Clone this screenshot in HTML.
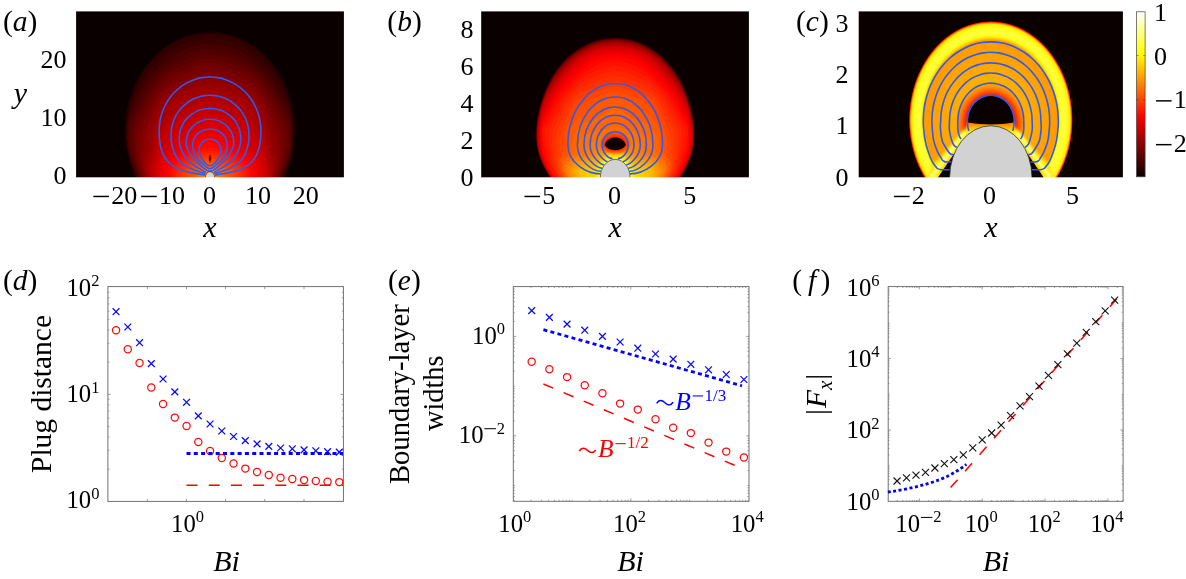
<!DOCTYPE html>
<html><head><meta charset="utf-8"><title>figure</title>
<style>
html,body{margin:0;padding:0;background:#fff;}
body{width:1186px;height:579px;overflow:hidden;font-family:"Liberation Serif",serif;}
svg{display:block;font-family:"Liberation Serif",serif;will-change:transform;}
</style></head><body>
<svg width="1186" height="579" viewBox="0 0 1186 579">
<defs><clipPath id="clipa"><rect x="76" y="11" width="268" height="167"/></clipPath><clipPath id="clipb"><rect x="481" y="11" width="268" height="167"/></clipPath><clipPath id="clipc"><rect x="858" y="11" width="265" height="167"/></clipPath><radialGradient id="ga1" gradientUnits="userSpaceOnUse" cx="0" cy="0" r="1" gradientTransform="translate(210.00 134.60) scale(85.60 104.00)"><stop offset="0.0000" stop-color="#e40000"/><stop offset="0.2170" stop-color="#da0000"/><stop offset="0.4160" stop-color="#c90000"/><stop offset="0.5900" stop-color="#b10000"/><stop offset="0.7080" stop-color="#8f0000"/><stop offset="0.8530" stop-color="#700000"/><stop offset="0.9530" stop-color="#4e0000"/><stop offset="0.9850" stop-color="#220000"/><stop offset="1.0000" stop-color="#0a0000"/></radialGradient><radialGradient id="ga1b" gradientUnits="userSpaceOnUse" cx="0" cy="0" r="1" gradientTransform="translate(210.00 134.60) scale(85.60 136.00)"><stop offset="0.0000" stop-color="#e40000"/><stop offset="0.2170" stop-color="#da0000"/><stop offset="0.4160" stop-color="#c90000"/><stop offset="0.5900" stop-color="#b10000"/><stop offset="0.7080" stop-color="#8f0000"/><stop offset="0.8530" stop-color="#700000"/><stop offset="0.9530" stop-color="#4e0000"/><stop offset="0.9850" stop-color="#220000"/><stop offset="1.0000" stop-color="#0a0000"/></radialGradient><radialGradient id="ga2" gradientUnits="userSpaceOnUse" cx="0" cy="0" r="1" gradientTransform="translate(210.00 178.00) scale(62.00 34.00)"><stop offset="0.0000" stop-color="#ff6a00" stop-opacity="0.950"/><stop offset="0.2500" stop-color="#ff4000" stop-opacity="0.800"/><stop offset="0.6000" stop-color="#ff2000" stop-opacity="0.400"/><stop offset="1.0000" stop-color="#ff0000" stop-opacity="0.000"/></radialGradient><radialGradient id="ga3" gradientUnits="userSpaceOnUse" cx="0" cy="0" r="1" gradientTransform="translate(210.00 158.60) scale(2.00 5.50)"><stop offset="0.0000" stop-color="#100000"/><stop offset="0.3500" stop-color="#500000" stop-opacity="0.750"/><stop offset="1.0000" stop-color="#d00000" stop-opacity="0.000"/></radialGradient><radialGradient id="gb1" gradientUnits="userSpaceOnUse" cx="0" cy="0" r="1" gradientTransform="translate(615.20 150.00) scale(80.50 112.50)"><stop offset="0.0000" stop-color="#ff6d00"/><stop offset="0.4300" stop-color="#ff6600"/><stop offset="0.5700" stop-color="#ff5500"/><stop offset="0.7600" stop-color="#ff3000"/><stop offset="0.9150" stop-color="#ff1100"/><stop offset="0.9780" stop-color="#be0000"/><stop offset="0.9920" stop-color="#520000"/><stop offset="1.0000" stop-color="#0a0000"/></radialGradient><radialGradient id="gb2" gradientUnits="userSpaceOnUse" cx="0" cy="0" r="1" gradientTransform="translate(615.20 180.00) scale(52.00 26.00)"><stop offset="0.0000" stop-color="#ffff20"/><stop offset="0.4500" stop-color="#ffe000" stop-opacity="0.950"/><stop offset="0.7000" stop-color="#ffa000" stop-opacity="0.600"/><stop offset="1.0000" stop-color="#ff6000" stop-opacity="0.000"/></radialGradient><radialGradient id="gb3" gradientUnits="userSpaceOnUse" cx="0" cy="0" r="1" gradientTransform="translate(615.20 144.00) scale(17.00 12.50)"><stop offset="0.0000" stop-color="#0a0000"/><stop offset="0.5500" stop-color="#0a0000"/><stop offset="0.7000" stop-color="#a00000" stop-opacity="0.900"/><stop offset="0.8500" stop-color="#ff1000" stop-opacity="0.600"/><stop offset="1.0000" stop-color="#ff3000" stop-opacity="0.000"/></radialGradient><radialGradient id="gbl" gradientUnits="userSpaceOnUse" cx="0" cy="0" r="1" gradientTransform="translate(615.20 177.00) scale(23.00 27.50)"><stop offset="0.0000" stop-color="#ffff30"/><stop offset="0.6600" stop-color="#ffff30"/><stop offset="0.7800" stop-color="#fff000" stop-opacity="0.700"/><stop offset="0.9000" stop-color="#ffd000" stop-opacity="0.300"/><stop offset="1.0000" stop-color="#ffb000" stop-opacity="0.000"/></radialGradient><radialGradient id="gc1" gradientUnits="userSpaceOnUse" cx="0" cy="0" r="1" gradientTransform="translate(990.80 120.00) scale(82.00 99.00)"><stop offset="0.0000" stop-color="#ffb100"/><stop offset="0.4500" stop-color="#ffad00"/><stop offset="0.7000" stop-color="#ffa000"/><stop offset="0.8050" stop-color="#ff9900"/><stop offset="0.8250" stop-color="#ffcf00"/><stop offset="0.8500" stop-color="#ffff0a"/><stop offset="0.8800" stop-color="#ffff47"/><stop offset="0.9300" stop-color="#ffff1f"/><stop offset="0.9680" stop-color="#ffeb00"/><stop offset="0.9820" stop-color="#ff7700"/><stop offset="0.9920" stop-color="#f50000"/><stop offset="1.0000" stop-color="#0a0000"/></radialGradient><radialGradient id="gc2" gradientUnits="userSpaceOnUse" cx="0" cy="0" r="1" gradientTransform="translate(990.80 123.00) scale(36.00 40.00)"><stop offset="0.0000" stop-color="#ff0000"/><stop offset="0.6200" stop-color="#e80000"/><stop offset="0.7500" stop-color="#ff2800" stop-opacity="0.850"/><stop offset="0.9000" stop-color="#ff6000" stop-opacity="0.400"/><stop offset="1.0000" stop-color="#ff8c00" stop-opacity="0.000"/></radialGradient><linearGradient id="gwedge" gradientUnits="userSpaceOnUse" x1="0" y1="122" x2="0" y2="132"><stop offset="0" stop-color="#ff7000"/><stop offset="0.45" stop-color="#ffa800"/><stop offset="1" stop-color="#fff000"/></linearGradient><linearGradient id="gcb" x1="0" y1="0" x2="0" y2="1"><stop offset="0.000" stop-color="#ffffff"/><stop offset="0.025" stop-color="#ffffe6"/><stop offset="0.050" stop-color="#ffffcd"/><stop offset="0.075" stop-color="#ffffb4"/><stop offset="0.100" stop-color="#ffff9b"/><stop offset="0.125" stop-color="#ffff81"/><stop offset="0.150" stop-color="#ffff68"/><stop offset="0.175" stop-color="#ffff4f"/><stop offset="0.200" stop-color="#ffff36"/><stop offset="0.225" stop-color="#ffff1d"/><stop offset="0.250" stop-color="#ffff04"/><stop offset="0.275" stop-color="#fff100"/><stop offset="0.300" stop-color="#ffe000"/><stop offset="0.325" stop-color="#ffcf00"/><stop offset="0.350" stop-color="#ffbf00"/><stop offset="0.375" stop-color="#ffae00"/><stop offset="0.400" stop-color="#ff9d00"/><stop offset="0.425" stop-color="#ff8c00"/><stop offset="0.450" stop-color="#ff7c00"/><stop offset="0.475" stop-color="#ff6b00"/><stop offset="0.500" stop-color="#ff5a00"/><stop offset="0.525" stop-color="#ff4900"/><stop offset="0.550" stop-color="#ff3900"/><stop offset="0.575" stop-color="#ff2800"/><stop offset="0.600" stop-color="#ff1700"/><stop offset="0.625" stop-color="#ff0600"/><stop offset="0.650" stop-color="#f50000"/><stop offset="0.675" stop-color="#e40000"/><stop offset="0.700" stop-color="#d30000"/><stop offset="0.725" stop-color="#c20000"/><stop offset="0.750" stop-color="#b20000"/><stop offset="0.775" stop-color="#a10000"/><stop offset="0.800" stop-color="#900000"/><stop offset="0.825" stop-color="#7f0000"/><stop offset="0.850" stop-color="#6f0000"/><stop offset="0.875" stop-color="#5e0000"/><stop offset="0.900" stop-color="#4d0000"/><stop offset="0.925" stop-color="#3c0000"/><stop offset="0.950" stop-color="#2c0000"/><stop offset="0.975" stop-color="#1b0000"/><stop offset="1.000" stop-color="#0a0000"/></linearGradient><filter id="blur12" x="-20%" y="-20%" width="140%" height="140%"><feGaussianBlur stdDeviation="1.2"/></filter><filter id="blur22" x="-20%" y="-20%" width="140%" height="140%"><feGaussianBlur stdDeviation="2.2"/></filter><filter id="blur16" x="-20%" y="-20%" width="140%" height="140%"><feGaussianBlur stdDeviation="1.6"/></filter><filter id="blur07" x="-20%" y="-20%" width="140%" height="140%"><feGaussianBlur stdDeviation="0.7"/></filter><filter id="blur25" x="-30%" y="-30%" width="160%" height="160%"><feGaussianBlur stdDeviation="2.5"/></filter></defs>
<g clip-path="url(#clipa)">
<rect x="76" y="11" width="268" height="167" fill="#0a0000"/>
<path d="M210.0 31.2L202.9 32.0L191.6 34.0L185.0 36.0L180.0 38.0L175.8 40.0L172.1 42.0L168.8 44.0L165.8 46.0L163.1 48.0L160.6 50.0L158.3 52.0L156.1 54.0L154.1 56.0L152.1 58.0L150.3 60.0L148.7 62.0L147.1 64.0L145.6 66.0L144.1 68.0L142.8 70.0L141.5 72.0L140.2 74.0L139.1 76.0L138.0 78.0L136.9 80.0L135.9 82.0L135.0 84.0L134.1 86.0L133.3 88.0L132.5 90.0L131.7 92.0L131.0 94.0L130.4 96.0L129.7 98.0L129.2 100.0L128.6 102.0L128.1 104.0L127.7 106.0L127.3 108.0L126.9 110.0L126.5 112.0L126.2 114.0L126.0 116.0L125.7 118.0L125.5 120.0L125.4 122.0L125.2 124.0L125.1 126.0L125.1 128.0L125.1 130.0L125.1 132.0L125.1 134.0L125.2 136.0L125.3 138.0L125.4 140.0L125.6 142.0L125.8 144.0L126.0 146.0L126.3 148.0L126.6 150.0L127.0 152.0L127.4 154.0L127.8 156.0L128.3 158.0L128.8 160.0L129.4 162.0L130.0 164.0L130.6 166.0L131.3 168.0L132.0 170.0L132.7 172.0L133.5 174.0L134.4 176.0L135.2 178.0L135.7 179.0L284.3 179.0L284.8 178.0L285.6 176.0L286.5 174.0L287.3 172.0L288.0 170.0L288.7 168.0L289.4 166.0L290.0 164.0L290.6 162.0L291.2 160.0L291.7 158.0L292.2 156.0L292.6 154.0L293.0 152.0L293.4 150.0L293.7 148.0L294.0 146.0L294.2 144.0L294.4 142.0L294.6 140.0L294.7 138.0L294.8 136.0L294.9 134.0L294.9 132.0L294.9 130.0L294.9 128.0L294.9 126.0L294.8 124.0L294.6 122.0L294.5 120.0L294.3 118.0L294.0 116.0L293.8 114.0L293.5 112.0L293.1 110.0L292.7 108.0L292.3 106.0L291.9 104.0L291.4 102.0L290.8 100.0L290.3 98.0L289.6 96.0L289.0 94.0L288.3 92.0L287.5 90.0L286.7 88.0L285.9 86.0L285.0 84.0L284.1 82.0L283.1 80.0L282.0 78.0L280.9 76.0L279.8 74.0L278.5 72.0L277.2 70.0L275.9 68.0L274.4 66.0L272.9 64.0L271.3 62.0L269.7 60.0L267.9 58.0L265.9 56.0L263.9 54.0L261.7 52.0L259.4 50.0L256.9 48.0L254.2 46.0L251.2 44.0L247.9 42.0L244.2 40.0L240.0 38.0L235.0 36.0L228.4 34.0L217.1 32.0Z" fill="#1b0000"/>
<path d="M210.0 32.7L194.7 34.0L187.3 36.0L181.8 38.0L177.4 40.0L173.5 42.0L170.1 44.0L167.1 46.0L164.3 48.0L161.7 50.0L159.3 52.0L157.1 54.0L155.0 56.0L153.1 58.0L151.2 60.0L149.7 62.0L148.0 64.0L146.5 66.0L145.0 68.0L143.7 70.0L142.3 72.0L141.1 74.0L139.9 76.0L138.8 78.0L137.7 80.0L136.7 82.0L135.8 84.0L134.9 86.0L134.0 88.0L133.2 90.0L132.5 92.0L131.8 94.0L131.1 96.0L130.5 98.0L129.9 100.0L129.3 102.0L128.8 104.0L128.4 106.0L127.9 108.0L127.6 110.0L127.2 112.0L126.9 114.0L126.6 116.0L126.4 118.0L126.2 120.0L126.0 122.0L125.9 124.0L125.8 126.0L125.7 128.0L125.7 130.0L125.7 132.0L125.7 134.0L125.8 136.0L125.9 138.0L126.0 140.0L126.2 142.0L126.4 144.0L126.6 146.0L126.9 148.0L127.2 150.0L127.5 152.0L127.9 154.0L128.4 156.0L128.9 158.0L129.4 160.0L129.9 162.0L130.5 164.0L131.2 166.0L131.8 168.0L132.5 170.0L133.3 172.0L134.1 174.0L134.9 176.0L135.8 178.0L136.2 179.0L283.8 179.0L284.2 178.0L285.1 176.0L285.9 174.0L286.7 172.0L287.5 170.0L288.2 168.0L288.8 166.0L289.5 164.0L290.1 162.0L290.6 160.0L291.1 158.0L291.6 156.0L292.1 154.0L292.5 152.0L292.8 150.0L293.1 148.0L293.4 146.0L293.6 144.0L293.8 142.0L294.0 140.0L294.1 138.0L294.2 136.0L294.3 134.0L294.3 132.0L294.3 130.0L294.3 128.0L294.2 126.0L294.1 124.0L294.0 122.0L293.8 120.0L293.6 118.0L293.4 116.0L293.1 114.0L292.8 112.0L292.4 110.0L292.1 108.0L291.6 106.0L291.2 104.0L290.7 102.0L290.1 100.0L289.5 98.0L288.9 96.0L288.2 94.0L287.5 92.0L286.8 90.0L286.0 88.0L285.1 86.0L284.2 84.0L283.3 82.0L282.3 80.0L281.2 78.0L280.1 76.0L278.9 74.0L277.7 72.0L276.3 70.0L275.0 68.0L273.5 66.0L272.0 64.0L270.3 62.0L268.8 60.0L266.9 58.0L265.0 56.0L262.9 54.0L260.7 52.0L258.3 50.0L255.7 48.0L252.9 46.0L249.9 44.0L246.5 42.0L242.6 40.0L238.2 38.0L232.7 36.0L225.3 34.0Z" fill="#250000"/>
<path d="M210.0 33.4L204.8 34.0L192.4 36.0L185.7 38.0L180.7 40.0L176.4 42.0L172.8 44.0L169.5 46.0L166.6 48.0L163.9 50.0L161.4 52.0L159.1 54.0L156.9 56.0L154.9 58.0L153.0 60.0L151.1 62.0L149.4 64.0L147.9 66.0L146.5 68.0L145.1 70.0L143.8 72.0L142.6 74.0L141.5 76.0L140.3 78.0L139.3 80.0L138.3 82.0L137.3 84.0L136.3 86.0L135.4 88.0L134.6 90.0L133.8 92.0L133.0 94.0L132.2 96.0L131.5 98.0L130.8 100.0L130.2 102.0L129.6 104.0L129.1 106.0L128.7 108.0L128.2 110.0L127.9 112.0L127.6 114.0L127.3 116.0L127.1 118.0L126.8 120.0L126.7 122.0L126.5 124.0L126.4 126.0L126.3 128.0L126.3 130.0L126.3 132.0L126.3 134.0L126.4 136.0L126.4 138.0L126.6 140.0L126.7 142.0L126.9 144.0L127.1 146.0L127.4 148.0L127.7 150.0L128.1 152.0L128.5 154.0L128.9 156.0L129.4 158.0L129.9 160.0L130.5 162.0L131.1 164.0L131.7 166.0L132.4 168.0L133.1 170.0L133.9 172.0L134.6 174.0L135.5 176.0L136.3 178.0L136.8 179.0L283.2 179.0L283.7 178.0L284.5 176.0L285.4 174.0L286.1 172.0L286.9 170.0L287.6 168.0L288.3 166.0L288.9 164.0L289.5 162.0L290.1 160.0L290.6 158.0L291.1 156.0L291.5 154.0L291.9 152.0L292.3 150.0L292.6 148.0L292.9 146.0L293.1 144.0L293.3 142.0L293.4 140.0L293.6 138.0L293.6 136.0L293.7 134.0L293.7 132.0L293.7 130.0L293.7 128.0L293.6 126.0L293.5 124.0L293.3 122.0L293.2 120.0L292.9 118.0L292.7 116.0L292.4 114.0L292.1 112.0L291.8 110.0L291.3 108.0L290.9 106.0L290.4 104.0L289.8 102.0L289.2 100.0L288.5 98.0L287.8 96.0L287.0 94.0L286.2 92.0L285.4 90.0L284.6 88.0L283.7 86.0L282.7 84.0L281.7 82.0L280.7 80.0L279.7 78.0L278.5 76.0L277.4 74.0L276.2 72.0L274.9 70.0L273.5 68.0L272.1 66.0L270.6 64.0L268.9 62.0L267.0 60.0L265.1 58.0L263.1 56.0L260.9 54.0L258.6 52.0L256.1 50.0L253.4 48.0L250.5 46.0L247.2 44.0L243.6 42.0L239.3 40.0L234.3 38.0L227.6 36.0L215.2 34.0Z" fill="#300000"/>
<path d="M210.0 38.8L197.6 40.0L189.5 42.0L183.9 44.0L179.5 46.0L175.6 48.0L172.3 50.0L169.3 52.0L166.6 54.0L164.1 56.0L161.7 58.0L159.6 60.0L157.3 62.0L155.2 64.0L153.2 66.0L151.3 68.0L149.5 70.0L147.9 72.0L146.3 74.0L144.8 76.0L143.5 78.0L142.2 80.0L141.1 82.0L140.0 84.0L138.9 86.0L138.0 88.0L137.1 90.0L136.2 92.0L135.4 94.0L134.7 96.0L133.9 98.0L133.3 100.0L132.3 102.0L131.4 104.0L130.6 106.0L130.0 108.0L129.5 110.0L129.0 112.0L128.6 114.0L128.2 116.0L127.9 118.0L127.6 120.0L127.4 122.0L127.2 124.0L127.1 126.0L127.0 128.0L126.9 130.0L126.9 132.0L126.9 134.0L127.0 136.0L127.0 138.0L127.1 140.0L127.3 142.0L127.5 144.0L127.7 146.0L127.9 148.0L128.2 150.0L128.6 152.0L129.0 154.0L129.5 156.0L129.9 158.0L130.5 160.0L131.0 162.0L131.6 164.0L132.3 166.0L132.9 168.0L133.7 170.0L134.4 172.0L135.2 174.0L136.0 176.0L136.9 178.0L137.3 179.0L282.7 179.0L283.1 178.0L284.0 176.0L284.8 174.0L285.6 172.0L286.3 170.0L287.1 168.0L287.7 166.0L288.4 164.0L289.0 162.0L289.5 160.0L290.1 158.0L290.5 156.0L291.0 154.0L291.4 152.0L291.8 150.0L292.1 148.0L292.3 146.0L292.5 144.0L292.7 142.0L292.9 140.0L293.0 138.0L293.0 136.0L293.1 134.0L293.1 132.0L293.1 130.0L293.0 128.0L292.9 126.0L292.8 124.0L292.6 122.0L292.4 120.0L292.1 118.0L291.8 116.0L291.4 114.0L291.0 112.0L290.5 110.0L290.0 108.0L289.4 106.0L288.6 104.0L287.7 102.0L286.7 100.0L286.1 98.0L285.3 96.0L284.6 94.0L283.8 92.0L282.9 90.0L282.0 88.0L281.1 86.0L280.0 84.0L278.9 82.0L277.8 80.0L276.5 78.0L275.2 76.0L273.7 74.0L272.1 72.0L270.5 70.0L268.7 68.0L266.8 66.0L264.8 64.0L262.7 62.0L260.4 60.0L258.3 58.0L255.9 56.0L253.4 54.0L250.7 52.0L247.7 50.0L244.4 48.0L240.5 46.0L236.1 44.0L230.5 42.0L222.4 40.0Z" fill="#3a0000"/>
<path d="M210.0 43.6L206.8 44.0L193.8 46.0L187.4 48.0L182.6 50.0L178.5 52.0L175.1 54.0L172.0 56.0L169.2 58.0L166.7 60.0L164.0 62.0L161.5 64.0L159.3 66.0L157.1 68.0L155.1 70.0L153.3 72.0L151.5 74.0L149.8 76.0L148.3 78.0L146.8 80.0L145.4 82.0L144.1 84.0L142.8 86.0L141.6 88.0L140.5 90.0L139.4 92.0L138.4 94.0L137.4 96.0L136.5 98.0L135.7 100.0L134.8 102.0L133.9 104.0L133.0 106.0L132.2 108.0L131.4 110.0L130.6 112.0L129.8 114.0L129.2 116.0L128.8 118.0L128.5 120.0L128.2 122.0L128.0 124.0L127.8 126.0L127.7 128.0L127.6 130.0L127.5 132.0L127.5 134.0L127.6 136.0L127.6 138.0L127.7 140.0L127.9 142.0L128.0 144.0L128.2 146.0L128.5 148.0L128.7 150.0L129.1 152.0L129.6 154.0L130.0 156.0L130.5 158.0L131.1 160.0L131.7 162.0L132.3 164.0L133.0 166.0L133.8 168.0L134.6 170.0L135.5 172.0L136.2 174.0L137.1 176.0L137.9 178.0L138.4 179.0L281.6 179.0L282.1 178.0L282.9 176.0L283.8 174.0L284.5 172.0L285.4 170.0L286.2 168.0L287.0 166.0L287.7 164.0L288.3 162.0L288.9 160.0L289.5 158.0L290.0 156.0L290.4 154.0L290.9 152.0L291.3 150.0L291.5 148.0L291.8 146.0L292.0 144.0L292.1 142.0L292.3 140.0L292.4 138.0L292.4 136.0L292.5 134.0L292.5 132.0L292.4 130.0L292.3 128.0L292.2 126.0L292.0 124.0L291.8 122.0L291.5 120.0L291.2 118.0L290.8 116.0L290.2 114.0L289.4 112.0L288.6 110.0L287.8 108.0L287.0 106.0L286.1 104.0L285.2 102.0L284.3 100.0L283.5 98.0L282.6 96.0L281.6 94.0L280.6 92.0L279.5 90.0L278.4 88.0L277.2 86.0L275.9 84.0L274.6 82.0L273.2 80.0L271.7 78.0L270.2 76.0L268.5 74.0L266.7 72.0L264.9 70.0L262.9 68.0L260.7 66.0L258.5 64.0L256.0 62.0L253.3 60.0L250.8 58.0L248.0 56.0L244.9 54.0L241.5 52.0L237.4 50.0L232.6 48.0L226.2 46.0L213.2 44.0Z" fill="#450000"/>
<path d="M210.0 48.9L199.8 50.0L191.5 52.0L186.1 54.0L181.8 56.0L178.2 58.0L175.0 60.0L171.4 62.0L168.1 64.0L165.3 66.0L162.9 68.0L160.6 70.0L158.6 72.0L156.7 74.0L154.9 76.0L153.3 78.0L151.6 80.0L150.1 82.0L148.6 84.0L147.2 86.0L145.9 88.0L144.7 90.0L143.5 92.0L142.4 94.0L141.4 96.0L140.4 98.0L139.4 100.0L138.2 102.0L137.0 104.0L136.0 106.0L134.9 108.0L134.0 110.0L133.1 112.0L132.4 114.0L131.7 116.0L131.0 118.0L130.3 120.0L129.7 122.0L129.1 124.0L128.6 126.0L128.3 128.0L128.2 130.0L128.2 132.0L128.2 134.0L128.2 136.0L128.3 138.0L128.4 140.0L128.5 142.0L128.6 144.0L128.8 146.0L129.0 148.0L129.3 150.0L129.7 152.0L130.2 154.0L130.7 156.0L131.4 158.0L132.1 160.0L132.8 162.0L133.5 164.0L134.2 166.0L135.0 168.0L135.8 170.0L136.6 172.0L137.4 174.0L138.2 176.0L139.0 178.0L139.4 179.0L280.6 179.0L281.0 178.0L281.8 176.0L282.6 174.0L283.4 172.0L284.2 170.0L285.0 168.0L285.8 166.0L286.5 164.0L287.2 162.0L287.9 160.0L288.6 158.0L289.3 156.0L289.8 154.0L290.3 152.0L290.7 150.0L291.0 148.0L291.2 146.0L291.4 144.0L291.5 142.0L291.6 140.0L291.7 138.0L291.8 136.0L291.8 134.0L291.8 132.0L291.8 130.0L291.7 128.0L291.4 126.0L290.9 124.0L290.3 122.0L289.7 120.0L289.0 118.0L288.3 116.0L287.6 114.0L286.9 112.0L286.0 110.0L285.1 108.0L284.0 106.0L283.0 104.0L281.8 102.0L280.6 100.0L279.6 98.0L278.6 96.0L277.6 94.0L276.5 92.0L275.3 90.0L274.1 88.0L272.8 86.0L271.4 84.0L269.9 82.0L268.4 80.0L266.7 78.0L265.1 76.0L263.3 74.0L261.4 72.0L259.4 70.0L257.1 68.0L254.7 66.0L251.9 64.0L248.6 62.0L245.0 60.0L241.8 58.0L238.2 56.0L233.9 54.0L228.5 52.0L220.2 50.0Z" fill="#500000"/>
<path d="M210.0 54.6L196.4 56.0L189.9 58.0L185.2 60.0L180.4 62.0L176.0 64.0L172.5 66.0L169.3 68.0L166.4 70.0L163.9 72.0L161.7 74.0L159.7 76.0L157.8 78.0L156.1 80.0L154.5 82.0L153.0 84.0L151.5 86.0L150.2 88.0L148.9 90.0L147.6 92.0L146.4 94.0L145.3 96.0L144.2 98.0L143.2 100.0L141.9 102.0L140.7 104.0L139.5 106.0L138.3 108.0L137.3 110.0L136.3 112.0L135.4 114.0L134.5 116.0L133.7 118.0L133.0 120.0L132.3 122.0L131.7 124.0L131.2 126.0L130.6 128.0L130.1 130.0L130.1 132.0L130.0 134.0L130.0 136.0L130.0 138.0L130.1 140.0L130.2 142.0L130.3 144.0L130.5 146.0L130.7 148.0L130.9 150.0L131.5 152.0L132.0 154.0L132.5 156.0L133.1 158.0L133.7 160.0L134.3 162.0L134.9 164.0L135.6 166.0L136.3 168.0L137.0 170.0L137.7 172.0L138.5 174.0L139.3 176.0L140.1 178.0L140.5 179.0L279.5 179.0L279.9 178.0L280.7 176.0L281.5 174.0L282.3 172.0L283.0 170.0L283.7 168.0L284.4 166.0L285.1 164.0L285.7 162.0L286.3 160.0L286.9 158.0L287.5 156.0L288.0 154.0L288.5 152.0L289.1 150.0L289.3 148.0L289.5 146.0L289.7 144.0L289.8 142.0L289.9 140.0L290.0 138.0L290.0 136.0L290.0 134.0L289.9 132.0L289.9 130.0L289.4 128.0L288.8 126.0L288.3 124.0L287.7 122.0L287.0 120.0L286.3 118.0L285.5 116.0L284.6 114.0L283.7 112.0L282.7 110.0L281.7 108.0L280.5 106.0L279.3 104.0L278.1 102.0L276.8 100.0L275.8 98.0L274.7 96.0L273.6 94.0L272.4 92.0L271.1 90.0L269.8 88.0L268.5 86.0L267.0 84.0L265.5 82.0L263.9 80.0L262.2 78.0L260.3 76.0L258.3 74.0L256.1 72.0L253.6 70.0L250.7 68.0L247.5 66.0L244.0 64.0L239.6 62.0L234.8 60.0L230.1 58.0L223.6 56.0Z" fill="#5a0000"/>
<path d="M210.0 58.5L195.9 60.0L191.6 62.0L187.3 64.0L182.2 66.0L177.4 68.0L173.3 70.0L170.3 72.0L167.4 74.0L164.8 76.0L162.4 78.0L160.5 80.0L158.7 82.0L157.0 84.0L155.5 86.0L154.0 88.0L152.6 90.0L151.3 92.0L150.1 94.0L149.0 96.0L147.9 98.0L146.9 100.0L145.7 102.0L144.5 104.0L143.3 106.0L142.2 108.0L141.0 110.0L139.9 112.0L138.8 114.0L137.7 116.0L136.8 118.0L136.0 120.0L135.2 122.0L134.6 124.0L133.9 126.0L133.3 128.0L132.8 130.0L132.7 132.0L132.6 134.0L132.6 136.0L132.6 138.0L132.6 140.0L132.7 142.0L132.7 144.0L132.9 146.0L133.0 148.0L133.2 150.0L133.6 152.0L134.0 154.0L134.4 156.0L134.8 158.0L135.3 160.0L135.8 162.0L136.3 164.0L136.9 166.0L137.5 168.0L138.2 170.0L138.9 172.0L139.6 174.0L140.4 176.0L141.2 178.0L141.6 179.0L278.4 179.0L278.8 178.0L279.6 176.0L280.4 174.0L281.1 172.0L281.8 170.0L282.5 168.0L283.1 166.0L283.7 164.0L284.2 162.0L284.7 160.0L285.2 158.0L285.6 156.0L286.0 154.0L286.4 152.0L286.8 150.0L287.0 148.0L287.1 146.0L287.3 144.0L287.3 142.0L287.4 140.0L287.4 138.0L287.4 136.0L287.4 134.0L287.3 132.0L287.2 130.0L286.7 128.0L286.1 126.0L285.4 124.0L284.8 122.0L284.0 120.0L283.2 118.0L282.3 116.0L281.2 114.0L280.1 112.0L279.0 110.0L277.8 108.0L276.7 106.0L275.5 104.0L274.3 102.0L273.1 100.0L272.1 98.0L271.0 96.0L269.9 94.0L268.7 92.0L267.4 90.0L266.0 88.0L264.5 86.0L263.0 84.0L261.3 82.0L259.5 80.0L257.6 78.0L255.2 76.0L252.6 74.0L249.7 72.0L246.7 70.0L242.6 68.0L237.8 66.0L232.7 64.0L228.4 62.0L224.1 60.0Z" fill="#650000"/>
<path d="M210.0 62.7L199.2 64.0L193.8 66.0L189.2 68.0L184.4 70.0L179.4 72.0L174.7 74.0L171.1 76.0L168.4 78.0L165.9 80.0L163.5 82.0L161.3 84.0L159.4 86.0L157.8 88.0L156.3 90.0L154.9 92.0L153.6 94.0L152.4 96.0L151.2 98.0L150.1 100.0L149.1 102.0L148.0 104.0L147.0 106.0L146.0 108.0L145.0 110.0L143.9 112.0L142.8 114.0L141.7 116.0L140.7 118.0L139.6 120.0L138.6 122.0L137.5 124.0L136.7 126.0L136.1 128.0L135.5 130.0L135.3 132.0L135.2 134.0L135.1 136.0L135.1 138.0L135.1 140.0L135.1 142.0L135.2 144.0L135.3 146.0L135.4 148.0L135.5 150.0L135.7 152.0L135.9 154.0L136.2 156.0L136.5 158.0L136.9 160.0L137.3 162.0L137.7 164.0L138.2 166.0L138.8 168.0L139.4 170.0L140.0 172.0L140.7 174.0L141.5 176.0L142.3 178.0L142.7 179.0L277.3 179.0L277.7 178.0L278.5 176.0L279.3 174.0L280.0 172.0L280.6 170.0L281.2 168.0L281.8 166.0L282.3 164.0L282.7 162.0L283.1 160.0L283.5 158.0L283.8 156.0L284.1 154.0L284.3 152.0L284.5 150.0L284.6 148.0L284.7 146.0L284.8 144.0L284.9 142.0L284.9 140.0L284.9 138.0L284.9 136.0L284.8 134.0L284.7 132.0L284.5 130.0L283.9 128.0L283.3 126.0L282.5 124.0L281.4 122.0L280.4 120.0L279.3 118.0L278.3 116.0L277.2 114.0L276.1 112.0L275.0 110.0L274.0 108.0L273.0 106.0L272.0 104.0L270.9 102.0L269.9 100.0L268.8 98.0L267.6 96.0L266.4 94.0L265.1 92.0L263.7 90.0L262.2 88.0L260.6 86.0L258.7 84.0L256.5 82.0L254.1 80.0L251.6 78.0L248.9 76.0L245.3 74.0L240.6 72.0L235.6 70.0L230.8 68.0L226.2 66.0L220.8 64.0Z" fill="#700000"/>
<path d="M210.0 67.3L205.7 68.0L197.2 70.0L191.6 72.0L186.7 74.0L181.8 76.0L176.9 78.0L172.3 80.0L169.2 82.0L166.8 84.0L164.5 86.0L162.4 88.0L160.4 90.0L158.5 92.0L157.1 94.0L155.7 96.0L154.5 98.0L153.3 100.0L152.3 102.0L151.4 104.0L150.4 106.0L149.5 108.0L148.5 110.0L147.6 112.0L146.6 114.0L145.7 116.0L144.7 118.0L143.8 120.0L142.7 122.0L141.8 124.0L140.8 126.0L139.8 128.0L138.9 130.0L138.5 132.0L138.2 134.0L137.9 136.0L137.7 138.0L137.6 140.0L137.6 142.0L137.6 144.0L137.6 146.0L137.7 148.0L137.9 150.0L137.9 152.0L138.0 154.0L138.2 156.0L138.4 158.0L138.7 160.0L139.0 162.0L139.3 164.0L139.7 166.0L140.2 168.0L140.7 170.0L141.3 172.0L142.0 174.0L142.7 176.0L143.5 178.0L143.9 179.0L276.1 179.0L276.5 178.0L277.3 176.0L278.0 174.0L278.7 172.0L279.3 170.0L279.8 168.0L280.3 166.0L280.7 164.0L281.0 162.0L281.3 160.0L281.6 158.0L281.8 156.0L282.0 154.0L282.1 152.0L282.1 150.0L282.3 148.0L282.4 146.0L282.4 144.0L282.4 142.0L282.4 140.0L282.3 138.0L282.1 136.0L281.8 134.0L281.5 132.0L281.1 130.0L280.2 128.0L279.2 126.0L278.2 124.0L277.3 122.0L276.2 120.0L275.3 118.0L274.3 116.0L273.4 114.0L272.4 112.0L271.5 110.0L270.5 108.0L269.6 106.0L268.6 104.0L267.7 102.0L266.7 100.0L265.5 98.0L264.3 96.0L262.9 94.0L261.5 92.0L259.6 90.0L257.6 88.0L255.5 86.0L253.2 84.0L250.8 82.0L247.7 80.0L243.1 78.0L238.2 76.0L233.3 74.0L228.4 72.0L222.8 70.0L214.3 68.0Z" fill="#7a0000"/>
<path d="M210.0 73.0L202.6 74.0L195.2 76.0L189.5 78.0L184.4 80.0L179.4 82.0L174.7 84.0L170.1 86.0L167.6 88.0L165.4 90.0L163.4 92.0L161.5 94.0L159.6 96.0L157.9 98.0L156.5 100.0L155.5 102.0L154.6 104.0L153.7 106.0L152.8 108.0L151.9 110.0L151.1 112.0L150.3 114.0L149.4 116.0L148.6 118.0L147.7 120.0L146.8 122.0L145.9 124.0L145.0 126.0L144.1 128.0L143.2 130.0L142.7 132.0L142.2 134.0L141.7 136.0L141.4 138.0L141.0 140.0L140.7 142.0L140.5 144.0L140.2 146.0L140.1 148.0L140.2 150.0L140.1 152.0L140.1 154.0L140.2 156.0L140.3 158.0L140.5 160.0L140.7 162.0L141.0 164.0L141.3 166.0L141.7 168.0L142.2 170.0L142.6 172.0L143.3 174.0L144.1 176.0L144.8 178.0L145.2 179.0L274.8 179.0L275.2 178.0L275.9 176.0L276.7 174.0L277.4 172.0L277.8 170.0L278.3 168.0L278.7 166.0L279.0 164.0L279.3 162.0L279.5 160.0L279.7 158.0L279.8 156.0L279.9 154.0L279.9 152.0L279.8 150.0L279.9 148.0L279.8 146.0L279.5 144.0L279.3 142.0L279.0 140.0L278.6 138.0L278.3 136.0L277.8 134.0L277.3 132.0L276.8 130.0L275.9 128.0L275.0 126.0L274.1 124.0L273.2 122.0L272.3 120.0L271.4 118.0L270.6 116.0L269.7 114.0L268.9 112.0L268.1 110.0L267.2 108.0L266.3 106.0L265.4 104.0L264.5 102.0L263.5 100.0L262.1 98.0L260.4 96.0L258.5 94.0L256.6 92.0L254.6 90.0L252.4 88.0L249.9 86.0L245.3 84.0L240.6 82.0L235.6 80.0L230.5 78.0L224.8 76.0L217.4 74.0Z" fill="#850000"/>
<path d="M210.0 78.8L200.1 80.0L193.2 82.0L187.2 84.0L182.1 86.0L177.3 88.0L172.6 90.0L168.3 92.0L166.2 94.0L164.3 96.0L162.4 98.0L160.7 100.0L159.4 102.0L158.2 104.0L157.1 106.0L156.1 108.0L155.1 110.0L154.3 112.0L153.5 114.0L152.7 116.0L152.0 118.0L151.2 120.0L150.5 122.0L149.9 124.0L149.1 126.0L148.3 128.0L147.5 130.0L146.9 132.0L146.3 134.0L145.8 136.0L145.3 138.0L144.9 140.0L144.6 142.0L144.2 144.0L143.9 146.0L143.7 148.0L143.5 150.0L142.9 152.0L142.5 154.0L142.3 156.0L142.2 158.0L142.3 160.0L142.4 162.0L142.6 164.0L142.9 166.0L143.2 168.0L143.6 170.0L144.0 172.0L144.7 174.0L145.4 176.0L146.2 178.0L146.6 179.0L273.4 179.0L273.8 178.0L274.6 176.0L275.3 174.0L276.0 172.0L276.4 170.0L276.8 168.0L277.1 166.0L277.4 164.0L277.6 162.0L277.7 160.0L277.8 158.0L277.7 156.0L277.5 154.0L277.1 152.0L276.5 150.0L276.3 148.0L276.1 146.0L275.8 144.0L275.4 142.0L275.1 140.0L274.7 138.0L274.2 136.0L273.7 134.0L273.1 132.0L272.5 130.0L271.7 128.0L270.9 126.0L270.1 124.0L269.5 122.0L268.8 120.0L268.0 118.0L267.3 116.0L266.5 114.0L265.7 112.0L264.9 110.0L263.9 108.0L262.9 106.0L261.8 104.0L260.6 102.0L259.3 100.0L257.6 98.0L255.7 96.0L253.8 94.0L251.7 92.0L247.4 90.0L242.7 88.0L237.9 86.0L232.8 84.0L226.8 82.0L219.9 80.0Z" fill="#8f0000"/>
<path d="M210.0 83.9L209.3 84.0L198.1 86.0L191.2 88.0L184.9 90.0L180.0 92.0L175.3 94.0L170.7 96.0L167.0 98.0L165.1 100.0L163.9 102.0L162.6 104.0L161.3 106.0L160.1 108.0L159.0 110.0L158.0 112.0L157.0 114.0L156.1 116.0L155.2 118.0L154.4 120.0L153.7 122.0L153.1 124.0L152.4 126.0L151.8 128.0L151.2 130.0L150.6 132.0L150.2 134.0L149.8 136.0L149.3 138.0L148.8 140.0L148.4 142.0L148.0 144.0L147.6 146.0L147.3 148.0L147.1 150.0L146.2 152.0L145.4 154.0L144.9 156.0L144.6 158.0L144.4 160.0L144.3 162.0L144.4 164.0L144.5 166.0L144.8 168.0L145.1 170.0L145.4 172.0L146.1 174.0L146.8 176.0L147.5 178.0L147.9 179.0L272.1 179.0L272.5 178.0L273.2 176.0L273.9 174.0L274.6 172.0L274.9 170.0L275.2 168.0L275.5 166.0L275.6 164.0L275.7 162.0L275.6 160.0L275.4 158.0L275.1 156.0L274.6 154.0L273.8 152.0L272.9 150.0L272.7 148.0L272.4 146.0L272.0 144.0L271.6 142.0L271.2 140.0L270.7 138.0L270.2 136.0L269.8 134.0L269.4 132.0L268.8 130.0L268.2 128.0L267.6 126.0L266.9 124.0L266.3 122.0L265.6 120.0L264.8 118.0L263.9 116.0L263.0 114.0L262.0 112.0L261.0 110.0L259.9 108.0L258.7 106.0L257.4 104.0L256.1 102.0L254.9 100.0L253.0 98.0L249.3 96.0L244.7 94.0L240.0 92.0L235.1 90.0L228.8 88.0L221.9 86.0L210.7 84.0Z" fill="#9a0000"/>
<path d="M210.0 89.4L205.5 90.0L196.1 92.0L189.2 94.0L182.7 96.0L178.1 98.0L173.5 100.0L170.7 102.0L168.1 104.0L166.1 106.0L164.9 108.0L163.6 110.0L162.3 112.0L161.0 114.0L159.8 116.0L158.8 118.0L157.9 120.0L157.1 122.0L156.3 124.0L155.6 126.0L154.9 128.0L154.3 130.0L153.7 132.0L153.1 134.0L152.6 136.0L152.2 138.0L151.8 140.0L151.5 142.0L151.2 144.0L151.0 146.0L150.8 148.0L150.6 150.0L149.6 152.0L148.7 154.0L147.9 156.0L147.2 158.0L146.7 160.0L146.3 162.0L146.2 164.0L146.2 166.0L146.4 168.0L146.6 170.0L146.8 172.0L147.5 174.0L148.2 176.0L148.9 178.0L149.3 179.0L270.7 179.0L271.1 178.0L271.8 176.0L272.5 174.0L273.2 172.0L273.4 170.0L273.6 168.0L273.8 166.0L273.8 164.0L273.7 162.0L273.3 160.0L272.8 158.0L272.1 156.0L271.3 154.0L270.4 152.0L269.4 150.0L269.2 148.0L269.0 146.0L268.8 144.0L268.5 142.0L268.2 140.0L267.8 138.0L267.4 136.0L266.9 134.0L266.3 132.0L265.7 130.0L265.1 128.0L264.4 126.0L263.7 124.0L262.9 122.0L262.1 120.0L261.2 118.0L260.2 116.0L259.0 114.0L257.7 112.0L256.4 110.0L255.1 108.0L253.9 106.0L251.9 104.0L249.3 102.0L246.5 100.0L241.9 98.0L237.3 96.0L230.8 94.0L223.9 92.0L214.5 90.0Z" fill="#a50000"/>
<path d="M210.0 95.1L202.5 96.0L194.3 98.0L186.9 100.0L182.2 102.0L179.2 104.0L176.1 106.0L173.4 108.0L171.0 110.0L168.8 112.0L166.8 114.0L165.1 116.0L163.9 118.0L162.6 120.0L161.2 122.0L159.8 124.0L158.9 126.0L158.2 128.0L157.5 130.0L156.7 132.0L156.0 134.0L155.4 136.0L154.9 138.0L154.4 140.0L154.0 142.0L153.6 144.0L153.3 146.0L153.1 148.0L152.9 150.0L152.3 152.0L151.7 154.0L151.0 156.0L150.3 158.0L149.6 160.0L149.0 162.0L148.6 164.0L148.2 166.0L148.0 168.0L148.0 170.0L148.2 172.0L148.9 174.0L149.5 176.0L150.2 178.0L150.6 179.0L269.4 179.0L269.8 178.0L270.5 176.0L271.1 174.0L271.8 172.0L272.0 170.0L272.0 168.0L271.8 166.0L271.4 164.0L271.0 162.0L270.4 160.0L269.7 158.0L269.0 156.0L268.3 154.0L267.7 152.0L267.1 150.0L266.9 148.0L266.7 146.0L266.4 144.0L266.0 142.0L265.6 140.0L265.1 138.0L264.6 136.0L264.0 134.0L263.3 132.0L262.5 130.0L261.8 128.0L261.1 126.0L260.2 124.0L258.8 122.0L257.4 120.0L256.1 118.0L254.9 116.0L253.2 114.0L251.2 112.0L249.0 110.0L246.6 108.0L243.9 106.0L240.8 104.0L237.8 102.0L233.1 100.0L225.7 98.0L217.5 96.0Z" fill="#af0000"/>
<path d="M210.0 100.9L202.5 102.0L195.9 104.0L190.5 106.0L185.9 108.0L181.8 110.0L178.8 112.0L175.7 114.0L173.3 116.0L171.3 118.0L169.4 120.0L167.7 122.0L166.1 124.0L164.6 126.0L163.3 128.0L161.9 130.0L160.3 132.0L159.1 134.0L158.3 136.0L157.6 138.0L157.1 140.0L156.5 142.0L156.1 144.0L155.7 146.0L155.4 148.0L155.1 150.0L154.6 152.0L154.0 154.0L153.5 156.0L152.9 158.0L152.4 160.0L151.8 162.0L151.2 164.0L150.8 166.0L150.4 168.0L150.1 170.0L149.9 172.0L150.6 174.0L151.2 176.0L151.9 178.0L152.3 179.0L267.7 179.0L268.1 178.0L268.8 176.0L269.4 174.0L270.1 172.0L269.9 170.0L269.6 168.0L269.2 166.0L268.8 164.0L268.2 162.0L267.6 160.0L267.1 158.0L266.5 156.0L266.0 154.0L265.4 152.0L264.9 150.0L264.6 148.0L264.3 146.0L263.9 144.0L263.5 142.0L262.9 140.0L262.4 138.0L261.7 136.0L260.9 134.0L259.7 132.0L258.1 130.0L256.7 128.0L255.4 126.0L253.9 124.0L252.3 122.0L250.6 120.0L248.7 118.0L246.7 116.0L244.3 114.0L241.2 112.0L238.2 110.0L234.1 108.0L229.5 106.0L224.1 104.0L217.5 102.0Z" fill="#ba0000"/>
<path d="M210.0 107.5L207.4 108.0L199.6 110.0L193.8 112.0L189.1 114.0L185.1 116.0L181.6 118.0L178.6 120.0L175.6 122.0L173.4 124.0L171.6 126.0L170.0 128.0L168.5 130.0L167.0 132.0L165.4 134.0L163.9 136.0L162.3 138.0L160.8 140.0L159.4 142.0L158.6 144.0L158.1 146.0L157.7 148.0L157.4 150.0L156.8 152.0L156.3 154.0L155.7 156.0L155.2 158.0L154.7 160.0L154.2 162.0L153.8 164.0L153.3 166.0L152.9 168.0L152.5 170.0L152.2 172.0L152.8 174.0L153.5 176.0L154.1 178.0L154.5 179.0L265.5 179.0L265.9 178.0L266.5 176.0L267.2 174.0L267.8 172.0L267.5 170.0L267.1 168.0L266.7 166.0L266.2 164.0L265.8 162.0L265.3 160.0L264.8 158.0L264.3 156.0L263.7 154.0L263.2 152.0L262.6 150.0L262.3 148.0L261.9 146.0L261.4 144.0L260.6 142.0L259.2 140.0L257.7 138.0L256.1 136.0L254.6 134.0L253.0 132.0L251.5 130.0L250.0 128.0L248.4 126.0L246.6 124.0L244.4 122.0L241.4 120.0L238.4 118.0L234.9 116.0L230.9 114.0L226.2 112.0L220.4 110.0L212.6 108.0Z" fill="#c50000"/>
<path d="M210.0 115.1L204.3 116.0L197.6 118.0L191.7 120.0L188.0 122.0L184.7 124.0L181.5 126.0L178.6 128.0L175.8 130.0L173.7 132.0L172.1 134.0L170.6 136.0L169.1 138.0L167.6 140.0L166.1 142.0L164.6 144.0L163.1 146.0L161.6 148.0L160.1 150.0L159.1 152.0L158.6 154.0L158.1 156.0L157.5 158.0L157.0 160.0L156.5 162.0L156.1 164.0L155.6 166.0L155.2 168.0L154.9 170.0L154.5 172.0L155.1 174.0L155.7 176.0L156.3 178.0L156.7 179.0L263.3 179.0L263.7 178.0L264.3 176.0L264.9 174.0L265.5 172.0L265.1 170.0L264.8 168.0L264.4 166.0L263.9 164.0L263.5 162.0L263.0 160.0L262.5 158.0L261.9 156.0L261.4 154.0L260.9 152.0L259.9 150.0L258.4 148.0L256.9 146.0L255.4 144.0L253.9 142.0L252.4 140.0L250.9 138.0L249.4 136.0L247.9 134.0L246.3 132.0L244.2 130.0L241.4 128.0L238.5 126.0L235.3 124.0L232.0 122.0L228.3 120.0L222.4 118.0L215.7 116.0Z" fill="#cf0000"/>
<path d="M210.0 121.7L208.7 122.0L201.8 124.0L195.6 126.0L190.5 128.0L187.4 130.0L183.7 132.0L180.8 134.0L178.3 136.0L176.1 138.0L174.4 140.0L172.9 142.0L171.4 144.0L170.0 146.0L168.5 148.0L167.0 150.0L164.6 152.0L162.6 154.0L161.0 156.0L160.0 158.0L159.5 160.0L159.0 162.0L158.5 164.0L157.9 166.0L157.5 168.0L157.2 170.0L156.8 172.0L157.4 174.0L158.0 176.0L158.6 178.0L158.9 179.0L261.1 179.0L261.4 178.0L262.0 176.0L262.6 174.0L263.2 172.0L262.8 170.0L262.5 168.0L262.1 166.0L261.5 164.0L261.0 162.0L260.5 160.0L260.0 158.0L259.0 156.0L257.4 154.0L255.4 152.0L253.0 150.0L251.5 148.0L250.0 146.0L248.6 144.0L247.1 142.0L245.6 140.0L243.9 138.0L241.7 136.0L239.2 134.0L236.3 132.0L232.6 130.0L229.5 128.0L224.4 126.0L218.2 124.0L211.3 122.0Z" fill="#da0000"/>
<path d="M210.0 129.4L205.7 130.0L196.5 132.0L190.6 134.0L187.1 136.0L184.3 138.0L182.0 140.0L179.9 142.0L178.1 144.0L176.6 146.0L175.3 148.0L173.9 150.0L170.6 152.0L168.1 154.0L166.1 156.0L164.5 158.0L163.1 160.0L161.9 162.0L161.1 164.0L160.6 166.0L160.1 168.0L159.6 170.0L159.1 172.0L159.6 174.0L160.2 176.0L160.8 178.0L161.1 179.0L258.9 179.0L259.2 178.0L259.8 176.0L260.4 174.0L260.9 172.0L260.4 170.0L259.9 168.0L259.4 166.0L258.9 164.0L258.1 162.0L256.9 160.0L255.5 158.0L253.9 156.0L251.9 154.0L249.4 152.0L246.1 150.0L244.7 148.0L243.4 146.0L241.9 144.0L240.1 142.0L238.0 140.0L235.7 138.0L232.9 136.0L229.4 134.0L223.5 132.0L214.3 130.0Z" fill="#e40000"/>
<path d="M210.0 133.7L208.2 134.0L198.6 136.0L193.6 138.0L189.9 140.0L187.1 142.0L184.8 144.0L182.9 146.0L181.2 148.0L179.7 150.0L176.4 152.0L173.5 154.0L171.0 156.0L169.0 158.0L167.4 160.0L166.0 162.0L164.9 164.0L163.9 166.0L163.1 168.0L162.5 170.0L162.0 172.0L162.5 174.0L163.0 176.0L163.6 178.0L163.9 179.0L256.1 179.0L256.4 178.0L257.0 176.0L257.5 174.0L258.0 172.0L257.5 170.0L256.9 168.0L256.1 166.0L255.1 164.0L254.0 162.0L252.6 160.0L251.0 158.0L249.0 156.0L246.5 154.0L243.6 152.0L240.3 150.0L238.8 148.0L237.1 146.0L235.2 144.0L232.9 142.0L230.1 140.0L226.4 138.0L221.4 136.0L211.8 134.0Z" fill="#ef0000"/>
<path d="M210.0 138.6L199.9 140.0L195.7 142.0L192.3 144.0L189.5 146.0L187.1 148.0L185.3 150.0L181.8 152.0L178.6 154.0L175.8 156.0L173.4 158.0L171.4 160.0L169.8 162.0L168.5 164.0L167.4 166.0L166.5 168.0L165.6 170.0L165.0 172.0L165.4 174.0L165.9 176.0L166.5 178.0L166.7 179.0L253.3 179.0L253.5 178.0L254.1 176.0L254.6 174.0L255.0 172.0L254.4 170.0L253.5 168.0L252.6 166.0L251.5 164.0L250.2 162.0L248.6 160.0L246.6 158.0L244.2 156.0L241.4 154.0L238.2 152.0L234.7 150.0L232.9 148.0L230.5 146.0L227.7 144.0L224.3 142.0L220.1 140.0Z" fill="#fa0000"/>
<path d="M210.0 142.8L202.3 144.0L197.2 146.0L194.2 148.0L191.6 150.0L187.2 152.0L183.8 154.0L180.6 156.0L177.7 158.0L175.5 160.0L173.5 162.0L171.9 164.0L170.6 166.0L169.5 168.0L168.7 170.0L168.0 172.0L168.4 174.0L168.8 176.0L169.3 178.0L169.6 179.0L250.4 179.0L250.7 178.0L251.2 176.0L251.6 174.0L252.0 172.0L251.3 170.0L250.5 168.0L249.4 166.0L248.1 164.0L246.5 162.0L244.5 160.0L242.3 158.0L239.4 156.0L236.2 154.0L232.8 152.0L228.4 150.0L225.8 148.0L222.8 146.0L217.7 144.0Z" fill="#ff0500"/>
<path d="M210.0 147.2L205.3 148.0L198.3 150.0L193.3 152.0L189.1 154.0L185.6 156.0L182.5 158.0L179.7 160.0L177.2 162.0L175.4 164.0L173.8 166.0L172.5 168.0L171.5 170.0L170.6 172.0L171.0 174.0L171.4 176.0L171.9 178.0L172.1 179.0L247.9 179.0L248.1 178.0L248.6 176.0L249.0 174.0L249.4 172.0L248.5 170.0L247.5 168.0L246.2 166.0L244.6 164.0L242.8 162.0L240.3 160.0L237.5 158.0L234.4 156.0L230.9 154.0L226.7 152.0L221.7 150.0L214.7 148.0Z" fill="#ff1000"/>
<path d="M210.0 150.6L199.4 152.0L194.7 154.0L190.9 156.0L187.3 158.0L184.3 160.0L181.5 162.0L179.0 164.0L177.0 166.0L175.5 168.0L174.2 170.0L173.2 172.0L173.6 174.0L174.0 176.0L174.4 178.0L174.6 179.0L245.4 179.0L245.6 178.0L246.0 176.0L246.4 174.0L246.8 172.0L245.8 170.0L244.5 168.0L243.0 166.0L241.0 164.0L238.5 162.0L235.7 160.0L232.7 158.0L229.1 156.0L225.3 154.0L220.6 152.0Z" fill="#ff1b00"/>
<path d="M210.0 152.6L200.2 154.0L195.9 156.0L192.3 158.0L188.9 160.0L185.9 162.0L183.3 164.0L180.8 166.0L178.5 168.0L177.0 170.0L175.8 172.0L176.2 174.0L176.5 176.0L176.9 178.0L177.1 179.0L242.9 179.0L243.1 178.0L243.5 176.0L243.8 174.0L244.2 172.0L243.0 170.0L241.5 168.0L239.2 166.0L236.7 164.0L234.1 162.0L231.1 160.0L227.7 158.0L224.1 156.0L219.8 154.0Z" fill="#ff2500"/>
<path d="M210.0 154.7L201.3 156.0L197.0 158.0L193.5 160.0L190.5 162.0L187.5 164.0L184.9 166.0L182.5 168.0L180.3 170.0L178.4 172.0L178.8 174.0L179.1 176.0L179.5 178.0L179.7 179.0L240.3 179.0L240.5 178.0L240.9 176.0L241.2 174.0L241.6 172.0L239.7 170.0L237.5 168.0L235.1 166.0L232.5 164.0L229.5 162.0L226.5 160.0L223.0 158.0L218.7 156.0Z" fill="#ff3000"/>
<path d="M210.0 156.7L202.1 158.0L197.9 160.0L194.6 162.0L191.8 164.0L189.0 166.0L186.4 168.0L184.1 170.0L181.9 172.0L182.2 174.0L182.5 176.0L182.9 178.0L183.0 179.0L237.0 179.0L237.1 178.0L237.5 176.0L237.8 174.0L238.1 172.0L235.9 170.0L233.6 168.0L231.0 166.0L228.2 164.0L225.4 162.0L222.1 160.0L217.9 158.0Z" fill="#ff3a00"/>
<path d="M210.0 158.7L202.6 160.0L198.7 162.0L195.6 164.0L192.9 166.0L190.4 168.0L187.9 170.0L185.6 172.0L185.9 174.0L186.1 176.0L186.4 178.0L186.6 179.0L233.4 179.0L233.6 178.0L233.9 176.0L234.1 174.0L234.4 172.0L232.1 170.0L229.6 168.0L227.1 166.0L224.4 164.0L221.3 162.0L217.4 160.0Z" fill="#ff4500"/>
<path d="M210.0 160.7L203.0 162.0L199.4 164.0L196.5 166.0L193.9 168.0L191.7 170.0L189.3 172.0L189.5 174.0L189.7 176.0L190.0 178.0L190.1 179.0L229.9 179.0L230.0 178.0L230.3 176.0L230.5 174.0L230.7 172.0L228.3 170.0L226.1 168.0L223.5 166.0L220.6 164.0L217.0 162.0Z" fill="#ff5000"/>
<path d="M210.0 162.7L203.3 164.0L200.0 166.0L197.3 168.0L194.8 170.0L192.7 172.0L192.9 174.0L193.1 176.0L193.3 178.0L193.4 179.0L226.6 179.0L226.7 178.0L226.9 176.0L227.1 174.0L227.3 172.0L225.2 170.0L222.7 168.0L220.0 166.0L216.7 164.0Z" fill="#ff5a00"/>
<path d="M210.0 164.6L203.5 166.0L200.5 168.0L198.0 170.0L195.7 172.0L195.8 174.0L196.0 176.0L196.1 178.0L196.2 179.0L223.8 179.0L223.9 178.0L224.0 176.0L224.2 174.0L224.3 172.0L222.0 170.0L219.5 168.0L216.5 166.0Z" fill="#ff6500"/>
<path d="M210.0 166.6L203.7 168.0L201.0 170.0L198.6 172.0L198.7 174.0L198.9 176.0L199.0 178.0L199.1 179.0L220.9 179.0L221.0 178.0L221.1 176.0L221.3 174.0L221.4 172.0L219.0 170.0L216.3 168.0Z" fill="#ff7000"/>
<path d="M209.8 168.0L203.9 170.0L201.4 172.0L201.5 174.0L201.6 176.0L201.7 178.0L201.8 179.0L218.2 179.0L218.3 178.0L218.4 176.0L218.5 174.0L218.6 172.0L216.1 170.0L210.2 168.0Z" fill="#ff7a00"/>
<ellipse cx="210" cy="158.6" rx="2.0" ry="5.5" fill="url(#ga3)"/>
<path d="M204.90 175.00C203.15 174.73 198.05 174.10 194.40 173.40C190.75 172.70 186.63 172.10 183.00 170.80C179.37 169.50 175.53 167.68 172.60 165.60C169.67 163.52 167.30 161.07 165.40 158.30C163.50 155.53 162.18 152.13 161.20 149.00C160.22 145.87 159.85 142.50 159.50 139.50C159.15 136.50 159.06 133.82 159.10 131.00C159.14 128.18 159.31 125.33 159.73 122.55C160.14 119.77 160.77 116.99 161.59 114.31C162.41 111.64 163.44 108.99 164.65 106.48C165.85 103.98 167.26 101.54 168.82 99.26C170.38 96.98 172.13 94.81 174.01 92.82C175.89 90.83 177.93 88.97 180.08 87.31C182.23 85.66 184.53 84.16 186.89 82.89C189.26 81.61 191.75 80.51 194.27 79.64C196.80 78.77 199.42 78.11 202.04 77.66C204.66 77.22 207.35 77.00 210.00 77.00C212.65 77.00 215.34 77.22 217.96 77.66C220.58 78.11 223.20 78.77 225.73 79.64C228.25 80.51 230.74 81.61 233.11 82.89C235.47 84.16 237.77 85.66 239.92 87.31C242.07 88.97 244.11 90.83 245.99 92.82C247.87 94.81 249.62 96.98 251.18 99.26C252.74 101.54 254.15 103.98 255.35 106.48C256.56 108.99 257.59 111.64 258.41 114.31C259.23 116.99 259.86 119.77 260.27 122.55C260.69 125.33 260.86 128.18 260.90 131.00C260.94 133.82 260.85 136.50 260.50 139.50C260.15 142.50 259.78 145.87 258.80 149.00C257.82 152.13 256.50 155.53 254.60 158.30C252.70 161.07 250.33 163.52 247.40 165.60C244.47 167.68 240.63 169.50 237.00 170.80C233.37 172.10 229.25 172.70 225.60 173.40C221.95 174.10 216.85 174.73 215.10 175.00" fill="none" stroke="#2d5af0" stroke-width="1.6" stroke-linejoin="round"/>
<path d="M205.30 173.80C203.83 173.30 199.53 172.00 196.50 170.80C193.47 169.60 190.05 168.33 187.10 166.60C184.15 164.87 181.03 162.98 178.80 160.40C176.57 157.82 174.95 154.17 173.70 151.10C172.45 148.03 171.75 144.68 171.30 142.00C170.85 139.32 170.97 137.20 171.00 135.00C171.03 132.80 171.16 130.82 171.48 128.77C171.80 126.72 172.28 124.67 172.91 122.70C173.54 120.73 174.33 118.78 175.25 116.93C176.17 115.08 177.25 113.29 178.45 111.61C179.64 109.93 180.98 108.32 182.42 106.86C183.86 105.39 185.43 104.02 187.08 102.80C188.72 101.58 190.48 100.48 192.29 99.54C194.11 98.60 196.01 97.79 197.95 97.15C199.88 96.51 201.89 96.01 203.90 95.69C205.91 95.37 207.97 95.20 210.00 95.20C212.03 95.20 214.09 95.37 216.10 95.69C218.11 96.01 220.12 96.51 222.05 97.15C223.99 97.79 225.89 98.60 227.71 99.54C229.52 100.48 231.28 101.58 232.92 102.80C234.57 104.02 236.14 105.39 237.58 106.86C239.02 108.32 240.36 109.93 241.55 111.61C242.75 113.29 243.83 115.08 244.75 116.93C245.67 118.78 246.46 120.73 247.09 122.70C247.72 124.67 248.20 126.72 248.52 128.77C248.84 130.82 248.97 132.80 249.00 135.00C249.03 137.20 249.15 139.32 248.70 142.00C248.25 144.68 247.55 148.03 246.30 151.10C245.05 154.17 243.43 157.82 241.20 160.40C238.97 162.98 235.85 164.87 232.90 166.60C229.95 168.33 226.53 169.60 223.50 170.80C220.47 172.00 216.17 173.30 214.70 173.80" fill="none" stroke="#2d5af0" stroke-width="1.6" stroke-linejoin="round"/>
<path d="M206.00 172.60C205.27 172.15 203.53 171.07 201.60 169.90C199.67 168.73 196.82 167.35 194.40 165.60C191.98 163.85 189.18 161.82 187.10 159.40C185.02 156.98 183.15 153.67 181.90 151.10C180.65 148.53 180.03 146.18 179.60 144.00C179.17 141.82 179.29 139.77 179.30 138.00C179.31 136.23 179.43 134.89 179.68 133.37C179.93 131.85 180.31 130.32 180.80 128.85C181.30 127.39 181.92 125.94 182.65 124.56C183.37 123.19 184.22 121.85 185.16 120.60C186.10 119.35 187.16 118.16 188.29 117.07C189.42 115.98 190.66 114.96 191.95 114.05C193.25 113.15 194.64 112.33 196.06 111.63C197.49 110.93 198.99 110.33 200.51 109.85C202.04 109.37 203.62 109.01 205.20 108.76C206.78 108.52 208.40 108.40 210.00 108.40C211.60 108.40 213.22 108.52 214.80 108.76C216.38 109.01 217.96 109.37 219.49 109.85C221.01 110.33 222.51 110.93 223.94 111.63C225.36 112.33 226.75 113.15 228.05 114.05C229.34 114.96 230.58 115.98 231.71 117.07C232.84 118.16 233.90 119.35 234.84 120.60C235.78 121.85 236.63 123.19 237.35 124.56C238.08 125.94 238.70 127.39 239.20 128.85C239.69 130.32 240.07 131.85 240.32 133.37C240.57 134.89 240.69 136.23 240.70 138.00C240.71 139.77 240.83 141.82 240.40 144.00C239.97 146.18 239.35 148.53 238.10 151.10C236.85 153.67 234.98 156.98 232.90 159.40C230.82 161.82 228.02 163.85 225.60 165.60C223.18 167.35 220.33 168.73 218.40 169.90C216.47 171.07 214.73 172.15 214.00 172.60" fill="none" stroke="#2d5af0" stroke-width="1.6" stroke-linejoin="round"/>
<path d="M210.00 171.30C208.53 171.30 207.33 170.72 205.60 169.60C203.87 168.48 201.65 166.48 199.60 164.60C197.55 162.72 195.12 160.55 193.30 158.30C191.48 156.05 189.82 153.15 188.70 151.10C187.58 149.05 187.00 147.52 186.60 146.00C186.20 144.48 186.30 143.26 186.30 142.00C186.30 140.74 186.40 139.62 186.59 138.45C186.79 137.28 187.08 136.11 187.46 134.99C187.84 133.86 188.32 132.75 188.88 131.69C189.44 130.64 190.10 129.61 190.83 128.66C191.55 127.70 192.37 126.79 193.24 125.95C194.12 125.11 195.07 124.33 196.07 123.64C197.07 122.94 198.14 122.31 199.24 121.77C200.34 121.24 201.50 120.78 202.68 120.41C203.85 120.05 205.07 119.76 206.29 119.58C207.51 119.39 208.76 119.30 210.00 119.30C211.24 119.30 212.49 119.39 213.71 119.58C214.93 119.76 216.15 120.05 217.32 120.41C218.50 120.78 219.66 121.24 220.76 121.77C221.86 122.31 222.93 122.94 223.93 123.64C224.93 124.33 225.88 125.11 226.76 125.95C227.63 126.79 228.45 127.70 229.17 128.66C229.90 129.61 230.56 130.64 231.12 131.69C231.68 132.75 232.16 133.86 232.54 134.99C232.92 136.11 233.21 137.28 233.41 138.45C233.60 139.62 233.70 140.74 233.70 142.00C233.70 143.26 233.80 144.48 233.40 146.00C233.00 147.52 232.42 149.05 231.30 151.10C230.18 153.15 228.52 156.05 226.70 158.30C224.88 160.55 222.45 162.72 220.40 164.60C218.35 166.48 216.13 168.48 214.40 169.60C212.67 170.72 211.47 171.30 210.00 171.30Z" fill="none" stroke="#2d5af0" stroke-width="1.6" stroke-linejoin="round"/>
<path d="M210.00 168.60C208.87 168.60 207.77 167.93 206.60 167.20C205.43 166.47 204.43 165.50 203.00 164.20C201.57 162.90 199.52 161.42 198.00 159.40C196.48 157.38 194.75 154.00 193.90 152.10C193.05 150.20 193.08 149.18 192.90 148.00C192.72 146.82 192.78 145.92 192.80 145.00C192.82 144.08 192.87 143.32 193.01 142.50C193.15 141.67 193.36 140.85 193.64 140.06C193.92 139.26 194.27 138.48 194.67 137.74C195.08 136.99 195.56 136.27 196.08 135.60C196.61 134.92 197.20 134.28 197.84 133.69C198.47 133.10 199.16 132.55 199.89 132.06C200.62 131.57 201.39 131.12 202.19 130.74C202.99 130.37 203.83 130.04 204.68 129.78C205.54 129.53 206.42 129.33 207.31 129.20C208.20 129.07 209.10 129.00 210.00 129.00C210.90 129.00 211.80 129.07 212.69 129.20C213.58 129.33 214.46 129.53 215.32 129.78C216.17 130.04 217.01 130.37 217.81 130.74C218.61 131.12 219.38 131.57 220.11 132.06C220.84 132.55 221.53 133.10 222.16 133.69C222.80 134.28 223.39 134.92 223.92 135.60C224.44 136.27 224.92 136.99 225.33 137.74C225.73 138.48 226.08 139.26 226.36 140.06C226.64 140.85 226.85 141.67 226.99 142.50C227.13 143.32 227.18 144.08 227.20 145.00C227.22 145.92 227.28 146.82 227.10 148.00C226.92 149.18 226.95 150.20 226.10 152.10C225.25 154.00 223.52 157.38 222.00 159.40C220.48 161.42 218.43 162.90 217.00 164.20C215.57 165.50 214.57 166.47 213.40 167.20C212.23 167.93 211.13 168.60 210.00 168.60Z" fill="none" stroke="#2d5af0" stroke-width="1.6" stroke-linejoin="round"/>
<path d="M210.00 165.80C209.00 165.80 207.97 165.23 207.00 164.60C206.03 163.97 205.27 163.38 204.20 162.00C203.13 160.62 201.43 157.88 200.60 156.30C199.77 154.72 199.47 153.55 199.20 152.50C198.93 151.45 199.01 150.70 199.00 150.00C198.99 149.30 199.05 148.87 199.14 148.31C199.23 147.75 199.36 147.20 199.54 146.66C199.72 146.13 199.94 145.60 200.20 145.10C200.46 144.60 200.76 144.11 201.10 143.65C201.44 143.20 201.82 142.76 202.22 142.36C202.63 141.97 203.07 141.59 203.53 141.26C204.00 140.93 204.50 140.63 205.01 140.38C205.52 140.12 206.06 139.90 206.60 139.73C207.15 139.55 207.71 139.42 208.28 139.33C208.85 139.24 209.43 139.20 210.00 139.20C210.57 139.20 211.15 139.24 211.72 139.33C212.29 139.42 212.85 139.55 213.40 139.73C213.94 139.90 214.48 140.12 214.99 140.38C215.50 140.63 216.00 140.93 216.47 141.26C216.93 141.59 217.37 141.97 217.78 142.36C218.18 142.76 218.56 143.20 218.90 143.65C219.24 144.11 219.54 144.60 219.80 145.10C220.06 145.60 220.28 146.13 220.46 146.66C220.64 147.20 220.77 147.75 220.86 148.31C220.95 148.87 221.01 149.30 221.00 150.00C220.99 150.70 221.07 151.45 220.80 152.50C220.53 153.55 220.23 154.72 219.40 156.30C218.57 157.88 216.87 160.62 215.80 162.00C214.73 163.38 213.97 163.97 213.00 164.60C212.03 165.23 211.00 165.80 210.00 165.80Z" fill="none" stroke="#2d5af0" stroke-width="1.6" stroke-linejoin="round"/>
<path d="M205.3 177.6 A4.7 5.9 0 0 1 214.7 177.6 V179 H205.3 Z" fill="#d2d2d2" stroke="#222" stroke-width="0.6"/>
</g>
<rect x="76" y="11" width="268" height="0.4" fill="#fff"/><rect x="76" y="177.3" width="268" height="0.7" fill="#fff"/><rect x="76" y="11" width="0.1" height="167" fill="#fff"/><rect x="343.9" y="11" width="0.1" height="167" fill="#fff"/>
<text x="20.40" y="103.00" font-size="30" text-anchor="middle" font-style="italic" fill="#000">y</text>
<text x="53.60" y="184.20" font-size="26" fill="#000">0</text>
<text x="40.60" y="126.20" font-size="26" fill="#000">10</text>
<text x="40.60" y="68.00" font-size="26" fill="#000">20</text>
<rect x="93.37" y="195.73" width="15.60" height="1.46" fill="#000"/>
<text x="111.18" y="204.00" font-size="26" fill="#000">20</text>
<rect x="141.17" y="195.73" width="15.60" height="1.46" fill="#000"/>
<text x="158.98" y="204.00" font-size="26" fill="#000">10</text>
<text x="203.10" y="204.00" font-size="26" fill="#000">0</text>
<text x="244.90" y="204.00" font-size="26" fill="#000">10</text>
<text x="292.70" y="204.00" font-size="26" fill="#000">20</text>
<text x="210.00" y="236.80" font-size="30" text-anchor="middle" font-style="italic" fill="#000">x</text>
<text x="3.00" y="30.50" font-size="29.5" text-anchor="start" fill="#000">(<tspan font-style="italic">a</tspan>)</text>
<g clip-path="url(#clipb)">
<rect x="481" y="11" width="268" height="167" fill="#0a0000"/>
<path d="M615.2 37.7L601.8 39.0L594.5 41.0L589.2 43.0L584.9 45.0L581.3 47.0L578.0 49.0L575.1 51.0L572.5 53.0L570.0 55.0L567.8 57.0L565.7 59.0L563.9 61.0L562.0 63.0L560.3 65.0L558.6 67.0L557.1 69.0L555.6 71.0L554.3 73.0L553.0 75.0L551.7 77.0L550.5 79.0L549.4 81.0L548.4 83.0L547.4 85.0L546.4 87.0L545.5 89.0L544.7 91.0L543.9 93.0L543.1 95.0L542.4 97.0L541.7 99.0L541.1 101.0L540.5 103.0L539.9 105.0L539.4 107.0L538.9 109.0L538.5 111.0L538.1 113.0L537.7 115.0L537.4 117.0L537.1 119.0L536.8 121.0L536.6 123.0L536.4 125.0L536.3 127.0L536.2 129.0L536.1 131.0L536.0 133.0L536.0 135.0L536.0 137.0L536.1 139.0L536.3 141.0L536.5 143.0L536.7 145.0L537.0 147.0L537.4 149.0L537.8 151.0L538.3 153.0L538.9 155.0L539.5 157.0L540.2 159.0L541.0 161.0L541.8 163.0L542.7 165.0L543.7 167.0L544.7 169.0L545.8 171.0L547.0 173.0L548.3 175.0L549.7 177.0L551.2 179.0L679.2 179.0L680.7 177.0L682.1 175.0L683.4 173.0L684.6 171.0L685.7 169.0L686.7 167.0L687.7 165.0L688.6 163.0L689.4 161.0L690.2 159.0L690.9 157.0L691.5 155.0L692.1 153.0L692.6 151.0L693.0 149.0L693.4 147.0L693.7 145.0L693.9 143.0L694.1 141.0L694.3 139.0L694.4 137.0L694.4 135.0L694.4 133.0L694.3 131.0L694.2 129.0L694.1 127.0L694.0 125.0L693.8 123.0L693.6 121.0L693.3 119.0L693.0 117.0L692.7 115.0L692.3 113.0L691.9 111.0L691.5 109.0L691.0 107.0L690.5 105.0L689.9 103.0L689.3 101.0L688.7 99.0L688.0 97.0L687.3 95.0L686.5 93.0L685.7 91.0L684.9 89.0L684.0 87.0L683.0 85.0L682.0 83.0L681.0 81.0L679.9 79.0L678.7 77.0L677.4 75.0L676.1 73.0L674.8 71.0L673.3 69.0L671.8 67.0L670.1 65.0L668.4 63.0L666.5 61.0L664.7 59.0L662.6 57.0L660.4 55.0L657.9 53.0L655.3 51.0L652.4 49.0L649.1 47.0L645.5 45.0L641.2 43.0L635.9 41.0L628.6 39.0Z" fill="#1b0000"/>
<path d="M615.2 37.7L601.8 39.0L594.5 41.0L589.2 43.0L585.0 45.0L581.3 47.0L578.1 49.0L575.2 51.0L572.5 53.0L570.1 55.0L567.8 57.0L565.7 59.0L564.1 61.0L562.2 63.0L560.5 65.0L558.9 67.0L557.3 69.0L555.9 71.0L554.5 73.0L553.2 75.0L551.9 77.0L550.8 79.0L549.6 81.0L548.6 83.0L547.6 85.0L546.6 87.0L545.7 89.0L544.9 91.0L544.1 93.0L543.3 95.0L542.6 97.0L541.9 99.0L541.3 101.0L540.7 103.0L540.1 105.0L539.6 107.0L539.1 109.0L538.6 111.0L538.2 113.0L537.9 115.0L537.5 117.0L537.2 119.0L537.0 121.0L536.7 123.0L536.5 125.0L536.4 127.0L536.3 129.0L536.2 131.0L536.1 133.0L536.1 135.0L536.1 137.0L536.2 139.0L536.4 141.0L536.6 143.0L536.8 145.0L537.1 147.0L537.5 149.0L537.9 151.0L538.4 153.0L539.0 155.0L539.6 157.0L540.3 159.0L541.1 161.0L541.9 163.0L542.8 165.0L543.8 167.0L544.8 169.0L545.9 171.0L547.2 173.0L548.5 175.0L549.8 177.0L551.3 179.0L679.1 179.0L680.6 177.0L681.9 175.0L683.2 173.0L684.5 171.0L685.6 169.0L686.6 167.0L687.6 165.0L688.5 163.0L689.3 161.0L690.1 159.0L690.8 157.0L691.4 155.0L692.0 153.0L692.5 151.0L692.9 149.0L693.3 147.0L693.6 145.0L693.8 143.0L694.0 141.0L694.2 139.0L694.3 137.0L694.3 135.0L694.3 133.0L694.2 131.0L694.1 129.0L694.0 127.0L693.9 125.0L693.7 123.0L693.4 121.0L693.2 119.0L692.9 117.0L692.5 115.0L692.2 113.0L691.8 111.0L691.3 109.0L690.8 107.0L690.3 105.0L689.7 103.0L689.1 101.0L688.5 99.0L687.8 97.0L687.1 95.0L686.3 93.0L685.5 91.0L684.7 89.0L683.8 87.0L682.8 85.0L681.8 83.0L680.8 81.0L679.6 79.0L678.5 77.0L677.2 75.0L675.9 73.0L674.5 71.0L673.1 69.0L671.5 67.0L669.9 65.0L668.2 63.0L666.3 61.0L664.7 59.0L662.6 57.0L660.3 55.0L657.9 53.0L655.2 51.0L652.3 49.0L649.1 47.0L645.4 45.0L641.2 43.0L635.9 41.0L628.6 39.0Z" fill="#250000"/>
<path d="M615.2 37.8L602.6 39.0L594.9 41.0L589.5 43.0L585.2 45.0L581.5 47.0L578.2 49.0L575.3 51.0L572.6 53.0L570.2 55.0L567.9 57.0L565.8 59.0L564.3 61.0L562.4 63.0L560.7 65.0L559.1 67.0L557.5 69.0L556.1 71.0L554.7 73.0L553.4 75.0L552.1 77.0L551.0 79.0L549.8 81.0L548.8 83.0L547.8 85.0L546.8 87.0L545.9 89.0L545.1 91.0L544.3 93.0L543.5 95.0L542.8 97.0L542.1 99.0L541.5 101.0L540.8 103.0L540.3 105.0L539.7 107.0L539.2 109.0L538.8 111.0L538.4 113.0L538.0 115.0L537.7 117.0L537.4 119.0L537.1 121.0L536.9 123.0L536.7 125.0L536.5 127.0L536.4 129.0L536.3 131.0L536.2 133.0L536.2 135.0L536.2 137.0L536.3 139.0L536.5 141.0L536.7 143.0L536.9 145.0L537.2 147.0L537.6 149.0L538.0 151.0L538.5 153.0L539.1 155.0L539.7 157.0L540.4 159.0L541.2 161.0L542.0 163.0L542.9 165.0L543.9 167.0L544.9 169.0L546.1 171.0L547.3 173.0L548.6 175.0L549.9 177.0L551.4 179.0L679.0 179.0L680.5 177.0L681.8 175.0L683.1 173.0L684.3 171.0L685.5 169.0L686.5 167.0L687.5 165.0L688.4 163.0L689.2 161.0L690.0 159.0L690.7 157.0L691.3 155.0L691.9 153.0L692.4 151.0L692.8 149.0L693.2 147.0L693.5 145.0L693.7 143.0L693.9 141.0L694.1 139.0L694.2 137.0L694.2 135.0L694.2 133.0L694.1 131.0L694.0 129.0L693.9 127.0L693.7 125.0L693.5 123.0L693.3 121.0L693.0 119.0L692.7 117.0L692.4 115.0L692.0 113.0L691.6 111.0L691.2 109.0L690.7 107.0L690.1 105.0L689.6 103.0L688.9 101.0L688.3 99.0L687.6 97.0L686.9 95.0L686.1 93.0L685.3 91.0L684.5 89.0L683.6 87.0L682.6 85.0L681.6 83.0L680.6 81.0L679.4 79.0L678.3 77.0L677.0 75.0L675.7 73.0L674.3 71.0L672.9 69.0L671.3 67.0L669.7 65.0L668.0 63.0L666.1 61.0L664.6 59.0L662.5 57.0L660.2 55.0L657.8 53.0L655.1 51.0L652.2 49.0L648.9 47.0L645.2 45.0L640.9 43.0L635.5 41.0L627.8 39.0Z" fill="#300000"/>
<path d="M615.2 37.9L604.1 39.0L595.8 41.0L590.3 43.0L585.8 45.0L582.0 47.0L578.7 49.0L575.8 51.0L573.1 53.0L570.6 55.0L568.3 57.0L566.2 59.0L564.5 61.0L562.7 63.0L560.9 65.0L559.3 67.0L557.8 69.0L556.3 71.0L554.9 73.0L553.6 75.0L552.4 77.0L551.2 79.0L550.1 81.0L549.0 83.0L548.0 85.0L547.0 87.0L546.1 89.0L545.3 91.0L544.5 93.0L543.7 95.0L543.0 97.0L542.3 99.0L541.7 101.0L541.0 103.0L540.4 105.0L539.9 107.0L539.4 109.0L538.9 111.0L538.5 113.0L538.1 115.0L537.8 117.0L537.5 119.0L537.2 121.0L537.0 123.0L536.8 125.0L536.6 127.0L536.5 129.0L536.4 131.0L536.3 133.0L536.3 135.0L536.3 137.0L536.4 139.0L536.6 141.0L536.7 143.0L537.0 145.0L537.3 147.0L537.7 149.0L538.1 151.0L538.6 153.0L539.2 155.0L539.8 157.0L540.5 159.0L541.3 161.0L542.1 163.0L543.0 165.0L544.0 167.0L545.0 169.0L546.2 171.0L547.4 173.0L548.7 175.0L550.1 177.0L551.5 179.0L678.9 179.0L680.3 177.0L681.7 175.0L683.0 173.0L684.2 171.0L685.4 169.0L686.4 167.0L687.4 165.0L688.3 163.0L689.1 161.0L689.9 159.0L690.6 157.0L691.2 155.0L691.8 153.0L692.3 151.0L692.7 149.0L693.1 147.0L693.4 145.0L693.7 143.0L693.8 141.0L694.0 139.0L694.1 137.0L694.1 135.0L694.1 133.0L694.0 131.0L693.9 129.0L693.8 127.0L693.6 125.0L693.4 123.0L693.2 121.0L692.9 119.0L692.6 117.0L692.3 115.0L691.9 113.0L691.5 111.0L691.0 109.0L690.5 107.0L690.0 105.0L689.4 103.0L688.7 101.0L688.1 99.0L687.4 97.0L686.7 95.0L685.9 93.0L685.1 91.0L684.3 89.0L683.4 87.0L682.4 85.0L681.4 83.0L680.3 81.0L679.2 79.0L678.0 77.0L676.8 75.0L675.5 73.0L674.1 71.0L672.6 69.0L671.1 67.0L669.5 65.0L667.7 63.0L665.9 61.0L664.2 59.0L662.1 57.0L659.8 55.0L657.3 53.0L654.6 51.0L651.7 49.0L648.4 47.0L644.6 45.0L640.1 43.0L634.6 41.0L626.3 39.0Z" fill="#3a0000"/>
<path d="M615.2 38.0L605.8 39.0L596.8 41.0L591.0 43.0L586.4 45.0L582.6 47.0L579.2 49.0L576.2 51.0L573.5 53.0L571.0 55.0L568.7 57.0L566.5 59.0L564.7 61.0L562.9 63.0L561.1 65.0L559.5 67.0L558.0 69.0L556.5 71.0L555.1 73.0L553.8 75.0L552.6 77.0L551.4 79.0L550.3 81.0L549.2 83.0L548.2 85.0L547.2 87.0L546.3 89.0L545.5 91.0L544.7 93.0L543.9 95.0L543.2 97.0L542.5 99.0L541.8 101.0L541.2 103.0L540.6 105.0L540.1 107.0L539.6 109.0L539.1 111.0L538.7 113.0L538.3 115.0L537.9 117.0L537.6 119.0L537.3 121.0L537.1 123.0L536.9 125.0L536.7 127.0L536.6 129.0L536.5 131.0L536.4 133.0L536.4 135.0L536.4 137.0L536.5 139.0L536.7 141.0L536.8 143.0L537.1 145.0L537.4 147.0L537.8 149.0L538.2 151.0L538.7 153.0L539.3 155.0L539.9 157.0L540.6 159.0L541.4 161.0L542.2 163.0L543.1 165.0L544.1 167.0L545.1 169.0L546.3 171.0L547.5 173.0L548.8 175.0L550.2 177.0L551.6 179.0L678.8 179.0L680.2 177.0L681.6 175.0L682.9 173.0L684.1 171.0L685.3 169.0L686.3 167.0L687.3 165.0L688.2 163.0L689.0 161.0L689.8 159.0L690.5 157.0L691.1 155.0L691.7 153.0L692.2 151.0L692.6 149.0L693.0 147.0L693.3 145.0L693.6 143.0L693.7 141.0L693.9 139.0L694.0 137.0L694.0 135.0L694.0 133.0L693.9 131.0L693.8 129.0L693.7 127.0L693.5 125.0L693.3 123.0L693.1 121.0L692.8 119.0L692.5 117.0L692.1 115.0L691.7 113.0L691.3 111.0L690.8 109.0L690.3 107.0L689.8 105.0L689.2 103.0L688.6 101.0L687.9 99.0L687.2 97.0L686.5 95.0L685.7 93.0L684.9 91.0L684.1 89.0L683.2 87.0L682.2 85.0L681.2 83.0L680.1 81.0L679.0 79.0L677.8 77.0L676.6 75.0L675.3 73.0L673.9 71.0L672.4 69.0L670.9 67.0L669.3 65.0L667.5 63.0L665.7 61.0L663.9 59.0L661.7 57.0L659.4 55.0L656.9 53.0L654.2 51.0L651.2 49.0L647.8 47.0L644.0 45.0L639.4 43.0L633.6 41.0L624.6 39.0Z" fill="#450000"/>
<path d="M615.2 38.2L608.0 39.0L597.8 41.0L591.7 43.0L587.1 45.0L583.1 47.0L579.7 49.0L576.7 51.0L573.9 53.0L571.4 55.0L569.1 57.0L566.9 59.0L564.9 61.0L563.1 63.0L561.4 65.0L559.7 67.0L558.2 69.0L556.7 71.0L555.3 73.0L554.0 75.0L552.8 77.0L551.6 79.0L550.5 81.0L549.4 83.0L548.4 85.0L547.5 87.0L546.5 89.0L545.7 91.0L544.9 93.0L544.1 95.0L543.4 97.0L542.7 99.0L542.0 101.0L541.4 103.0L540.8 105.0L540.2 107.0L539.7 109.0L539.2 111.0L538.8 113.0L538.4 115.0L538.1 117.0L537.7 119.0L537.4 121.0L537.2 123.0L537.0 125.0L536.8 127.0L536.7 129.0L536.6 131.0L536.5 133.0L536.5 135.0L536.5 137.0L536.6 139.0L536.7 141.0L536.9 143.0L537.2 145.0L537.5 147.0L537.9 149.0L538.3 151.0L538.8 153.0L539.3 155.0L540.0 157.0L540.7 159.0L541.5 161.0L542.3 163.0L543.2 165.0L544.2 167.0L545.3 169.0L546.4 171.0L547.6 173.0L548.9 175.0L550.3 177.0L551.8 179.0L678.6 179.0L680.1 177.0L681.5 175.0L682.8 173.0L684.0 171.0L685.1 169.0L686.2 167.0L687.2 165.0L688.1 163.0L688.9 161.0L689.7 159.0L690.4 157.0L691.1 155.0L691.6 153.0L692.1 151.0L692.5 149.0L692.9 147.0L693.2 145.0L693.5 143.0L693.7 141.0L693.8 139.0L693.9 137.0L693.9 135.0L693.9 133.0L693.8 131.0L693.7 129.0L693.6 127.0L693.4 125.0L693.2 123.0L693.0 121.0L692.7 119.0L692.3 117.0L692.0 115.0L691.6 113.0L691.2 111.0L690.7 109.0L690.2 107.0L689.6 105.0L689.0 103.0L688.4 101.0L687.7 99.0L687.0 97.0L686.3 95.0L685.5 93.0L684.7 91.0L683.9 89.0L682.9 87.0L682.0 85.0L681.0 83.0L679.9 81.0L678.8 79.0L677.6 77.0L676.4 75.0L675.1 73.0L673.7 71.0L672.2 69.0L670.7 67.0L669.0 65.0L667.3 63.0L665.5 61.0L663.5 59.0L661.3 57.0L659.0 55.0L656.5 53.0L653.7 51.0L650.7 49.0L647.3 47.0L643.3 45.0L638.7 43.0L632.6 41.0L622.4 39.0Z" fill="#500000"/>
<path d="M615.2 38.5L611.2 39.0L598.8 41.0L592.5 43.0L587.7 45.0L583.7 47.0L580.2 49.0L577.1 51.0L574.4 53.0L571.8 55.0L569.5 57.0L567.3 59.0L565.3 61.0L563.4 63.0L561.6 65.0L560.0 67.0L558.4 69.0L556.9 71.0L555.6 73.0L554.2 75.0L553.0 77.0L551.8 79.0L550.7 81.0L549.6 83.0L548.6 85.0L547.7 87.0L546.8 89.0L545.9 91.0L545.1 93.0L544.3 95.0L543.6 97.0L542.9 99.0L542.2 101.0L541.6 103.0L541.0 105.0L540.4 107.0L539.9 109.0L539.4 111.0L538.9 113.0L538.5 115.0L538.2 117.0L537.9 119.0L537.6 121.0L537.3 123.0L537.1 125.0L536.9 127.0L536.8 129.0L536.7 131.0L536.6 133.0L536.6 135.0L536.6 137.0L536.7 139.0L536.8 141.0L537.0 143.0L537.3 145.0L537.6 147.0L538.0 149.0L538.4 151.0L538.9 153.0L539.4 155.0L540.1 157.0L540.8 159.0L541.6 161.0L542.4 163.0L543.3 165.0L544.3 167.0L545.4 169.0L546.5 171.0L547.7 173.0L549.0 175.0L550.4 177.0L551.9 179.0L678.5 179.0L680.0 177.0L681.4 175.0L682.7 173.0L683.9 171.0L685.0 169.0L686.1 167.0L687.1 165.0L688.0 163.0L688.8 161.0L689.6 159.0L690.3 157.0L691.0 155.0L691.5 153.0L692.0 151.0L692.4 149.0L692.8 147.0L693.1 145.0L693.4 143.0L693.6 141.0L693.7 139.0L693.8 137.0L693.8 135.0L693.8 133.0L693.7 131.0L693.6 129.0L693.5 127.0L693.3 125.0L693.1 123.0L692.8 121.0L692.5 119.0L692.2 117.0L691.9 115.0L691.5 113.0L691.0 111.0L690.5 109.0L690.0 107.0L689.4 105.0L688.8 103.0L688.2 101.0L687.5 99.0L686.8 97.0L686.1 95.0L685.3 93.0L684.5 91.0L683.6 89.0L682.7 87.0L681.8 85.0L680.8 83.0L679.7 81.0L678.6 79.0L677.4 77.0L676.2 75.0L674.8 73.0L673.5 71.0L672.0 69.0L670.4 67.0L668.8 65.0L667.0 63.0L665.1 61.0L663.1 59.0L660.9 57.0L658.6 55.0L656.0 53.0L653.3 51.0L650.2 49.0L646.7 47.0L642.7 45.0L637.9 43.0L631.6 41.0L619.2 39.0Z" fill="#5a0000"/>
<path d="M615.2 39.6L600.0 41.0L593.3 43.0L588.4 45.0L584.3 47.0L580.7 49.0L577.6 51.0L574.8 53.0L572.2 55.0L569.8 57.0L567.7 59.0L565.6 61.0L563.7 63.0L562.0 65.0L560.3 67.0L558.7 69.0L557.2 71.0L555.8 73.0L554.5 75.0L553.2 77.0L552.0 79.0L550.9 81.0L549.8 83.0L548.8 85.0L547.9 87.0L547.0 89.0L546.1 91.0L545.3 93.0L544.5 95.0L543.8 97.0L543.1 99.0L542.4 101.0L541.7 103.0L541.1 105.0L540.5 107.0L540.0 109.0L539.5 111.0L539.1 113.0L538.7 115.0L538.3 117.0L538.0 119.0L537.7 121.0L537.4 123.0L537.2 125.0L537.0 127.0L536.9 129.0L536.8 131.0L536.7 133.0L536.7 135.0L536.7 137.0L536.8 139.0L536.9 141.0L537.1 143.0L537.4 145.0L537.7 147.0L538.1 149.0L538.5 151.0L539.0 153.0L539.5 155.0L540.2 157.0L540.9 159.0L541.7 161.0L542.5 163.0L543.4 165.0L544.4 167.0L545.5 169.0L546.6 171.0L547.8 173.0L549.1 175.0L550.5 177.0L552.0 179.0L678.4 179.0L679.9 177.0L681.3 175.0L682.6 173.0L683.8 171.0L684.9 169.0L686.0 167.0L687.0 165.0L687.9 163.0L688.7 161.0L689.5 159.0L690.2 157.0L690.9 155.0L691.4 153.0L691.9 151.0L692.3 149.0L692.7 147.0L693.0 145.0L693.3 143.0L693.5 141.0L693.6 139.0L693.7 137.0L693.7 135.0L693.7 133.0L693.6 131.0L693.5 129.0L693.4 127.0L693.2 125.0L693.0 123.0L692.7 121.0L692.4 119.0L692.1 117.0L691.7 115.0L691.3 113.0L690.9 111.0L690.4 109.0L689.9 107.0L689.3 105.0L688.7 103.0L688.0 101.0L687.3 99.0L686.6 97.0L685.9 95.0L685.1 93.0L684.3 91.0L683.4 89.0L682.5 87.0L681.6 85.0L680.6 83.0L679.5 81.0L678.4 79.0L677.2 77.0L675.9 75.0L674.6 73.0L673.2 71.0L671.7 69.0L670.1 67.0L668.4 65.0L666.7 63.0L664.8 61.0L662.7 59.0L660.6 57.0L658.2 55.0L655.6 53.0L652.8 51.0L649.7 49.0L646.1 47.0L642.0 45.0L637.1 43.0L630.4 41.0Z" fill="#650000"/>
<path d="M615.2 39.7L601.2 41.0L594.1 43.0L589.0 45.0L584.9 47.0L581.3 49.0L578.1 51.0L575.2 53.0L572.6 55.0L570.2 57.0L568.0 59.0L566.0 61.0L564.1 63.0L562.3 65.0L560.6 67.0L559.0 69.0L557.5 71.0L556.1 73.0L554.8 75.0L553.5 77.0L552.3 79.0L551.2 81.0L550.1 83.0L549.1 85.0L548.1 87.0L547.2 89.0L546.3 91.0L545.5 93.0L544.7 95.0L544.0 97.0L543.3 99.0L542.6 101.0L541.9 103.0L541.3 105.0L540.7 107.0L540.2 109.0L539.7 111.0L539.2 113.0L538.8 115.0L538.4 117.0L538.1 119.0L537.8 121.0L537.6 123.0L537.3 125.0L537.1 127.0L537.0 129.0L536.9 131.0L536.8 133.0L536.8 135.0L536.8 137.0L536.9 139.0L537.0 141.0L537.2 143.0L537.5 145.0L537.8 147.0L538.2 149.0L538.6 151.0L539.1 153.0L539.6 155.0L540.3 157.0L541.0 159.0L541.8 161.0L542.6 163.0L543.5 165.0L544.5 167.0L545.6 169.0L546.7 171.0L547.9 173.0L549.2 175.0L550.6 177.0L552.1 179.0L678.3 179.0L679.8 177.0L681.2 175.0L682.5 173.0L683.7 171.0L684.8 169.0L685.9 167.0L686.9 165.0L687.8 163.0L688.6 161.0L689.4 159.0L690.1 157.0L690.8 155.0L691.3 153.0L691.8 151.0L692.2 149.0L692.6 147.0L692.9 145.0L693.2 143.0L693.4 141.0L693.5 139.0L693.6 137.0L693.6 135.0L693.6 133.0L693.5 131.0L693.4 129.0L693.3 127.0L693.1 125.0L692.8 123.0L692.6 121.0L692.3 119.0L692.0 117.0L691.6 115.0L691.2 113.0L690.7 111.0L690.2 109.0L689.7 107.0L689.1 105.0L688.5 103.0L687.8 101.0L687.1 99.0L686.4 97.0L685.7 95.0L684.9 93.0L684.1 91.0L683.2 89.0L682.3 87.0L681.3 85.0L680.3 83.0L679.2 81.0L678.1 79.0L676.9 77.0L675.6 75.0L674.3 73.0L672.9 71.0L671.4 69.0L669.8 67.0L668.1 65.0L666.3 63.0L664.4 61.0L662.4 59.0L660.2 57.0L657.8 55.0L655.2 53.0L652.3 51.0L649.1 49.0L645.5 47.0L641.4 45.0L636.3 43.0L629.2 41.0Z" fill="#700000"/>
<path d="M615.2 39.8L603.4 41.0L595.6 43.0L590.2 45.0L585.8 47.0L582.1 49.0L578.9 51.0L576.0 53.0L573.3 55.0L570.9 57.0L568.7 59.0L566.5 61.0L564.5 63.0L562.7 65.0L561.0 67.0L559.3 69.0L557.8 71.0L556.4 73.0L555.1 75.0L553.8 77.0L552.6 79.0L551.4 81.0L550.3 83.0L549.3 85.0L548.3 87.0L547.4 89.0L546.5 91.0L545.7 93.0L544.9 95.0L544.2 97.0L543.5 99.0L542.8 101.0L542.1 103.0L541.5 105.0L540.9 107.0L540.3 109.0L539.8 111.0L539.4 113.0L538.9 115.0L538.6 117.0L538.2 119.0L537.9 121.0L537.7 123.0L537.4 125.0L537.3 127.0L537.1 129.0L537.0 131.0L536.9 133.0L536.9 135.0L536.9 137.0L537.0 139.0L537.1 141.0L537.3 143.0L537.6 145.0L537.9 147.0L538.2 149.0L538.7 151.0L539.2 153.0L539.7 155.0L540.4 157.0L541.1 159.0L541.9 161.0L542.7 163.0L543.6 165.0L544.6 167.0L545.7 169.0L546.9 171.0L548.1 173.0L549.3 175.0L550.7 177.0L552.2 179.0L678.2 179.0L679.7 177.0L681.1 175.0L682.3 173.0L683.5 171.0L684.7 169.0L685.8 167.0L686.8 165.0L687.7 163.0L688.5 161.0L689.3 159.0L690.0 157.0L690.7 155.0L691.2 153.0L691.7 151.0L692.2 149.0L692.5 147.0L692.8 145.0L693.1 143.0L693.3 141.0L693.4 139.0L693.5 137.0L693.5 135.0L693.5 133.0L693.4 131.0L693.3 129.0L693.1 127.0L693.0 125.0L692.7 123.0L692.5 121.0L692.2 119.0L691.8 117.0L691.5 115.0L691.0 113.0L690.6 111.0L690.1 109.0L689.5 107.0L688.9 105.0L688.3 103.0L687.6 101.0L686.9 99.0L686.2 97.0L685.5 95.0L684.7 93.0L683.9 91.0L683.0 89.0L682.1 87.0L681.1 85.0L680.1 83.0L679.0 81.0L677.8 79.0L676.6 77.0L675.3 75.0L674.0 73.0L672.6 71.0L671.1 69.0L669.4 67.0L667.7 65.0L665.9 63.0L663.9 61.0L661.7 59.0L659.5 57.0L657.1 55.0L654.4 53.0L651.5 51.0L648.3 49.0L644.6 47.0L640.2 45.0L634.8 43.0L627.0 41.0Z" fill="#7a0000"/>
<path d="M615.2 40.0L606.7 41.0L597.3 43.0L591.5 45.0L587.0 47.0L583.1 49.0L579.8 51.0L576.8 53.0L574.1 55.0L571.6 57.0L569.4 59.0L567.3 61.0L565.3 63.0L563.4 65.0L561.5 67.0L559.7 69.0L558.2 71.0L556.7 73.0L555.3 75.0L554.0 77.0L552.8 79.0L551.7 81.0L550.6 83.0L549.5 85.0L548.6 87.0L547.6 89.0L546.7 91.0L545.9 93.0L545.1 95.0L544.4 97.0L543.7 99.0L543.0 101.0L542.4 103.0L541.7 105.0L541.1 107.0L540.5 109.0L540.0 111.0L539.5 113.0L539.1 115.0L538.7 117.0L538.4 119.0L538.1 121.0L537.8 123.0L537.6 125.0L537.4 127.0L537.2 129.0L537.1 131.0L537.0 133.0L537.0 135.0L537.0 137.0L537.1 139.0L537.2 141.0L537.4 143.0L537.7 145.0L538.0 147.0L538.3 149.0L538.8 151.0L539.2 153.0L539.8 155.0L540.5 157.0L541.2 159.0L542.0 161.0L542.8 163.0L543.7 165.0L544.7 167.0L545.8 169.0L547.0 171.0L548.2 173.0L549.4 175.0L550.8 177.0L552.3 179.0L678.1 179.0L679.6 177.0L681.0 175.0L682.2 173.0L683.4 171.0L684.6 169.0L685.7 167.0L686.7 165.0L687.6 163.0L688.4 161.0L689.2 159.0L689.9 157.0L690.6 155.0L691.2 153.0L691.6 151.0L692.1 149.0L692.4 147.0L692.7 145.0L693.0 143.0L693.2 141.0L693.3 139.0L693.4 137.0L693.4 135.0L693.4 133.0L693.3 131.0L693.2 129.0L693.0 127.0L692.8 125.0L692.6 123.0L692.3 121.0L692.0 119.0L691.7 117.0L691.3 115.0L690.9 113.0L690.4 111.0L689.9 109.0L689.3 107.0L688.7 105.0L688.0 103.0L687.4 101.0L686.7 99.0L686.0 97.0L685.3 95.0L684.5 93.0L683.7 91.0L682.8 89.0L681.8 87.0L680.9 85.0L679.8 83.0L678.7 81.0L677.6 79.0L676.4 77.0L675.1 75.0L673.7 73.0L672.2 71.0L670.7 69.0L668.9 67.0L667.0 65.0L665.1 63.0L663.1 61.0L661.0 59.0L658.8 57.0L656.3 55.0L653.6 53.0L650.6 51.0L647.3 49.0L643.4 47.0L638.9 45.0L633.1 43.0L623.7 41.0Z" fill="#850000"/>
<path d="M615.2 40.7L612.4 41.0L599.3 43.0L592.9 45.0L588.2 47.0L584.2 49.0L580.7 51.0L577.7 53.0L574.9 55.0L572.4 57.0L570.1 59.0L568.0 61.0L566.0 63.0L564.1 65.0L562.3 67.0L560.6 69.0L558.9 71.0L557.2 73.0L555.7 75.0L554.3 77.0L553.1 79.0L551.9 81.0L550.8 83.0L549.8 85.0L548.8 87.0L547.8 89.0L547.0 91.0L546.1 93.0L545.3 95.0L544.6 97.0L543.9 99.0L543.2 101.0L542.6 103.0L541.9 105.0L541.3 107.0L540.8 109.0L540.2 111.0L539.7 113.0L539.2 115.0L538.8 117.0L538.5 119.0L538.2 121.0L537.9 123.0L537.7 125.0L537.5 127.0L537.3 129.0L537.2 131.0L537.1 133.0L537.1 135.0L537.1 137.0L537.2 139.0L537.3 141.0L537.5 143.0L537.8 145.0L538.1 147.0L538.4 149.0L538.9 151.0L539.3 153.0L539.9 155.0L540.5 157.0L541.3 159.0L542.1 161.0L542.9 163.0L543.8 165.0L544.8 167.0L545.9 169.0L547.1 171.0L548.3 173.0L549.6 175.0L550.9 177.0L552.4 179.0L678.0 179.0L679.5 177.0L680.8 175.0L682.1 173.0L683.3 171.0L684.5 169.0L685.6 167.0L686.6 165.0L687.5 163.0L688.3 161.0L689.1 159.0L689.9 157.0L690.5 155.0L691.1 153.0L691.5 151.0L692.0 149.0L692.3 147.0L692.6 145.0L692.9 143.0L693.1 141.0L693.2 139.0L693.3 137.0L693.3 135.0L693.3 133.0L693.2 131.0L693.1 129.0L692.9 127.0L692.7 125.0L692.5 123.0L692.2 121.0L691.9 119.0L691.6 117.0L691.2 115.0L690.7 113.0L690.2 111.0L689.6 109.0L689.1 107.0L688.5 105.0L687.8 103.0L687.2 101.0L686.5 99.0L685.8 97.0L685.1 95.0L684.3 93.0L683.4 91.0L682.6 89.0L681.6 87.0L680.6 85.0L679.6 83.0L678.5 81.0L677.3 79.0L676.1 77.0L674.7 75.0L673.2 73.0L671.5 71.0L669.8 69.0L668.1 67.0L666.3 65.0L664.4 63.0L662.4 61.0L660.3 59.0L658.0 57.0L655.5 55.0L652.7 53.0L649.7 51.0L646.2 49.0L642.2 47.0L637.5 45.0L631.1 43.0L618.0 41.0Z" fill="#8f0000"/>
<path d="M615.2 41.7L601.4 43.0L594.4 45.0L589.4 47.0L585.2 49.0L581.7 51.0L578.6 53.0L575.7 55.0L573.2 57.0L570.8 59.0L568.7 61.0L566.8 63.0L565.0 65.0L563.2 67.0L561.5 69.0L559.8 71.0L558.2 73.0L556.6 75.0L555.0 77.0L553.5 79.0L552.2 81.0L551.1 83.0L550.0 85.0L549.0 87.0L548.1 89.0L547.2 91.0L546.3 93.0L545.5 95.0L544.8 97.0L544.1 99.0L543.4 101.0L542.8 103.0L542.2 105.0L541.6 107.0L541.0 109.0L540.5 111.0L539.9 113.0L539.5 115.0L539.0 117.0L538.6 119.0L538.3 121.0L538.0 123.0L537.8 125.0L537.6 127.0L537.4 129.0L537.3 131.0L537.2 133.0L537.2 135.0L537.2 137.0L537.3 139.0L537.4 141.0L537.6 143.0L537.9 145.0L538.2 147.0L538.5 149.0L538.9 151.0L539.4 153.0L540.0 155.0L540.6 157.0L541.4 159.0L542.2 161.0L543.0 163.0L544.0 165.0L545.0 167.0L546.0 169.0L547.2 171.0L548.4 173.0L549.7 175.0L551.0 177.0L552.5 179.0L677.9 179.0L679.4 177.0L680.7 175.0L682.0 173.0L683.2 171.0L684.4 169.0L685.4 167.0L686.4 165.0L687.4 163.0L688.2 161.0L689.0 159.0L689.8 157.0L690.4 155.0L691.0 153.0L691.5 151.0L691.9 149.0L692.2 147.0L692.5 145.0L692.8 143.0L693.0 141.0L693.1 139.0L693.2 137.0L693.2 135.0L693.2 133.0L693.1 131.0L693.0 129.0L692.8 127.0L692.6 125.0L692.4 123.0L692.1 121.0L691.8 119.0L691.4 117.0L690.9 115.0L690.5 113.0L689.9 111.0L689.4 109.0L688.8 107.0L688.2 105.0L687.6 103.0L687.0 101.0L686.3 99.0L685.6 97.0L684.9 95.0L684.1 93.0L683.2 91.0L682.3 89.0L681.4 87.0L680.4 85.0L679.3 83.0L678.2 81.0L676.9 79.0L675.4 77.0L673.8 75.0L672.2 73.0L670.6 71.0L668.9 69.0L667.2 67.0L665.4 65.0L663.6 63.0L661.7 61.0L659.6 59.0L657.2 57.0L654.7 55.0L651.8 53.0L648.7 51.0L645.2 49.0L641.0 47.0L636.0 45.0L629.0 43.0Z" fill="#9a0000"/>
<path d="M615.2 41.8L604.0 43.0L596.1 45.0L590.7 47.0L586.3 49.0L582.7 51.0L579.5 53.0L576.6 55.0L574.0 57.0L571.5 59.0L569.6 61.0L567.7 63.0L565.8 65.0L564.0 67.0L562.3 69.0L560.7 71.0L559.1 73.0L557.6 75.0L556.1 77.0L554.6 79.0L553.1 81.0L551.7 83.0L550.4 85.0L549.3 87.0L548.3 89.0L547.4 91.0L546.6 93.0L545.8 95.0L545.0 97.0L544.3 99.0L543.6 101.0L543.0 103.0L542.4 105.0L541.8 107.0L541.3 109.0L540.7 111.0L540.2 113.0L539.7 115.0L539.3 117.0L538.8 119.0L538.5 121.0L538.1 123.0L537.9 125.0L537.7 127.0L537.5 129.0L537.4 131.0L537.3 133.0L537.3 135.0L537.3 137.0L537.4 139.0L537.5 141.0L537.7 143.0L538.0 145.0L538.3 147.0L538.6 149.0L539.0 151.0L539.5 153.0L540.1 155.0L540.7 157.0L541.5 159.0L542.3 161.0L543.1 163.0L544.1 165.0L545.1 167.0L546.2 169.0L547.3 171.0L548.5 173.0L549.8 175.0L551.1 177.0L552.6 179.0L677.8 179.0L679.3 177.0L680.6 175.0L681.9 173.0L683.1 171.0L684.2 169.0L685.3 167.0L686.3 165.0L687.3 163.0L688.1 161.0L688.9 159.0L689.7 157.0L690.3 155.0L690.9 153.0L691.4 151.0L691.8 149.0L692.1 147.0L692.4 145.0L692.7 143.0L692.9 141.0L693.0 139.0L693.1 137.0L693.1 135.0L693.1 133.0L693.0 131.0L692.9 129.0L692.7 127.0L692.5 125.0L692.3 123.0L691.9 121.0L691.6 119.0L691.1 117.0L690.7 115.0L690.2 113.0L689.7 111.0L689.1 109.0L688.6 107.0L688.0 105.0L687.4 103.0L686.8 101.0L686.1 99.0L685.4 97.0L684.6 95.0L683.8 93.0L683.0 91.0L682.1 89.0L681.1 87.0L680.0 85.0L678.7 83.0L677.3 81.0L675.8 79.0L674.3 77.0L672.8 75.0L671.3 73.0L669.7 71.0L668.1 69.0L666.4 67.0L664.6 65.0L662.7 63.0L660.8 61.0L658.9 59.0L656.4 57.0L653.8 55.0L650.9 53.0L647.7 51.0L644.1 49.0L639.7 47.0L634.3 45.0L626.4 43.0Z" fill="#a50000"/>
<path d="M615.2 43.0L599.7 45.0L593.4 47.0L588.6 49.0L584.6 51.0L581.2 53.0L578.2 55.0L575.5 57.0L573.0 59.0L570.8 61.0L568.7 63.0L566.8 65.0L565.0 67.0L563.3 69.0L561.7 71.0L560.1 73.0L558.6 75.0L557.1 77.0L555.7 79.0L554.3 81.0L552.9 83.0L551.5 85.0L550.1 87.0L548.8 89.0L547.7 91.0L546.8 93.0L546.0 95.0L545.2 97.0L544.5 99.0L543.8 101.0L543.2 103.0L542.6 105.0L542.0 107.0L541.5 109.0L541.0 111.0L540.5 113.0L540.0 115.0L539.6 117.0L539.2 119.0L538.7 121.0L538.4 123.0L538.0 125.0L537.8 127.0L537.6 129.0L537.5 131.0L537.4 133.0L537.4 135.0L537.4 137.0L537.5 139.0L537.6 141.0L537.8 143.0L538.1 145.0L538.4 147.0L538.7 149.0L539.1 151.0L539.6 153.0L540.2 155.0L540.9 157.0L541.6 159.0L542.4 161.0L543.3 163.0L544.2 165.0L545.2 167.0L546.3 169.0L547.4 171.0L548.6 173.0L549.9 175.0L551.2 177.0L552.7 179.0L677.7 179.0L679.2 177.0L680.5 175.0L681.8 173.0L683.0 171.0L684.1 169.0L685.2 167.0L686.2 165.0L687.1 163.0L688.0 161.0L688.8 159.0L689.5 157.0L690.2 155.0L690.8 153.0L691.3 151.0L691.7 149.0L692.0 147.0L692.3 145.0L692.6 143.0L692.8 141.0L692.9 139.0L693.0 137.0L693.0 135.0L693.0 133.0L692.9 131.0L692.8 129.0L692.6 127.0L692.4 125.0L692.0 123.0L691.7 121.0L691.2 119.0L690.8 117.0L690.4 115.0L689.9 113.0L689.4 111.0L688.9 109.0L688.4 107.0L687.8 105.0L687.2 103.0L686.6 101.0L685.9 99.0L685.2 97.0L684.4 95.0L683.6 93.0L682.7 91.0L681.6 89.0L680.3 87.0L678.9 85.0L677.5 83.0L676.1 81.0L674.7 79.0L673.3 77.0L671.8 75.0L670.3 73.0L668.7 71.0L667.1 69.0L665.4 67.0L663.6 65.0L661.7 63.0L659.6 61.0L657.4 59.0L654.9 57.0L652.2 55.0L649.2 53.0L645.8 51.0L641.8 49.0L637.0 47.0L630.7 45.0L615.2 43.0Z" fill="#af0000"/>
<path d="M615.2 43.9L604.5 45.0L596.5 47.0L591.1 49.0L586.8 51.0L583.2 53.0L580.0 55.0L577.1 57.0L574.5 59.0L572.3 61.0L570.2 63.0L568.2 65.0L566.4 67.0L564.5 69.0L562.8 71.0L561.2 73.0L559.7 75.0L558.2 77.0L556.8 79.0L555.4 81.0L554.1 83.0L552.7 85.0L551.4 87.0L550.1 89.0L548.8 91.0L547.5 93.0L546.3 95.0L545.4 97.0L544.7 99.0L544.0 101.0L543.4 103.0L542.8 105.0L542.3 107.0L541.8 109.0L541.3 111.0L540.8 113.0L540.4 115.0L539.9 117.0L539.5 119.0L539.1 121.0L538.7 123.0L538.3 125.0L538.0 127.0L537.8 129.0L537.6 131.0L537.6 133.0L537.5 135.0L537.5 137.0L537.6 139.0L537.8 141.0L537.9 143.0L538.2 145.0L538.5 147.0L538.8 149.0L539.3 151.0L539.7 153.0L540.3 155.0L541.0 157.0L541.7 159.0L542.6 161.0L543.5 163.0L544.4 165.0L545.4 167.0L546.4 169.0L547.5 171.0L548.7 173.0L550.0 175.0L551.4 177.0L552.8 179.0L677.6 179.0L679.0 177.0L680.4 175.0L681.7 173.0L682.9 171.0L684.0 169.0L685.0 167.0L686.0 165.0L686.9 163.0L687.8 161.0L688.7 159.0L689.4 157.0L690.1 155.0L690.7 153.0L691.1 151.0L691.6 149.0L691.9 147.0L692.2 145.0L692.5 143.0L692.6 141.0L692.8 139.0L692.9 137.0L692.9 135.0L692.8 133.0L692.8 131.0L692.6 129.0L692.4 127.0L692.1 125.0L691.7 123.0L691.3 121.0L690.9 119.0L690.5 117.0L690.0 115.0L689.6 113.0L689.1 111.0L688.6 109.0L688.1 107.0L687.6 105.0L687.0 103.0L686.4 101.0L685.7 99.0L685.0 97.0L684.1 95.0L682.9 93.0L681.6 91.0L680.3 89.0L679.0 87.0L677.7 85.0L676.3 83.0L675.0 81.0L673.6 79.0L672.2 77.0L670.7 75.0L669.2 73.0L667.6 71.0L665.9 69.0L664.0 67.0L662.2 65.0L660.2 63.0L658.1 61.0L655.9 59.0L653.3 57.0L650.4 55.0L647.2 53.0L643.6 51.0L639.3 49.0L633.9 47.0L625.9 45.0Z" fill="#ba0000"/>
<path d="M615.2 45.6L600.2 47.0L593.8 49.0L589.1 51.0L585.2 53.0L581.8 55.0L578.8 57.0L576.1 59.0L573.8 61.0L571.8 63.0L569.8 65.0L567.9 67.0L566.1 69.0L564.4 71.0L562.7 73.0L561.0 75.0L559.5 77.0L558.0 79.0L556.7 81.0L555.3 83.0L554.0 85.0L552.7 87.0L551.5 89.0L550.2 91.0L549.0 93.0L547.7 95.0L546.5 97.0L545.3 99.0L544.3 101.0L543.7 103.0L543.1 105.0L542.5 107.0L542.0 109.0L541.5 111.0L541.1 113.0L540.7 115.0L540.3 117.0L539.9 119.0L539.5 121.0L539.1 123.0L538.8 125.0L538.4 127.0L538.0 129.0L537.9 131.0L537.8 133.0L537.8 135.0L537.8 137.0L537.9 139.0L538.0 141.0L538.2 143.0L538.4 145.0L538.7 147.0L539.0 149.0L539.4 151.0L539.8 153.0L540.5 155.0L541.3 157.0L542.0 159.0L542.8 161.0L543.7 163.0L544.6 165.0L545.5 167.0L546.6 169.0L547.7 171.0L548.8 173.0L550.1 175.0L551.5 177.0L552.9 179.0L677.5 179.0L678.9 177.0L680.3 175.0L681.6 173.0L682.7 171.0L683.8 169.0L684.9 167.0L685.8 165.0L686.7 163.0L687.6 161.0L688.4 159.0L689.1 157.0L689.9 155.0L690.6 153.0L691.0 151.0L691.4 149.0L691.7 147.0L692.0 145.0L692.2 143.0L692.4 141.0L692.5 139.0L692.6 137.0L692.6 135.0L692.6 133.0L692.5 131.0L692.4 129.0L692.0 127.0L691.6 125.0L691.3 123.0L690.9 121.0L690.5 119.0L690.1 117.0L689.7 115.0L689.3 113.0L688.9 111.0L688.4 109.0L687.9 107.0L687.3 105.0L686.7 103.0L686.1 101.0L685.1 99.0L683.9 97.0L682.7 95.0L681.4 93.0L680.2 91.0L678.9 89.0L677.7 87.0L676.4 85.0L675.1 83.0L673.7 81.0L672.4 79.0L670.9 77.0L669.4 75.0L667.7 73.0L666.0 71.0L664.3 69.0L662.5 67.0L660.6 65.0L658.6 63.0L656.6 61.0L654.3 59.0L651.6 57.0L648.6 55.0L645.2 53.0L641.3 51.0L636.6 49.0L630.2 47.0Z" fill="#c50000"/>
<path d="M615.2 45.9L605.1 47.0L596.9 49.0L591.6 51.0L587.3 53.0L583.7 55.0L580.5 57.0L577.7 59.0L575.4 61.0L573.4 63.0L571.5 65.0L569.6 67.0L567.8 69.0L566.0 71.0L564.3 73.0L562.7 75.0L561.1 77.0L559.6 79.0L558.1 81.0L556.7 83.0L555.3 85.0L554.1 87.0L552.8 89.0L551.6 91.0L550.4 93.0L549.2 95.0L548.1 97.0L546.9 99.0L545.8 101.0L544.8 103.0L543.9 105.0L543.2 107.0L542.5 109.0L541.9 111.0L541.4 113.0L541.0 115.0L540.6 117.0L540.2 119.0L539.9 121.0L539.6 123.0L539.3 125.0L539.0 127.0L538.6 129.0L538.4 131.0L538.3 133.0L538.3 135.0L538.3 137.0L538.4 139.0L538.5 141.0L538.7 143.0L538.9 145.0L539.2 147.0L539.5 149.0L539.9 151.0L540.4 153.0L541.0 155.0L541.6 157.0L542.3 159.0L543.0 161.0L543.9 163.0L544.7 165.0L545.7 167.0L546.7 169.0L547.8 171.0L549.0 173.0L550.3 175.0L551.6 177.0L553.1 179.0L677.3 179.0L678.8 177.0L680.1 175.0L681.4 173.0L682.6 171.0L683.7 169.0L684.7 167.0L685.7 165.0L686.5 163.0L687.4 161.0L688.1 159.0L688.8 157.0L689.4 155.0L690.0 153.0L690.5 151.0L690.9 149.0L691.2 147.0L691.5 145.0L691.7 143.0L691.9 141.0L692.0 139.0L692.1 137.0L692.1 135.0L692.1 133.0L692.0 131.0L691.8 129.0L691.4 127.0L691.1 125.0L690.8 123.0L690.5 121.0L690.2 119.0L689.8 117.0L689.4 115.0L689.0 113.0L688.5 111.0L687.9 109.0L687.2 107.0L686.5 105.0L685.6 103.0L684.6 101.0L683.5 99.0L682.3 97.0L681.2 95.0L680.0 93.0L678.8 91.0L677.6 89.0L676.3 87.0L675.1 85.0L673.7 83.0L672.3 81.0L670.8 79.0L669.3 77.0L667.7 75.0L666.1 73.0L664.4 71.0L662.6 69.0L660.8 67.0L658.9 65.0L657.0 63.0L655.0 61.0L652.7 59.0L649.9 57.0L646.7 55.0L643.1 53.0L638.8 51.0L633.5 49.0L625.3 47.0Z" fill="#cf0000"/>
<path d="M615.2 47.6L601.4 49.0L594.8 51.0L590.0 53.0L586.0 55.0L582.6 57.0L579.7 59.0L577.3 61.0L575.2 63.0L573.3 65.0L571.5 67.0L569.7 69.0L567.9 71.0L566.2 73.0L564.4 75.0L562.7 77.0L561.2 79.0L559.7 81.0L558.3 83.0L556.9 85.0L555.6 87.0L554.3 89.0L553.1 91.0L551.9 93.0L550.8 95.0L549.6 97.0L548.5 99.0L547.3 101.0L546.2 103.0L545.3 105.0L544.4 107.0L543.6 109.0L542.9 111.0L542.3 113.0L541.7 115.0L541.2 117.0L540.8 119.0L540.3 121.0L540.0 123.0L539.8 125.0L539.5 127.0L539.2 129.0L539.0 131.0L539.0 133.0L538.9 135.0L538.9 137.0L539.0 139.0L539.1 141.0L539.3 143.0L539.5 145.0L539.8 147.0L540.1 149.0L540.5 151.0L541.0 153.0L541.5 155.0L542.1 157.0L542.8 159.0L543.5 161.0L544.3 163.0L545.1 165.0L546.1 167.0L547.1 169.0L548.1 171.0L549.3 173.0L550.6 175.0L551.9 177.0L553.4 179.0L677.0 179.0L678.5 177.0L679.8 175.0L681.1 173.0L682.3 171.0L683.3 169.0L684.3 167.0L685.3 165.0L686.1 163.0L686.9 161.0L687.6 159.0L688.3 157.0L688.9 155.0L689.4 153.0L689.9 151.0L690.3 149.0L690.6 147.0L690.9 145.0L691.1 143.0L691.3 141.0L691.4 139.0L691.5 137.0L691.5 135.0L691.4 133.0L691.4 131.0L691.2 129.0L690.9 127.0L690.6 125.0L690.4 123.0L690.1 121.0L689.6 119.0L689.2 117.0L688.7 115.0L688.1 113.0L687.5 111.0L686.8 109.0L686.0 107.0L685.1 105.0L684.2 103.0L683.1 101.0L681.9 99.0L680.8 97.0L679.6 95.0L678.5 93.0L677.3 91.0L676.1 89.0L674.8 87.0L673.5 85.0L672.1 83.0L670.7 81.0L669.2 79.0L667.7 77.0L666.0 75.0L664.2 73.0L662.5 71.0L660.7 69.0L658.9 67.0L657.1 65.0L655.2 63.0L653.1 61.0L650.7 59.0L647.8 57.0L644.4 55.0L640.4 53.0L635.6 51.0L629.0 49.0Z" fill="#da0000"/>
<path d="M615.2 49.7L602.4 51.0L595.6 53.0L590.7 55.0L586.8 57.0L583.4 59.0L580.6 61.0L578.2 63.0L575.9 65.0L573.7 67.0L571.8 69.0L570.0 71.0L568.3 73.0L566.6 75.0L564.9 77.0L563.2 79.0L561.6 81.0L560.0 83.0L558.6 85.0L557.3 87.0L556.0 89.0L554.7 91.0L553.5 93.0L552.3 95.0L551.2 97.0L550.1 99.0L549.0 101.0L547.9 103.0L546.7 105.0L545.6 107.0L544.7 109.0L544.0 111.0L543.3 113.0L542.6 115.0L542.1 117.0L541.6 119.0L541.1 121.0L540.7 123.0L540.4 125.0L540.1 127.0L539.9 129.0L539.7 131.0L539.6 133.0L539.6 135.0L539.6 137.0L539.6 139.0L539.7 141.0L539.9 143.0L540.1 145.0L540.4 147.0L540.7 149.0L541.1 151.0L541.5 153.0L542.1 155.0L542.6 157.0L543.3 159.0L544.0 161.0L544.8 163.0L545.6 165.0L546.5 167.0L547.5 169.0L548.6 171.0L549.7 173.0L551.0 175.0L552.3 177.0L553.8 179.0L676.6 179.0L678.1 177.0L679.4 175.0L680.7 173.0L681.8 171.0L682.9 169.0L683.9 167.0L684.8 165.0L685.6 163.0L686.4 161.0L687.1 159.0L687.8 157.0L688.3 155.0L688.9 153.0L689.3 151.0L689.7 149.0L690.0 147.0L690.3 145.0L690.5 143.0L690.7 141.0L690.8 139.0L690.8 137.0L690.8 135.0L690.8 133.0L690.7 131.0L690.5 129.0L690.3 127.0L690.0 125.0L689.7 123.0L689.3 121.0L688.8 119.0L688.3 117.0L687.8 115.0L687.1 113.0L686.4 111.0L685.7 109.0L684.8 107.0L683.7 105.0L682.5 103.0L681.4 101.0L680.3 99.0L679.2 97.0L678.1 95.0L676.9 93.0L675.7 91.0L674.4 89.0L673.1 87.0L671.8 85.0L670.4 83.0L668.8 81.0L667.2 79.0L665.5 77.0L663.8 75.0L662.1 73.0L660.4 71.0L658.6 69.0L656.7 67.0L654.5 65.0L652.2 63.0L649.8 61.0L647.0 59.0L643.6 57.0L639.7 55.0L634.8 53.0L628.0 51.0Z" fill="#e40000"/>
<path d="M615.2 51.7L603.4 53.0L596.4 55.0L591.5 57.0L587.5 59.0L584.5 61.0L582.0 63.0L579.6 65.0L577.3 67.0L575.1 69.0L572.9 71.0L570.8 73.0L569.0 75.0L567.2 77.0L565.6 79.0L564.0 81.0L562.4 83.0L560.8 85.0L559.1 87.0L557.6 89.0L556.4 91.0L555.2 93.0L554.0 95.0L552.9 97.0L551.8 99.0L550.7 101.0L549.7 103.0L548.6 105.0L547.5 107.0L546.3 109.0L545.1 111.0L544.3 113.0L543.6 115.0L543.0 117.0L542.4 119.0L541.9 121.0L541.5 123.0L541.1 125.0L540.8 127.0L540.5 129.0L540.3 131.0L540.3 133.0L540.2 135.0L540.2 137.0L540.2 139.0L540.3 141.0L540.5 143.0L540.7 145.0L541.0 147.0L541.3 149.0L541.7 151.0L542.1 153.0L542.6 155.0L543.2 157.0L543.8 159.0L544.5 161.0L545.3 163.0L546.1 165.0L547.0 167.0L548.0 169.0L549.0 171.0L550.2 173.0L551.4 175.0L552.7 177.0L554.2 179.0L676.2 179.0L677.7 177.0L679.0 175.0L680.2 173.0L681.4 171.0L682.4 169.0L683.4 167.0L684.3 165.0L685.1 163.0L685.9 161.0L686.6 159.0L687.2 157.0L687.8 155.0L688.3 153.0L688.7 151.0L689.1 149.0L689.4 147.0L689.7 145.0L689.9 143.0L690.1 141.0L690.2 139.0L690.2 137.0L690.2 135.0L690.1 133.0L690.1 131.0L689.9 129.0L689.6 127.0L689.3 125.0L688.9 123.0L688.5 121.0L688.0 119.0L687.4 117.0L686.8 115.0L686.1 113.0L685.3 111.0L684.1 109.0L682.9 107.0L681.8 105.0L680.7 103.0L679.7 101.0L678.6 99.0L677.5 97.0L676.4 95.0L675.2 93.0L674.0 91.0L672.8 89.0L671.3 87.0L669.6 85.0L668.0 83.0L666.4 81.0L664.8 79.0L663.2 77.0L661.4 75.0L659.6 73.0L657.5 71.0L655.3 69.0L653.1 67.0L650.8 65.0L648.4 63.0L645.9 61.0L642.9 59.0L638.9 57.0L634.0 55.0L627.0 53.0Z" fill="#ef0000"/>
<path d="M615.2 53.8L604.4 55.0L597.2 57.0L592.2 59.0L588.8 61.0L586.2 63.0L583.7 65.0L581.3 67.0L579.0 69.0L576.8 71.0L574.6 73.0L572.5 75.0L570.5 77.0L568.5 79.0L566.7 81.0L565.0 83.0L563.4 85.0L561.9 87.0L560.3 89.0L558.7 91.0L557.1 93.0L555.6 95.0L554.5 97.0L553.4 99.0L552.4 101.0L551.4 103.0L550.4 105.0L549.4 107.0L548.4 109.0L547.3 111.0L546.2 113.0L545.0 115.0L543.9 117.0L543.3 119.0L542.7 121.0L542.3 123.0L541.9 125.0L541.5 127.0L541.2 129.0L541.0 131.0L540.9 133.0L540.8 135.0L540.8 137.0L540.9 139.0L541.0 141.0L541.1 143.0L541.3 145.0L541.6 147.0L541.9 149.0L542.3 151.0L542.7 153.0L543.2 155.0L543.7 157.0L544.3 159.0L545.0 161.0L545.8 163.0L546.6 165.0L547.5 167.0L548.4 169.0L549.5 171.0L550.6 173.0L551.8 175.0L553.1 177.0L554.6 179.0L675.8 179.0L677.3 177.0L678.6 175.0L679.8 173.0L680.9 171.0L682.0 169.0L682.9 167.0L683.8 165.0L684.6 163.0L685.4 161.0L686.1 159.0L686.7 157.0L687.2 155.0L687.7 153.0L688.1 151.0L688.5 149.0L688.8 147.0L689.1 145.0L689.3 143.0L689.4 141.0L689.5 139.0L689.6 137.0L689.6 135.0L689.5 133.0L689.4 131.0L689.2 129.0L688.9 127.0L688.5 125.0L688.1 123.0L687.7 121.0L687.1 119.0L686.5 117.0L685.4 115.0L684.2 113.0L683.1 111.0L682.0 109.0L681.0 107.0L680.0 105.0L679.0 103.0L678.0 101.0L677.0 99.0L675.9 97.0L674.8 95.0L673.3 93.0L671.7 91.0L670.1 89.0L668.5 87.0L667.0 85.0L665.4 83.0L663.7 81.0L661.9 79.0L659.9 77.0L657.9 75.0L655.8 73.0L653.6 71.0L651.4 69.0L649.1 67.0L646.7 65.0L644.2 63.0L641.6 61.0L638.2 59.0L633.2 57.0L626.0 55.0Z" fill="#fa0000"/>
<path d="M615.2 57.0L600.9 59.0L595.8 61.0L592.1 63.0L588.6 65.0L585.6 67.0L583.2 69.0L580.9 71.0L578.6 73.0L576.5 75.0L574.4 77.0L572.3 79.0L570.3 81.0L568.4 83.0L566.6 85.0L564.9 87.0L563.2 89.0L561.7 91.0L560.1 93.0L558.6 95.0L557.0 97.0L555.4 99.0L554.1 101.0L553.2 103.0L552.3 105.0L551.4 107.0L550.5 109.0L549.5 111.0L548.5 113.0L547.5 115.0L546.3 117.0L545.2 119.0L543.9 121.0L543.0 123.0L542.6 125.0L542.2 127.0L541.8 129.0L541.7 131.0L541.6 133.0L541.6 135.0L541.6 137.0L541.6 139.0L541.7 141.0L541.9 143.0L542.1 145.0L542.3 147.0L542.6 149.0L543.0 151.0L543.3 153.0L543.8 155.0L544.4 157.0L545.0 159.0L545.7 161.0L546.4 163.0L547.2 165.0L548.0 167.0L549.0 169.0L550.0 171.0L551.1 173.0L552.3 175.0L553.6 177.0L555.0 179.0L675.4 179.0L676.8 177.0L678.1 175.0L679.3 173.0L680.4 171.0L681.4 169.0L682.4 167.0L683.2 165.0L684.0 163.0L684.7 161.0L685.4 159.0L686.0 157.0L686.6 155.0L687.1 153.0L687.4 151.0L687.8 149.0L688.1 147.0L688.3 145.0L688.5 143.0L688.7 141.0L688.8 139.0L688.8 137.0L688.8 135.0L688.8 133.0L688.7 131.0L688.6 129.0L688.2 127.0L687.8 125.0L687.4 123.0L686.5 121.0L685.2 119.0L684.1 117.0L682.9 115.0L681.9 113.0L680.9 111.0L679.9 109.0L679.0 107.0L678.1 105.0L677.2 103.0L676.3 101.0L675.0 99.0L673.4 97.0L671.8 95.0L670.3 93.0L668.7 91.0L667.2 89.0L665.5 87.0L663.8 85.0L662.0 83.0L660.1 81.0L658.1 79.0L656.0 77.0L653.9 75.0L651.8 73.0L649.5 71.0L647.2 69.0L644.8 67.0L641.8 65.0L638.3 63.0L634.6 61.0L629.5 59.0L615.2 57.0Z" fill="#ff0500"/>
<path d="M615.2 60.0L608.4 61.0L602.1 63.0L597.4 65.0L593.3 67.0L589.4 69.0L585.7 71.0L582.9 73.0L580.6 75.0L578.4 77.0L576.3 79.0L574.3 81.0L572.3 83.0L570.4 85.0L568.5 87.0L566.7 89.0L565.0 91.0L563.4 93.0L561.8 95.0L560.3 97.0L558.8 99.0L557.4 101.0L556.1 103.0L554.9 105.0L553.7 107.0L552.5 109.0L551.7 111.0L550.8 113.0L549.9 115.0L548.9 117.0L547.9 119.0L546.8 121.0L545.6 123.0L544.3 125.0L543.0 127.0L542.5 129.0L542.3 131.0L542.3 133.0L542.3 135.0L542.4 137.0L542.5 139.0L542.7 141.0L543.0 143.0L543.4 145.0L543.8 147.0L544.4 149.0L545.0 151.0L545.6 153.0L546.1 155.0L546.5 157.0L547.0 159.0L547.5 161.0L548.2 163.0L548.9 165.0L549.7 167.0L550.5 169.0L551.5 171.0L552.6 173.0L553.8 175.0L555.1 177.0L556.4 179.0L674.0 179.0L675.3 177.0L676.6 175.0L677.8 173.0L678.9 171.0L679.9 169.0L680.7 167.0L681.5 165.0L682.2 163.0L682.9 161.0L683.4 159.0L683.9 157.0L684.3 155.0L684.8 153.0L685.4 151.0L686.0 149.0L686.6 147.0L687.0 145.0L687.4 143.0L687.7 141.0L687.9 139.0L688.0 137.0L688.1 135.0L688.1 133.0L688.1 131.0L687.9 129.0L687.4 127.0L686.1 125.0L684.8 123.0L683.6 121.0L682.5 119.0L681.5 117.0L680.5 115.0L679.6 113.0L678.7 111.0L677.9 109.0L676.7 107.0L675.5 105.0L674.3 103.0L673.0 101.0L671.6 99.0L670.1 97.0L668.6 95.0L667.0 93.0L665.4 91.0L663.7 89.0L661.9 87.0L660.0 85.0L658.1 83.0L656.1 81.0L654.1 79.0L652.0 77.0L649.8 75.0L647.5 73.0L644.7 71.0L641.0 69.0L637.1 67.0L633.0 65.0L628.3 63.0L622.0 61.0Z" fill="#ff1000"/>
<path d="M615.2 65.8L605.8 67.0L600.0 69.0L595.3 71.0L591.0 73.0L586.9 75.0L583.1 77.0L580.5 79.0L578.4 81.0L576.4 83.0L574.4 85.0L572.5 87.0L570.6 89.0L568.8 91.0L567.0 93.0L565.3 95.0L563.7 97.0L562.2 99.0L560.9 101.0L559.7 103.0L558.5 105.0L557.4 107.0L556.2 109.0L555.1 111.0L553.9 113.0L552.8 115.0L551.7 117.0L550.7 119.0L549.8 121.0L548.8 123.0L547.8 125.0L546.6 127.0L545.2 129.0L544.5 131.0L544.7 133.0L544.9 135.0L545.1 137.0L545.3 139.0L545.6 141.0L545.9 143.0L546.3 145.0L546.6 147.0L547.1 149.0L547.6 151.0L548.1 153.0L548.5 155.0L548.8 157.0L549.1 159.0L549.6 161.0L550.1 163.0L550.7 165.0L551.4 167.0L552.2 169.0L553.1 171.0L554.2 173.0L555.3 175.0L556.6 177.0L557.9 179.0L672.5 179.0L673.8 177.0L675.1 175.0L676.2 173.0L677.3 171.0L678.2 169.0L679.0 167.0L679.7 165.0L680.3 163.0L680.8 161.0L681.3 159.0L681.6 157.0L681.9 155.0L682.3 153.0L682.8 151.0L683.3 149.0L683.8 147.0L684.1 145.0L684.5 143.0L684.8 141.0L685.1 139.0L685.3 137.0L685.5 135.0L685.7 133.0L685.9 131.0L685.2 129.0L683.8 127.0L682.6 125.0L681.6 123.0L680.6 121.0L679.7 119.0L678.7 117.0L677.6 115.0L676.5 113.0L675.3 111.0L674.2 109.0L673.0 107.0L671.9 105.0L670.7 103.0L669.5 101.0L668.2 99.0L666.7 97.0L665.1 95.0L663.4 93.0L661.6 91.0L659.8 89.0L657.9 87.0L656.0 85.0L654.0 83.0L652.0 81.0L649.9 79.0L647.3 77.0L643.5 75.0L639.4 73.0L635.1 71.0L630.4 69.0L624.6 67.0Z" fill="#ff1b00"/>
<path d="M615.2 70.4L611.6 71.0L603.6 73.0L598.0 75.0L593.3 77.0L588.9 79.0L584.6 81.0L580.7 83.0L578.5 85.0L576.5 87.0L574.6 89.0L572.7 91.0L570.9 93.0L569.2 95.0L567.4 97.0L565.8 99.0L564.4 101.0L563.3 103.0L562.2 105.0L561.1 107.0L560.0 109.0L558.9 111.0L557.8 113.0L556.7 115.0L555.6 117.0L554.5 119.0L553.5 121.0L552.4 123.0L551.3 125.0L550.3 127.0L549.3 129.0L548.7 131.0L548.6 133.0L548.6 135.0L548.6 137.0L548.7 139.0L548.8 141.0L549.0 143.0L549.2 145.0L549.5 147.0L549.8 149.0L550.1 151.0L550.6 153.0L550.8 155.0L551.0 157.0L551.3 159.0L551.6 161.0L552.1 163.0L552.6 165.0L553.2 167.0L553.9 169.0L554.7 171.0L555.7 173.0L556.9 175.0L558.1 177.0L559.4 179.0L671.0 179.0L672.3 177.0L673.5 175.0L674.7 173.0L675.7 171.0L676.5 169.0L677.2 167.0L677.8 165.0L678.3 163.0L678.8 161.0L679.1 159.0L679.4 157.0L679.6 155.0L679.8 153.0L680.3 151.0L680.6 149.0L680.9 147.0L681.2 145.0L681.4 143.0L681.6 141.0L681.7 139.0L681.8 137.0L681.8 135.0L681.8 133.0L681.7 131.0L681.1 129.0L680.1 127.0L679.1 125.0L678.0 123.0L676.9 121.0L675.9 119.0L674.8 117.0L673.7 115.0L672.6 113.0L671.5 111.0L670.4 109.0L669.3 107.0L668.2 105.0L667.1 103.0L666.0 101.0L664.6 99.0L663.0 97.0L661.2 95.0L659.5 93.0L657.7 91.0L655.8 89.0L653.9 87.0L651.9 85.0L649.7 83.0L645.8 81.0L641.5 79.0L637.1 77.0L632.4 75.0L626.8 73.0L618.8 71.0Z" fill="#ff2500"/>
<path d="M615.2 76.0L608.4 77.0L601.7 79.0L596.1 81.0L591.4 83.0L586.9 85.0L582.4 87.0L578.6 89.0L576.7 91.0L574.8 93.0L573.0 95.0L571.3 97.0L569.6 99.0L568.2 101.0L567.1 103.0L566.0 105.0L564.8 107.0L563.7 109.0L562.7 111.0L561.6 113.0L560.6 115.0L559.5 117.0L558.5 119.0L557.5 121.0L556.5 123.0L555.5 125.0L554.5 127.0L553.5 129.0L552.8 131.0L552.6 133.0L552.3 135.0L552.2 137.0L552.1 139.0L552.0 141.0L552.1 143.0L552.1 145.0L552.3 147.0L552.5 149.0L552.7 151.0L553.0 153.0L553.2 155.0L553.3 157.0L553.4 159.0L553.7 161.0L554.0 163.0L554.4 165.0L555.0 167.0L555.6 169.0L556.3 171.0L557.3 173.0L558.4 175.0L559.6 177.0L560.9 179.0L669.5 179.0L670.8 177.0L672.0 175.0L673.1 173.0L674.1 171.0L674.8 169.0L675.4 167.0L676.0 165.0L676.4 163.0L676.7 161.0L677.0 159.0L677.1 157.0L677.2 155.0L677.4 153.0L677.7 151.0L677.9 149.0L678.1 147.0L678.3 145.0L678.3 143.0L678.4 141.0L678.3 139.0L678.2 137.0L678.1 135.0L677.8 133.0L677.6 131.0L676.9 129.0L675.9 127.0L674.9 125.0L673.9 123.0L672.9 121.0L671.9 119.0L670.9 117.0L669.8 115.0L668.8 113.0L667.7 111.0L666.7 109.0L665.6 107.0L664.4 105.0L663.3 103.0L662.2 101.0L660.8 99.0L659.1 97.0L657.4 95.0L655.6 93.0L653.7 91.0L651.8 89.0L648.0 87.0L643.5 85.0L639.0 83.0L634.3 81.0L628.7 79.0L622.0 77.0Z" fill="#ff3000"/>
<path d="M615.2 81.8L606.0 83.0L599.9 85.0L594.4 87.0L589.7 89.0L585.0 91.0L580.3 93.0L577.0 95.0L575.2 97.0L573.4 99.0L572.0 101.0L571.0 103.0L569.9 105.0L568.8 107.0L567.7 109.0L566.7 111.0L565.6 113.0L564.6 115.0L563.6 117.0L562.6 119.0L561.6 121.0L560.6 123.0L559.6 125.0L558.7 127.0L557.7 129.0L557.1 131.0L556.7 133.0L556.4 135.0L556.2 137.0L556.0 139.0L555.8 141.0L555.7 143.0L555.7 145.0L555.7 147.0L555.8 149.0L555.9 151.0L556.1 153.0L555.9 155.0L555.5 157.0L555.5 159.0L555.7 161.0L556.0 163.0L556.3 165.0L556.7 167.0L557.3 169.0L557.9 171.0L558.9 173.0L560.0 175.0L561.1 177.0L562.3 179.0L668.1 179.0L669.3 177.0L670.4 175.0L671.5 173.0L672.5 171.0L673.1 169.0L673.7 167.0L674.1 165.0L674.4 163.0L674.7 161.0L674.9 159.0L674.9 157.0L674.5 155.0L674.3 153.0L674.5 151.0L674.6 149.0L674.7 147.0L674.7 145.0L674.7 143.0L674.6 141.0L674.4 139.0L674.2 137.0L674.0 135.0L673.7 133.0L673.3 131.0L672.7 129.0L671.7 127.0L670.8 125.0L669.8 123.0L668.8 121.0L667.8 119.0L666.8 117.0L665.8 115.0L664.8 113.0L663.7 111.0L662.7 109.0L661.6 107.0L660.5 105.0L659.4 103.0L658.4 101.0L657.0 99.0L655.2 97.0L653.4 95.0L650.1 93.0L645.4 91.0L640.7 89.0L636.0 87.0L630.5 85.0L624.4 83.0Z" fill="#ff3a00"/>
<path d="M615.2 86.2L610.7 87.0L604.1 89.0L598.2 91.0L592.9 93.0L588.0 95.0L583.2 97.0L578.2 99.0L575.9 101.0L574.9 103.0L573.9 105.0L572.8 107.0L571.7 109.0L570.7 111.0L569.7 113.0L568.7 115.0L567.7 117.0L566.7 119.0L565.7 121.0L564.8 123.0L563.8 125.0L562.9 127.0L562.0 129.0L561.3 131.0L560.9 133.0L560.5 135.0L560.2 137.0L560.0 139.0L559.7 141.0L559.6 143.0L559.5 145.0L559.4 147.0L559.4 149.0L559.4 151.0L559.5 153.0L559.0 155.0L558.2 157.0L557.7 159.0L557.6 161.0L557.7 163.0L557.9 165.0L558.4 167.0L558.9 169.0L559.5 171.0L560.5 173.0L561.5 175.0L562.6 177.0L563.8 179.0L666.6 179.0L667.8 177.0L668.9 175.0L669.9 173.0L670.9 171.0L671.5 169.0L672.0 167.0L672.5 165.0L672.7 163.0L672.8 161.0L672.7 159.0L672.2 157.0L671.4 155.0L670.9 153.0L671.0 151.0L671.0 149.0L671.0 147.0L670.9 145.0L670.8 143.0L670.7 141.0L670.4 139.0L670.2 137.0L669.9 135.0L669.5 133.0L669.1 131.0L668.4 129.0L667.5 127.0L666.6 125.0L665.6 123.0L664.7 121.0L663.7 119.0L662.7 117.0L661.7 115.0L660.7 113.0L659.7 111.0L658.7 109.0L657.6 107.0L656.5 105.0L655.5 103.0L654.5 101.0L652.2 99.0L647.2 97.0L642.4 95.0L637.5 93.0L632.2 91.0L626.3 89.0L619.7 87.0Z" fill="#ff4500"/>
<path d="M615.2 91.9L608.3 93.0L602.3 95.0L596.6 97.0L591.4 99.0L587.6 101.0L584.7 103.0L581.8 105.0L579.4 107.0L577.3 109.0L575.3 111.0L574.3 113.0L573.2 115.0L572.1 117.0L570.9 119.0L569.9 121.0L569.0 123.0L568.0 125.0L567.1 127.0L566.2 129.0L565.5 131.0L565.1 133.0L564.7 135.0L564.3 137.0L564.0 139.0L563.7 141.0L563.4 143.0L563.2 145.0L563.1 147.0L563.0 149.0L563.0 151.0L563.0 153.0L562.1 155.0L560.8 157.0L560.0 159.0L559.6 161.0L559.5 163.0L559.5 165.0L559.8 167.0L560.2 169.0L560.7 171.0L561.6 173.0L562.7 175.0L563.8 177.0L564.9 179.0L665.5 179.0L666.6 177.0L667.7 175.0L668.8 173.0L669.7 171.0L670.2 169.0L670.6 167.0L670.9 165.0L670.9 163.0L670.8 161.0L670.4 159.0L669.6 157.0L668.3 155.0L667.4 153.0L667.4 151.0L667.4 149.0L667.3 147.0L667.2 145.0L667.0 143.0L666.7 141.0L666.4 139.0L666.1 137.0L665.7 135.0L665.3 133.0L664.9 131.0L664.2 129.0L663.3 127.0L662.4 125.0L661.4 123.0L660.5 121.0L659.5 119.0L658.3 117.0L657.2 115.0L656.1 113.0L655.1 111.0L653.1 109.0L651.0 107.0L648.6 105.0L645.7 103.0L642.8 101.0L639.0 99.0L633.8 97.0L628.1 95.0L622.1 93.0Z" fill="#ff5000"/>
<path d="M615.2 96.6L613.5 97.0L606.4 99.0L602.4 101.0L600.1 103.0L597.4 105.0L594.5 107.0L591.4 109.0L588.0 111.0L584.2 113.0L581.0 115.0L579.1 117.0L577.4 119.0L575.8 121.0L574.4 123.0L573.2 125.0L572.0 127.0L570.7 129.0L569.8 131.0L569.3 133.0L568.8 135.0L568.4 137.0L568.0 139.0L567.7 141.0L567.4 143.0L567.1 145.0L566.9 147.0L566.8 149.0L566.7 151.0L566.6 153.0L565.5 155.0L563.7 157.0L562.3 159.0L561.6 161.0L561.2 163.0L561.1 165.0L561.2 167.0L561.4 169.0L561.9 171.0L562.8 173.0L563.8 175.0L564.9 177.0L566.0 179.0L664.4 179.0L665.5 177.0L666.6 175.0L667.6 173.0L668.5 171.0L669.0 169.0L669.2 167.0L669.3 165.0L669.2 163.0L668.8 161.0L668.1 159.0L666.7 157.0L664.9 155.0L663.8 153.0L663.7 151.0L663.6 149.0L663.5 147.0L663.3 145.0L663.0 143.0L662.7 141.0L662.4 139.0L662.0 137.0L661.6 135.0L661.1 133.0L660.6 131.0L659.7 129.0L658.4 127.0L657.2 125.0L656.0 123.0L654.6 121.0L653.0 119.0L651.3 117.0L649.4 115.0L646.2 113.0L642.4 111.0L639.0 109.0L635.9 107.0L633.0 105.0L630.3 103.0L628.0 101.0L624.0 99.0L616.9 97.0Z" fill="#ff5a00"/>
<path d="M614.8 107.0L611.6 109.0L608.7 111.0L606.0 113.0L602.9 115.0L599.3 117.0L595.1 119.0L590.3 121.0L584.7 123.0L580.6 125.0L579.0 127.0L577.6 129.0L576.6 131.0L575.7 133.0L574.7 135.0L573.8 137.0L572.9 139.0L572.0 141.0L571.5 143.0L571.1 145.0L570.8 147.0L570.5 149.0L570.4 151.0L570.3 153.0L569.0 155.0L566.9 157.0L565.2 159.0L563.7 161.0L563.0 163.0L562.7 165.0L562.6 167.0L562.7 169.0L563.0 171.0L563.9 173.0L564.9 175.0L566.0 177.0L567.1 179.0L663.3 179.0L664.4 177.0L665.5 175.0L666.5 173.0L667.4 171.0L667.7 169.0L667.8 167.0L667.7 165.0L667.4 163.0L666.7 161.0L665.2 159.0L663.5 157.0L661.4 155.0L660.1 153.0L660.0 151.0L659.9 149.0L659.6 147.0L659.3 145.0L658.9 143.0L658.4 141.0L657.5 139.0L656.6 137.0L655.7 135.0L654.7 133.0L653.8 131.0L652.8 129.0L651.4 127.0L649.8 125.0L645.7 123.0L640.1 121.0L635.3 119.0L631.1 117.0L627.5 115.0L624.4 113.0L621.7 111.0L618.8 109.0L615.6 107.0Z" fill="#ff6500"/>
<path d="M615.2 126.2L611.3 127.0L605.8 129.0L596.3 131.0L588.9 133.0L584.6 135.0L581.7 137.0L580.5 139.0L579.7 141.0L578.9 143.0L578.1 145.0L577.3 147.0L576.4 149.0L575.6 151.0L574.7 153.0L572.5 155.0L570.2 157.0L568.2 159.0L566.6 161.0L565.3 163.0L564.2 165.0L564.0 167.0L564.0 169.0L564.2 171.0L565.1 173.0L566.1 175.0L567.1 177.0L568.2 179.0L662.2 179.0L663.3 177.0L664.3 175.0L665.3 173.0L666.2 171.0L666.4 169.0L666.4 167.0L666.2 165.0L665.1 163.0L663.8 161.0L662.2 159.0L660.2 157.0L657.9 155.0L655.7 153.0L654.8 151.0L654.0 149.0L653.1 147.0L652.3 145.0L651.5 143.0L650.7 141.0L649.9 139.0L648.7 137.0L645.8 135.0L641.5 133.0L634.1 131.0L624.6 129.0L619.1 127.0Z" fill="#ff7000"/>
<path d="M615.2 131.9L607.9 133.0L602.2 135.0L599.2 137.0L597.4 139.0L593.9 141.0L591.1 143.0L588.9 145.0L587.2 147.0L585.8 149.0L584.7 151.0L583.7 153.0L579.2 155.0L573.5 157.0L571.4 159.0L569.5 161.0L568.0 163.0L566.7 165.0L565.7 167.0L565.3 169.0L565.4 171.0L566.3 173.0L567.2 175.0L568.2 177.0L569.3 179.0L661.1 179.0L662.2 177.0L663.2 175.0L664.1 173.0L665.0 171.0L665.1 169.0L664.7 167.0L663.7 165.0L662.4 163.0L660.9 161.0L659.0 159.0L656.9 157.0L651.2 155.0L646.7 153.0L645.7 151.0L644.6 149.0L643.2 147.0L641.5 145.0L639.3 143.0L636.5 141.0L633.0 139.0L631.2 137.0L628.2 135.0L622.5 133.0Z" fill="#ff7a00"/>
<path d="M615.2 134.1L611.4 135.0L606.6 137.0L603.3 139.0L601.2 141.0L599.7 143.0L598.6 145.0L597.7 147.0L595.7 149.0L593.8 151.0L592.2 153.0L587.7 155.0L580.1 157.0L574.5 159.0L572.5 161.0L570.7 163.0L569.3 165.0L568.2 167.0L567.3 169.0L566.6 171.0L567.4 173.0L568.3 175.0L569.3 177.0L570.3 179.0L660.1 179.0L661.1 177.0L662.1 175.0L663.0 173.0L663.8 171.0L663.1 169.0L662.2 167.0L661.1 165.0L659.7 163.0L657.9 161.0L655.9 159.0L650.3 157.0L642.7 155.0L638.2 153.0L636.6 151.0L634.7 149.0L632.7 147.0L631.8 145.0L630.7 143.0L629.2 141.0L627.1 139.0L623.8 137.0L619.0 135.0Z" fill="#ff8500"/>
<path d="M615.2 136.3L613.1 137.0L609.0 139.0L606.1 141.0L603.9 143.0L602.2 145.0L601.0 147.0L600.0 149.0L599.3 151.0L598.7 153.0L595.6 155.0L588.2 157.0L581.0 159.0L575.7 161.0L573.5 163.0L571.9 165.0L570.6 167.0L569.6 169.0L568.8 171.0L569.6 173.0L570.4 175.0L571.4 177.0L572.4 179.0L658.0 179.0L659.0 177.0L660.0 175.0L660.8 173.0L661.6 171.0L660.8 169.0L659.8 167.0L658.5 165.0L656.9 163.0L654.7 161.0L649.4 159.0L642.2 157.0L634.8 155.0L631.7 153.0L631.1 151.0L630.4 149.0L629.4 147.0L628.2 145.0L626.5 143.0L624.3 141.0L621.4 139.0L617.3 137.0Z" fill="#ff8f00"/>
<path d="M615.2 138.6L614.2 139.0L610.6 141.0L608.0 143.0L605.9 145.0L604.3 147.0L602.9 149.0L601.9 151.0L601.1 153.0L599.7 155.0L595.7 157.0L588.7 159.0L581.8 161.0L576.7 163.0L574.6 165.0L573.1 167.0L571.9 169.0L570.9 171.0L571.7 173.0L572.5 175.0L573.4 177.0L574.4 179.0L656.0 179.0L657.0 177.0L657.9 175.0L658.7 173.0L659.5 171.0L658.5 169.0L657.3 167.0L655.8 165.0L653.7 163.0L648.6 161.0L641.7 159.0L634.7 157.0L630.7 155.0L629.3 153.0L628.5 151.0L627.5 149.0L626.1 147.0L624.5 145.0L622.4 143.0L619.8 141.0L616.2 139.0Z" fill="#ff9a00"/>
<path d="M614.9 141.0L611.7 143.0L609.3 145.0L607.5 147.0L605.9 149.0L604.5 151.0L603.5 153.0L602.1 155.0L600.1 157.0L595.9 159.0L589.2 161.0L582.7 163.0L577.5 165.0L575.6 167.0L574.3 169.0L573.1 171.0L573.9 173.0L574.7 175.0L575.5 177.0L576.4 179.0L654.0 179.0L654.9 177.0L655.7 175.0L656.5 173.0L657.3 171.0L656.1 169.0L654.8 167.0L652.9 165.0L647.7 163.0L641.2 161.0L634.5 159.0L630.3 157.0L628.3 155.0L626.9 153.0L625.9 151.0L624.5 149.0L622.9 147.0L621.1 145.0L618.7 143.0L615.5 141.0Z" fill="#ffa500"/>
<path d="M615.2 143.9L612.5 145.0L610.3 147.0L608.6 149.0L607.2 151.0L605.9 153.0L604.6 155.0L602.8 157.0L600.5 159.0L596.0 161.0L589.7 163.0L583.5 165.0L578.4 167.0L576.6 169.0L575.4 171.0L576.1 173.0L576.8 175.0L577.6 177.0L578.5 179.0L651.9 179.0L652.8 177.0L653.6 175.0L654.3 173.0L655.0 171.0L653.8 169.0L652.0 167.0L646.9 165.0L640.7 163.0L634.4 161.0L629.9 159.0L627.6 157.0L625.8 155.0L624.5 153.0L623.2 151.0L621.8 149.0L620.1 147.0L617.9 145.0Z" fill="#ffaf00"/>
<path d="M615.2 146.0L613.2 147.0L611.1 149.0L609.5 151.0L608.2 153.0L607.0 155.0L605.5 157.0L603.6 159.0L601.1 161.0L596.2 163.0L590.2 165.0L584.3 167.0L579.1 169.0L577.7 171.0L578.3 173.0L579.0 175.0L579.8 177.0L580.6 179.0L649.8 179.0L650.6 177.0L651.4 175.0L652.1 173.0L652.7 171.0L651.3 169.0L646.1 167.0L640.2 165.0L634.2 163.0L629.3 161.0L626.8 159.0L624.9 157.0L623.4 155.0L622.2 153.0L620.9 151.0L619.3 149.0L617.2 147.0Z" fill="#ffba00"/>
<path d="M615.2 148.1L613.7 149.0L611.8 151.0L610.3 153.0L609.2 155.0L608.1 157.0L606.6 159.0L604.6 161.0L601.8 163.0L596.4 165.0L590.7 167.0L585.1 169.0L580.0 171.0L580.6 173.0L581.2 175.0L581.9 177.0L582.7 179.0L647.7 179.0L648.5 177.0L649.2 175.0L649.8 173.0L650.4 171.0L645.3 169.0L639.7 167.0L634.0 165.0L628.6 163.0L625.8 161.0L623.8 159.0L622.3 157.0L621.2 155.0L620.1 153.0L618.6 151.0L616.7 149.0Z" fill="#ffc500"/>
<path d="M615.2 150.2L614.1 151.0L612.4 153.0L611.3 155.0L610.4 157.0L609.4 159.0L608.0 161.0L605.9 163.0L602.7 165.0L596.7 167.0L591.3 169.0L586.0 171.0L586.5 173.0L587.0 175.0L587.6 177.0L588.2 179.0L642.2 179.0L642.8 177.0L643.4 175.0L643.9 173.0L644.4 171.0L639.1 169.0L633.7 167.0L627.7 165.0L624.5 163.0L622.4 161.0L621.0 159.0L620.0 157.0L619.1 155.0L618.0 153.0L616.3 151.0Z" fill="#ffcf00"/>
<path d="M615.2 152.2L614.4 153.0L613.4 155.0L612.8 157.0L612.1 159.0L611.1 161.0L609.8 163.0L607.8 165.0L604.2 167.0L596.9 169.0L591.8 171.0L592.2 173.0L592.6 175.0L593.1 177.0L593.6 179.0L636.8 179.0L637.3 177.0L637.8 175.0L638.2 173.0L638.6 171.0L633.5 169.0L626.2 167.0L622.6 165.0L620.6 163.0L619.3 161.0L618.3 159.0L617.6 157.0L617.0 155.0L616.0 153.0Z" fill="#ffda00"/>
<path d="M615.1 157.0L614.7 159.0L614.2 161.0L613.5 163.0L612.4 165.0L610.5 167.0L606.8 169.0L597.2 171.0L597.5 173.0L597.8 175.0L598.2 177.0L598.6 179.0L631.8 179.0L632.2 177.0L632.6 175.0L632.9 173.0L633.2 171.0L623.6 169.0L619.9 167.0L618.0 165.0L616.9 163.0L616.2 161.0L615.7 159.0L615.3 157.0Z" fill="#ffe400"/>
<path d="M615.2 169.0L613.8 171.0L613.8 173.0L613.8 175.0L613.8 177.0L613.9 179.0L616.5 179.0L616.6 177.0L616.6 175.0L616.6 173.0L616.6 171.0Z" fill="#ffef00"/>
<ellipse cx="615.2" cy="177" rx="23" ry="27.5" fill="url(#gbl)"/>
<ellipse cx="615.2" cy="155.6" rx="8.5" ry="3.6" fill="#fff000" filter="url(#blur16)"/>
<path d="M601.8 145.2 C605 130.5 625.4 130.5 628.6 145.2 C624 155.5 606.4 155.5 601.8 145.2Z" fill="#f80800" filter="url(#blur25)"/>
<path d="M604.6 145.1 C607.6 135.0 622.8 135.0 625.8 145.1 C621.6 152.0 608.8 152.0 604.6 145.1Z" fill="#0a0000" filter="url(#blur07)"/>
<path d="M600.50 173.90 C586.82 173.90 567.90 162.92 567.90 145.00 C567.90 111.03 589.08 83.50 615.20 83.50 C641.32 83.50 662.50 111.03 662.50 145.00 C662.50 162.92 643.58 173.90 629.90 173.90" fill="none" stroke="#2d5af0" stroke-width="1.6"/>
<path d="M601.00 171.30 C593.28 171.30 577.40 161.31 577.40 145.00 C577.40 118.49 594.32 97.00 615.20 97.00 C636.08 97.00 653.00 118.49 653.00 145.00 C653.00 161.31 637.12 171.30 629.40 171.30" fill="none" stroke="#2d5af0" stroke-width="1.6"/>
<path d="M602.20 168.20 C597.73 168.20 584.00 159.38 584.00 145.00 C584.00 124.01 597.97 107.00 615.20 107.00 C632.43 107.00 646.40 124.01 646.40 145.00 C646.40 159.38 632.67 168.20 628.20 168.20" fill="none" stroke="#2d5af0" stroke-width="1.6"/>
<path d="M604.10 164.80 C601.65 164.80 590.10 157.28 590.10 145.00 C590.10 128.60 601.34 115.30 615.20 115.30 C629.06 115.30 640.30 128.60 640.30 145.00 C640.30 157.28 628.75 164.80 626.30 164.80" fill="none" stroke="#2d5af0" stroke-width="1.6"/>
<path d="M607.40 161.50 C605.42 161.50 596.40 155.23 596.40 145.00 C596.40 132.85 604.82 123.00 615.20 123.00 C625.58 123.00 634.00 132.85 634.00 145.00 C634.00 155.23 624.98 161.50 623.00 161.50" fill="none" stroke="#2d5af0" stroke-width="1.6"/>
<path d="M612.50 158.60 C608.70 158.60 602.20 153.43 602.20 145.00 C602.20 137.71 608.02 131.80 615.20 131.80 C622.38 131.80 628.20 137.71 628.20 145.00 C628.20 153.43 621.70 158.60 617.90 158.60" fill="none" stroke="#2d5af0" stroke-width="1.6"/>
<path d="M600.3 177.6 A14.9 18.2 0 0 1 630.1 177.6 V179 H600.3 Z" fill="#d2d2d2" stroke="#222" stroke-width="0.6"/>
</g>
<rect x="481" y="11" width="268" height="0.4" fill="#fff"/><rect x="481" y="177.3" width="268" height="0.7" fill="#fff"/><rect x="481" y="11" width="0.2" height="167" fill="#fff"/><rect x="748.9" y="11" width="0.1" height="167" fill="#fff"/>
<text x="460.40" y="185.90" font-size="26" fill="#000">0</text>
<text x="460.40" y="148.90" font-size="26" fill="#000">2</text>
<text x="460.40" y="111.90" font-size="26" fill="#000">4</text>
<text x="460.40" y="74.90" font-size="26" fill="#000">6</text>
<text x="460.40" y="38.00" font-size="26" fill="#000">8</text>
<rect x="524.47" y="195.73" width="15.60" height="1.46" fill="#000"/>
<text x="542.28" y="204.00" font-size="26" fill="#000">5</text>
<text x="608.10" y="204.00" font-size="26" fill="#000">0</text>
<text x="683.20" y="204.00" font-size="26" fill="#000">5</text>
<text x="615.20" y="236.80" font-size="30" text-anchor="middle" font-style="italic" fill="#000">x</text>
<text x="387.30" y="30.50" font-size="29.5" text-anchor="start" fill="#000">(<tspan font-style="italic">b</tspan>)</text>
<g clip-path="url(#clipc)">
<rect x="858" y="11" width="265" height="167" fill="#0a0000"/>
<ellipse cx="990.8" cy="120" rx="82" ry="99" fill="url(#gc1)"/>
<ellipse cx="990.8" cy="123" rx="36" ry="40" fill="url(#gc2)"/>
<path d="M931.6 165.0 L938.8 158.2 L944.0 152.8 L949.0 147.4 L953.6 141.7 L958.3 136.0 L963.5 130.0 L970.0 125.6 L980.0 122.8 L990.8 121.6 L990.8 140.0 L970.0 150.0 L958.0 158.0 L953.8 154.2 L945.6 166.5 L937.4 178.5 L928.0 178.5 Z" fill="#ffe800" filter="url(#blur16)"/>
<path d="M1050.0 165.0 L1042.8 158.2 L1037.6 152.8 L1032.6 147.4 L1028.0 141.7 L1023.3 136.0 L1018.1 130.0 L1011.6 125.6 L1001.6 122.8 L990.8 121.6 L990.8 140.0 L1011.6 150.0 L1023.6 158.0 L1027.8 154.2 L1036.0 166.5 L1044.2 178.5 L1053.6 178.5 Z" fill="#ffe800" filter="url(#blur16)"/>
<path d="M931.5 177.0 L939.5 166.0 L946.5 157.0 L952.2 149.0 L956.6 142.6 L961.0 137.0 L965.6 132.6" stroke="#ffff78" stroke-width="4.0" fill="none" filter="url(#blur12)"/>
<path d="M1050.1 177.0 L1042.1 166.0 L1035.1 157.0 L1029.4 149.0 L1025.0 142.6 L1020.6 137.0 L1016.0 132.6" stroke="#ffff78" stroke-width="4.0" fill="none" filter="url(#blur12)"/>
<path d="M966.5 121 L1015.1 121 L1015.1 136 L966.5 136 Z" fill="url(#gwedge)" filter="url(#blur07)"/>
<path d="M967.3 122.5 C967.3 86.8 1014.3 86.8 1014.3 122.5 Q990.8 126.6 967.3 122.5 Z" fill="#0a0000"/>
<path d="M954.2 153.6 L962.0 178.5 L937.2 178.5 Z" fill="#0a0000"/>
<path d="M1027.4 153.6 L1019.6 178.5 L1044.4 178.5 Z" fill="#0a0000"/>
<path d="M949.90 169.70C948.48 169.70 943.45 169.88 941.40 169.70C939.35 169.52 938.55 169.12 937.60 168.60C936.65 168.08 936.62 167.80 935.70 166.60C934.78 165.40 933.38 163.98 932.10 161.40C930.82 158.82 929.15 154.55 928.00 151.10C926.85 147.65 925.93 144.55 925.20 140.70C924.47 136.85 923.92 131.28 923.60 128.00C923.28 124.72 923.25 123.89 923.30 121.00C923.35 118.11 923.49 114.09 923.88 110.68C924.26 107.26 924.84 103.85 925.60 100.53C926.36 97.20 927.31 93.91 928.44 90.73C929.56 87.55 930.87 84.43 932.34 81.45C933.81 78.47 935.46 75.58 937.25 72.85C939.04 70.12 940.99 67.50 943.07 65.07C945.15 62.63 947.38 60.34 949.71 58.25C952.04 56.15 954.51 54.22 957.05 52.50C959.59 50.78 962.26 49.24 964.97 47.92C967.68 46.60 970.49 45.49 973.33 44.60C976.17 43.70 979.08 43.03 981.99 42.58C984.90 42.13 987.86 41.90 990.80 41.90C993.74 41.90 996.70 42.13 999.61 42.58C1002.52 43.03 1005.43 43.70 1008.27 44.60C1011.11 45.49 1013.92 46.60 1016.63 47.92C1019.34 49.24 1022.01 50.78 1024.55 52.50C1027.09 54.22 1029.56 56.15 1031.89 58.25C1034.22 60.34 1036.45 62.63 1038.53 65.07C1040.61 67.50 1042.56 70.12 1044.35 72.85C1046.14 75.58 1047.79 78.47 1049.26 81.45C1050.73 84.43 1052.04 87.55 1053.16 90.73C1054.29 93.91 1055.24 97.20 1056.00 100.53C1056.76 103.85 1057.34 107.26 1057.72 110.68C1058.11 114.09 1058.25 118.11 1058.30 121.00C1058.35 123.89 1058.32 124.72 1058.00 128.00C1057.68 131.28 1057.13 136.85 1056.40 140.70C1055.67 144.55 1054.75 147.65 1053.60 151.10C1052.45 154.55 1050.78 158.82 1049.50 161.40C1048.22 163.98 1046.82 165.40 1045.90 166.60C1044.98 167.80 1044.95 168.08 1044.00 168.60C1043.05 169.12 1042.25 169.52 1040.20 169.70C1038.15 169.88 1033.12 169.70 1031.70 169.70" fill="none" stroke="#2d5af0" stroke-width="1.6" stroke-linejoin="round"/>
<path d="M951.10 161.90C950.18 161.90 946.92 162.08 945.60 161.90C944.28 161.72 943.82 161.23 943.20 160.80C942.58 160.37 942.88 160.92 941.90 159.30C940.92 157.68 938.67 154.20 937.30 151.10C935.93 148.00 934.55 144.55 933.70 140.70C932.85 136.85 932.50 131.28 932.20 128.00C931.90 124.72 931.87 123.66 931.90 121.00C931.93 118.34 932.07 115.00 932.40 112.03C932.74 109.07 933.24 106.11 933.91 103.22C934.57 100.33 935.40 97.47 936.38 94.71C937.36 91.95 938.51 89.24 939.79 86.65C941.07 84.06 942.51 81.55 944.07 79.18C945.63 76.81 947.34 74.54 949.15 72.42C950.96 70.31 952.91 68.32 954.94 66.50C956.98 64.68 959.13 63.00 961.35 61.50C963.57 60.01 965.89 58.67 968.26 57.53C970.63 56.39 973.08 55.41 975.56 54.64C978.03 53.87 980.57 53.28 983.11 52.89C985.65 52.50 988.24 52.30 990.80 52.30C993.36 52.30 995.95 52.50 998.49 52.89C1001.03 53.28 1003.57 53.87 1006.04 54.64C1008.52 55.41 1010.97 56.39 1013.34 57.53C1015.71 58.67 1018.03 60.01 1020.25 61.50C1022.47 63.00 1024.62 64.68 1026.66 66.50C1028.69 68.32 1030.64 70.31 1032.45 72.42C1034.26 74.54 1035.97 76.81 1037.53 79.18C1039.09 81.55 1040.53 84.06 1041.81 86.65C1043.09 89.24 1044.24 91.95 1045.22 94.71C1046.20 97.47 1047.03 100.33 1047.69 103.22C1048.36 106.11 1048.86 109.07 1049.20 112.03C1049.53 115.00 1049.67 118.34 1049.70 121.00C1049.73 123.66 1049.70 124.72 1049.40 128.00C1049.10 131.28 1048.75 136.85 1047.90 140.70C1047.05 144.55 1045.67 148.00 1044.30 151.10C1042.93 154.20 1040.68 157.68 1039.70 159.30C1038.72 160.92 1039.02 160.37 1038.40 160.80C1037.78 161.23 1037.32 161.72 1036.00 161.90C1034.68 162.08 1031.42 161.90 1030.50 161.90" fill="none" stroke="#2d5af0" stroke-width="1.6" stroke-linejoin="round"/>
<path d="M953.30 154.70C952.75 154.52 951.12 154.55 950.00 153.60C948.88 152.65 947.90 151.15 946.60 149.00C945.30 146.85 943.23 144.20 942.20 140.70C941.17 137.20 940.65 131.28 940.40 128.00C940.15 124.72 940.58 123.43 940.70 121.00C940.82 118.57 940.84 115.92 941.13 113.42C941.41 110.91 941.84 108.40 942.41 105.96C942.97 103.52 943.68 101.10 944.51 98.77C945.35 96.43 946.32 94.14 947.41 91.95C948.50 89.76 949.73 87.64 951.05 85.63C952.38 83.63 953.83 81.70 955.37 79.92C956.92 78.13 958.57 76.45 960.30 74.91C962.03 73.37 963.86 71.95 965.75 70.68C967.64 69.42 969.61 68.29 971.63 67.32C973.64 66.36 975.73 65.53 977.83 64.88C979.94 64.23 982.10 63.73 984.26 63.40C986.42 63.07 988.62 62.90 990.80 62.90C992.98 62.90 995.18 63.07 997.34 63.40C999.50 63.73 1001.66 64.23 1003.77 64.88C1005.87 65.53 1007.96 66.36 1009.97 67.32C1011.99 68.29 1013.96 69.42 1015.85 70.68C1017.74 71.95 1019.57 73.37 1021.30 74.91C1023.03 76.45 1024.68 78.13 1026.23 79.92C1027.77 81.70 1029.22 83.63 1030.55 85.63C1031.87 87.64 1033.10 89.76 1034.19 91.95C1035.28 94.14 1036.25 96.43 1037.09 98.77C1037.92 101.10 1038.63 103.52 1039.19 105.96C1039.76 108.40 1040.19 110.91 1040.47 113.42C1040.76 115.92 1040.78 118.57 1040.90 121.00C1041.02 123.43 1041.45 124.72 1041.20 128.00C1040.95 131.28 1040.43 137.20 1039.40 140.70C1038.37 144.20 1036.30 146.85 1035.00 149.00C1033.70 151.15 1032.72 152.65 1031.60 153.60C1030.48 154.55 1028.85 154.52 1028.30 154.70" fill="none" stroke="#2d5af0" stroke-width="1.6" stroke-linejoin="round"/>
<path d="M956.70 147.40C956.25 147.03 954.82 146.32 954.00 145.20C953.18 144.08 952.57 143.23 951.80 140.70C951.03 138.17 949.78 133.28 949.40 130.00C949.02 126.72 949.42 123.54 949.50 121.00C949.58 118.46 949.62 116.81 949.85 114.73C950.09 112.66 950.44 110.59 950.91 108.58C951.37 106.56 951.96 104.56 952.64 102.63C953.33 100.70 954.13 98.81 955.03 97.00C955.93 95.19 956.94 93.44 958.03 91.78C959.13 90.12 960.33 88.54 961.60 87.06C962.87 85.58 964.23 84.19 965.66 82.92C967.08 81.65 968.59 80.47 970.15 79.43C971.71 78.39 973.34 77.45 975.00 76.65C976.66 75.85 978.38 75.18 980.11 74.64C981.85 74.10 983.63 73.68 985.41 73.41C987.19 73.14 989.00 73.00 990.80 73.00C992.60 73.00 994.41 73.14 996.19 73.41C997.97 73.68 999.75 74.10 1001.49 74.64C1003.22 75.18 1004.94 75.85 1006.60 76.65C1008.26 77.45 1009.89 78.39 1011.45 79.43C1013.01 80.47 1014.52 81.65 1015.94 82.92C1017.37 84.19 1018.73 85.58 1020.00 87.06C1021.27 88.54 1022.47 90.12 1023.57 91.78C1024.66 93.44 1025.67 95.19 1026.57 97.00C1027.47 98.81 1028.27 100.70 1028.96 102.63C1029.64 104.56 1030.23 106.56 1030.69 108.58C1031.16 110.59 1031.51 112.66 1031.75 114.73C1031.98 116.81 1032.02 118.46 1032.10 121.00C1032.18 123.54 1032.58 126.72 1032.20 130.00C1031.82 133.28 1030.57 138.17 1029.80 140.70C1029.03 143.23 1028.42 144.08 1027.60 145.20C1026.78 146.32 1025.35 147.03 1024.90 147.40" fill="none" stroke="#2d5af0" stroke-width="1.6" stroke-linejoin="round"/>
<path d="M961.10 139.20C960.80 138.67 959.83 137.53 959.30 136.00C958.77 134.47 958.13 132.50 957.90 130.00C957.67 127.50 957.85 123.32 957.90 121.00C957.95 118.68 957.99 117.69 958.18 116.05C958.37 114.42 958.65 112.78 959.02 111.19C959.39 109.60 959.86 108.02 960.40 106.50C960.95 104.97 961.59 103.48 962.31 102.05C963.02 100.62 963.83 99.24 964.70 97.93C965.57 96.62 966.52 95.37 967.54 94.20C968.55 93.03 969.64 91.94 970.77 90.93C971.91 89.93 973.11 89.00 974.35 88.18C975.59 87.35 976.89 86.62 978.21 85.98C979.53 85.35 980.90 84.82 982.28 84.39C983.67 83.96 985.09 83.64 986.51 83.42C987.92 83.21 989.37 83.10 990.80 83.10C992.23 83.10 993.68 83.21 995.09 83.42C996.51 83.64 997.93 83.96 999.32 84.39C1000.70 84.82 1002.07 85.35 1003.39 85.98C1004.71 86.62 1006.01 87.35 1007.25 88.18C1008.49 89.00 1009.69 89.93 1010.83 90.93C1011.96 91.94 1013.05 93.03 1014.06 94.20C1015.08 95.37 1016.03 96.62 1016.90 97.93C1017.77 99.24 1018.58 100.62 1019.29 102.05C1020.01 103.48 1020.65 104.97 1021.20 106.50C1021.74 108.02 1022.21 109.60 1022.58 111.19C1022.95 112.78 1023.23 114.42 1023.42 116.05C1023.61 117.69 1023.65 118.68 1023.70 121.00C1023.75 123.32 1023.93 127.50 1023.70 130.00C1023.47 132.50 1022.83 134.47 1022.30 136.00C1021.77 137.53 1020.80 138.67 1020.50 139.20" fill="none" stroke="#2d5af0" stroke-width="1.6" stroke-linejoin="round"/>
<path d="M968.90 130.90C968.73 130.25 968.15 128.65 967.90 127.00C967.65 125.35 967.45 122.56 967.40 121.00C967.35 119.44 967.47 118.75 967.60 117.65C967.73 116.54 967.93 115.43 968.20 114.35C968.46 113.27 968.79 112.20 969.18 111.17C969.57 110.13 970.03 109.12 970.54 108.15C971.04 107.18 971.62 106.24 972.24 105.35C972.86 104.47 973.53 103.62 974.25 102.83C974.97 102.04 975.75 101.29 976.55 100.61C977.36 99.93 978.22 99.30 979.10 98.74C979.98 98.18 980.90 97.68 981.85 97.26C982.79 96.83 983.76 96.47 984.74 96.18C985.73 95.89 986.74 95.67 987.75 95.52C988.76 95.37 989.78 95.30 990.80 95.30C991.82 95.30 992.84 95.37 993.85 95.52C994.86 95.67 995.87 95.89 996.86 96.18C997.84 96.47 998.81 96.83 999.75 97.26C1000.70 97.68 1001.62 98.18 1002.50 98.74C1003.38 99.30 1004.24 99.93 1005.05 100.61C1005.85 101.29 1006.63 102.04 1007.35 102.83C1008.07 103.62 1008.74 104.47 1009.36 105.35C1009.98 106.24 1010.56 107.18 1011.06 108.15C1011.57 109.12 1012.03 110.13 1012.42 111.17C1012.81 112.20 1013.14 113.27 1013.40 114.35C1013.67 115.43 1013.87 116.54 1014.00 117.65C1014.13 118.75 1014.25 119.44 1014.20 121.00C1014.15 122.56 1013.95 125.35 1013.70 127.00C1013.45 128.65 1012.87 130.25 1012.70 130.90" fill="none" stroke="#2d5af0" stroke-width="1.6" stroke-linejoin="round"/>
<path d="M949.6 177.6 A41.2 51.8 0 0 1 1032 177.6 V179 H949.6 Z" fill="#d2d2d2" stroke="#222" stroke-width="0.7"/>
</g>
<rect x="858" y="11" width="265" height="0.4" fill="#fff"/><rect x="858" y="177.3" width="265" height="0.7" fill="#fff"/><rect x="858" y="11" width="0.7" height="167" fill="#fff"/><rect x="1122.9" y="11" width="0.1" height="167" fill="#fff"/>
<text x="835.60" y="185.60" font-size="26" fill="#000">0</text>
<text x="835.60" y="134.00" font-size="26" fill="#000">1</text>
<text x="835.60" y="83.40" font-size="26" fill="#000">2</text>
<text x="835.60" y="32.00" font-size="26" fill="#000">3</text>
<rect x="893.97" y="195.73" width="15.60" height="1.46" fill="#000"/>
<text x="911.78" y="204.00" font-size="26" fill="#000">2</text>
<text x="982.90" y="204.00" font-size="26" fill="#000">0</text>
<text x="1066.10" y="204.00" font-size="26" fill="#000">5</text>
<text x="990.80" y="236.80" font-size="30" text-anchor="middle" font-style="italic" fill="#000">x</text>
<text x="796.00" y="30.50" font-size="29.5" text-anchor="start" fill="#000">(<tspan font-style="italic">c</tspan>)</text>
<rect x="1136.5" y="11.8" width="8.6" height="165" fill="url(#gcb)" stroke="#444" stroke-width="0.7"/>
<path d="M1136.5 55.50 h2 M1145.1 55.50 h-2 M1136.5 99.75 h2 M1145.1 99.75 h-2 M1136.5 143.20 h2 M1145.1 143.20 h-2 " stroke="#333" stroke-width="0.7" fill="none" opacity="0.7"/>
<text x="1154.00" y="20.70" font-size="26" fill="#000">1</text>
<text x="1154.00" y="65.00" font-size="26" fill="#000">0</text>
<rect x="1155.95" y="100.13" width="15.60" height="1.46" fill="#000"/>
<text x="1173.76" y="108.40" font-size="26" fill="#000">1</text>
<rect x="1155.95" y="143.93" width="15.60" height="1.46" fill="#000"/>
<text x="1173.76" y="152.20" font-size="26" fill="#000">2</text>
<rect x="107.9" y="286.6" width="235.5" height="214.8" fill="none" stroke="#6a6a6a" stroke-width="0.95"/>
<path d="M147.40 501.40 v-2.50 M147.40 286.60 v2.50 M186.50 501.40 v-2.50 M186.50 286.60 v2.50 M225.50 501.40 v-2.50 M225.50 286.60 v2.50 M264.70 501.40 v-2.50 M264.70 286.60 v2.50 M304.00 501.40 v-2.50 M304.00 286.60 v2.50 " stroke="#777" stroke-width="0.7" fill="none"/>
<path d="M107.90 469.19 h1.50 M343.40 469.19 h-1.50 M107.90 450.35 h1.50 M343.40 450.35 h-1.50 M107.90 436.98 h1.50 M343.40 436.98 h-1.50 M107.90 426.61 h1.50 M343.40 426.61 h-1.50 M107.90 418.14 h1.50 M343.40 418.14 h-1.50 M107.90 410.97 h1.50 M343.40 410.97 h-1.50 M107.90 404.77 h1.50 M343.40 404.77 h-1.50 M107.90 399.30 h1.50 M343.40 399.30 h-1.50 M107.90 362.19 h1.50 M343.40 362.19 h-1.50 M107.90 343.35 h1.50 M343.40 343.35 h-1.50 M107.90 329.98 h1.50 M343.40 329.98 h-1.50 M107.90 319.61 h1.50 M343.40 319.61 h-1.50 M107.90 311.14 h1.50 M343.40 311.14 h-1.50 M107.90 303.97 h1.50 M343.40 303.97 h-1.50 M107.90 297.77 h1.50 M343.40 297.77 h-1.50 M107.90 292.30 h1.50 M343.40 292.30 h-1.50 " stroke="#777" stroke-width="0.7" fill="none"/>
<path d="M107.90 394.40 h2.80 M343.40 394.40 h-2.80 " stroke="#777" stroke-width="0.7" fill="none"/>
<path d="M112.65 308.30 l6.80 6.80 M112.65 315.10 l6.80 -6.80 M124.40 323.60 l6.80 6.80 M124.40 330.40 l6.80 -6.80 M136.15 339.30 l6.80 6.80 M136.15 346.10 l6.80 -6.80 M147.90 360.20 l6.80 6.80 M147.90 367.00 l6.80 -6.80 M159.65 375.60 l6.80 6.80 M159.65 382.40 l6.80 -6.80 M171.40 388.50 l6.80 6.80 M171.40 395.30 l6.80 -6.80 M183.15 398.90 l6.80 6.80 M183.15 405.70 l6.80 -6.80 M194.90 412.50 l6.80 6.80 M194.90 419.30 l6.80 -6.80 M206.65 420.60 l6.80 6.80 M206.65 427.40 l6.80 -6.80 M218.40 427.60 l6.80 6.80 M218.40 434.40 l6.80 -6.80 M230.15 433.10 l6.80 6.80 M230.15 439.90 l6.80 -6.80 M241.90 437.20 l6.80 6.80 M241.90 444.00 l6.80 -6.80 M253.65 440.50 l6.80 6.80 M253.65 447.30 l6.80 -6.80 M265.40 443.00 l6.80 6.80 M265.40 449.80 l6.80 -6.80 M277.15 444.60 l6.80 6.80 M277.15 451.40 l6.80 -6.80 M288.90 445.40 l6.80 6.80 M288.90 452.20 l6.80 -6.80 M300.65 446.50 l6.80 6.80 M300.65 453.30 l6.80 -6.80 M312.40 447.40 l6.80 6.80 M312.40 454.20 l6.80 -6.80 M324.15 448.20 l6.80 6.80 M324.15 455.00 l6.80 -6.80 M335.90 448.70 l6.80 6.80 M335.90 455.50 l6.80 -6.80 " stroke="#0a0aff" stroke-width="1.25" fill="none"/>
<circle cx="116.05" cy="330.20" r="3.6" fill="none" stroke="#ff0a0a" stroke-width="1.25"/>
<circle cx="127.80" cy="349.30" r="3.6" fill="none" stroke="#ff0a0a" stroke-width="1.25"/>
<circle cx="139.55" cy="363.00" r="3.6" fill="none" stroke="#ff0a0a" stroke-width="1.25"/>
<circle cx="151.30" cy="387.40" r="3.6" fill="none" stroke="#ff0a0a" stroke-width="1.25"/>
<circle cx="163.05" cy="404.00" r="3.6" fill="none" stroke="#ff0a0a" stroke-width="1.25"/>
<circle cx="174.80" cy="417.60" r="3.6" fill="none" stroke="#ff0a0a" stroke-width="1.25"/>
<circle cx="186.55" cy="426.00" r="3.6" fill="none" stroke="#ff0a0a" stroke-width="1.25"/>
<circle cx="198.30" cy="442.00" r="3.6" fill="none" stroke="#ff0a0a" stroke-width="1.25"/>
<circle cx="210.05" cy="451.00" r="3.6" fill="none" stroke="#ff0a0a" stroke-width="1.25"/>
<circle cx="221.80" cy="457.90" r="3.6" fill="none" stroke="#ff0a0a" stroke-width="1.25"/>
<circle cx="233.55" cy="463.40" r="3.6" fill="none" stroke="#ff0a0a" stroke-width="1.25"/>
<circle cx="245.30" cy="468.60" r="3.6" fill="none" stroke="#ff0a0a" stroke-width="1.25"/>
<circle cx="257.05" cy="471.90" r="3.6" fill="none" stroke="#ff0a0a" stroke-width="1.25"/>
<circle cx="268.80" cy="474.90" r="3.6" fill="none" stroke="#ff0a0a" stroke-width="1.25"/>
<circle cx="280.55" cy="477.70" r="3.6" fill="none" stroke="#ff0a0a" stroke-width="1.25"/>
<circle cx="292.30" cy="479.00" r="3.6" fill="none" stroke="#ff0a0a" stroke-width="1.25"/>
<circle cx="304.05" cy="480.10" r="3.6" fill="none" stroke="#ff0a0a" stroke-width="1.25"/>
<circle cx="315.80" cy="481.00" r="3.6" fill="none" stroke="#ff0a0a" stroke-width="1.25"/>
<circle cx="327.55" cy="481.80" r="3.6" fill="none" stroke="#ff0a0a" stroke-width="1.25"/>
<circle cx="339.30" cy="482.10" r="3.6" fill="none" stroke="#ff0a0a" stroke-width="1.25"/>
<path d="M186.5 453.5 H343" stroke="#0000ff" stroke-width="2.8" stroke-dasharray="4.0 3.3" fill="none"/>
<path d="M186.5 485.3 H343" stroke="#ff0000" stroke-width="1.5" stroke-dasharray="11 11.2" fill="none"/>
<text x="66.45" y="296.00" font-size="26" fill="#000" textLength="24.70" lengthAdjust="spacingAndGlyphs">10</text>
<text x="91.15" y="286.40" font-size="16.5" fill="#000">2</text>
<text x="66.45" y="402.40" font-size="26" fill="#000" textLength="24.70" lengthAdjust="spacingAndGlyphs">10</text>
<text x="91.15" y="392.80" font-size="16.5" fill="#000">1</text>
<text x="66.45" y="508.10" font-size="26" fill="#000" textLength="24.70" lengthAdjust="spacingAndGlyphs">10</text>
<text x="91.15" y="498.50" font-size="16.5" fill="#000">0</text>
<text x="171.12" y="531.60" font-size="26" fill="#000" textLength="24.70" lengthAdjust="spacingAndGlyphs">10</text>
<text x="195.82" y="522.00" font-size="16.5" fill="#000">0</text>
<text x="226.50" y="571.00" font-size="30" text-anchor="middle" font-style="italic" fill="#000">Bi</text>
<text transform="translate(51 394) rotate(-90)" font-size="29.5" text-anchor="middle" textLength="158" lengthAdjust="spacingAndGlyphs">Plug distance</text>
<text x="3.00" y="289.50" font-size="29.5" text-anchor="start" fill="#000">(<tspan font-style="italic">d</tspan>)</text>
<rect x="513.3" y="286.6" width="235.7" height="214.7" fill="none" stroke="#6a6a6a" stroke-width="0.95"/>
<path d="M530.99 501.30 v-1.50 M530.99 286.60 v1.50 M541.33 501.30 v-1.50 M541.33 286.60 v1.50 M548.67 501.30 v-1.50 M548.67 286.60 v1.50 M554.36 501.30 v-1.50 M554.36 286.60 v1.50 M559.02 501.30 v-1.50 M559.02 286.60 v1.50 M562.95 501.30 v-1.50 M562.95 286.60 v1.50 M566.36 501.30 v-1.50 M566.36 286.60 v1.50 M569.36 501.30 v-1.50 M569.36 286.60 v1.50 M589.74 501.30 v-1.50 M589.74 286.60 v1.50 M600.08 501.30 v-1.50 M600.08 286.60 v1.50 M607.42 501.30 v-1.50 M607.42 286.60 v1.50 M613.11 501.30 v-1.50 M613.11 286.60 v1.50 M617.77 501.30 v-1.50 M617.77 286.60 v1.50 M621.70 501.30 v-1.50 M621.70 286.60 v1.50 M625.11 501.30 v-1.50 M625.11 286.60 v1.50 M628.11 501.30 v-1.50 M628.11 286.60 v1.50 M648.49 501.30 v-1.50 M648.49 286.60 v1.50 M658.83 501.30 v-1.50 M658.83 286.60 v1.50 M666.17 501.30 v-1.50 M666.17 286.60 v1.50 M671.86 501.30 v-1.50 M671.86 286.60 v1.50 M676.52 501.30 v-1.50 M676.52 286.60 v1.50 M680.45 501.30 v-1.50 M680.45 286.60 v1.50 M683.86 501.30 v-1.50 M683.86 286.60 v1.50 M686.86 501.30 v-1.50 M686.86 286.60 v1.50 M707.24 501.30 v-1.50 M707.24 286.60 v1.50 M717.58 501.30 v-1.50 M717.58 286.60 v1.50 M724.92 501.30 v-1.50 M724.92 286.60 v1.50 M730.61 501.30 v-1.50 M730.61 286.60 v1.50 M735.27 501.30 v-1.50 M735.27 286.60 v1.50 M739.20 501.30 v-1.50 M739.20 286.60 v1.50 M742.61 501.30 v-1.50 M742.61 286.60 v1.50 M745.61 501.30 v-1.50 M745.61 286.60 v1.50 M572.05 501.30 v-1.50 M572.05 286.60 v1.50 M689.55 501.30 v-1.50 M689.55 286.60 v1.50 " stroke="#777" stroke-width="0.7" fill="none"/>
<path d="M630.80 501.30 v-2.80 M630.80 286.60 v2.80 " stroke="#777" stroke-width="0.7" fill="none"/>
<path d="M513.30 500.46 h1.50 M749.00 500.46 h-1.50 M513.30 496.53 h1.50 M749.00 496.53 h-1.50 M513.30 493.20 h1.50 M749.00 493.20 h-1.50 M513.30 490.32 h1.50 M749.00 490.32 h-1.50 M513.30 487.77 h1.50 M749.00 487.77 h-1.50 M513.30 470.54 h1.50 M749.00 470.54 h-1.50 M513.30 461.79 h1.50 M749.00 461.79 h-1.50 M513.30 455.58 h1.50 M749.00 455.58 h-1.50 M513.30 450.76 h1.50 M749.00 450.76 h-1.50 M513.30 446.83 h1.50 M749.00 446.83 h-1.50 M513.30 443.50 h1.50 M749.00 443.50 h-1.50 M513.30 440.62 h1.50 M749.00 440.62 h-1.50 M513.30 438.07 h1.50 M749.00 438.07 h-1.50 M513.30 420.84 h1.50 M749.00 420.84 h-1.50 M513.30 412.09 h1.50 M749.00 412.09 h-1.50 M513.30 405.88 h1.50 M749.00 405.88 h-1.50 M513.30 401.06 h1.50 M749.00 401.06 h-1.50 M513.30 397.13 h1.50 M749.00 397.13 h-1.50 M513.30 393.80 h1.50 M749.00 393.80 h-1.50 M513.30 390.92 h1.50 M749.00 390.92 h-1.50 M513.30 388.37 h1.50 M749.00 388.37 h-1.50 M513.30 371.14 h1.50 M749.00 371.14 h-1.50 M513.30 362.39 h1.50 M749.00 362.39 h-1.50 M513.30 356.18 h1.50 M749.00 356.18 h-1.50 M513.30 351.36 h1.50 M749.00 351.36 h-1.50 M513.30 347.43 h1.50 M749.00 347.43 h-1.50 M513.30 344.10 h1.50 M749.00 344.10 h-1.50 M513.30 341.22 h1.50 M749.00 341.22 h-1.50 M513.30 338.67 h1.50 M749.00 338.67 h-1.50 M513.30 321.44 h1.50 M749.00 321.44 h-1.50 M513.30 312.69 h1.50 M749.00 312.69 h-1.50 M513.30 306.48 h1.50 M749.00 306.48 h-1.50 M513.30 301.66 h1.50 M749.00 301.66 h-1.50 M513.30 297.73 h1.50 M749.00 297.73 h-1.50 M513.30 294.40 h1.50 M749.00 294.40 h-1.50 M513.30 291.52 h1.50 M749.00 291.52 h-1.50 M513.30 288.97 h1.50 M749.00 288.97 h-1.50 M513.30 386.10 h1.50 M749.00 386.10 h-1.50 M513.30 485.50 h1.50 M749.00 485.50 h-1.50 " stroke="#777" stroke-width="0.7" fill="none"/>
<path d="M513.30 336.40 h2.80 M749.00 336.40 h-2.80 M513.30 435.80 h2.80 M749.00 435.80 h-2.80 " stroke="#777" stroke-width="0.7" fill="none"/>
<path d="M528.28 307.20 l6.80 6.80 M528.28 314.00 l6.80 -6.80 M545.97 314.00 l6.80 6.80 M545.97 320.80 l6.80 -6.80 M563.65 320.70 l6.80 6.80 M563.65 327.50 l6.80 -6.80 M581.34 326.80 l6.80 6.80 M581.34 333.60 l6.80 -6.80 M599.02 333.00 l6.80 6.80 M599.02 339.80 l6.80 -6.80 M616.71 338.60 l6.80 6.80 M616.71 345.40 l6.80 -6.80 M634.39 344.80 l6.80 6.80 M634.39 351.60 l6.80 -6.80 M652.08 350.60 l6.80 6.80 M652.08 357.40 l6.80 -6.80 M669.76 355.70 l6.80 6.80 M669.76 362.50 l6.80 -6.80 M687.45 360.90 l6.80 6.80 M687.45 367.70 l6.80 -6.80 M705.13 366.40 l6.80 6.80 M705.13 373.20 l6.80 -6.80 M722.82 371.10 l6.80 6.80 M722.82 377.90 l6.80 -6.80 M740.50 376.10 l6.80 6.80 M740.50 382.90 l6.80 -6.80 " stroke="#0a0aff" stroke-width="1.25" fill="none"/>
<circle cx="531.68" cy="361.80" r="3.6" fill="none" stroke="#ff0a0a" stroke-width="1.25"/>
<circle cx="549.37" cy="369.20" r="3.6" fill="none" stroke="#ff0a0a" stroke-width="1.25"/>
<circle cx="567.05" cy="377.10" r="3.6" fill="none" stroke="#ff0a0a" stroke-width="1.25"/>
<circle cx="584.74" cy="385.20" r="3.6" fill="none" stroke="#ff0a0a" stroke-width="1.25"/>
<circle cx="602.42" cy="393.20" r="3.6" fill="none" stroke="#ff0a0a" stroke-width="1.25"/>
<circle cx="620.11" cy="403.60" r="3.6" fill="none" stroke="#ff0a0a" stroke-width="1.25"/>
<circle cx="637.79" cy="409.60" r="3.6" fill="none" stroke="#ff0a0a" stroke-width="1.25"/>
<circle cx="655.48" cy="419.20" r="3.6" fill="none" stroke="#ff0a0a" stroke-width="1.25"/>
<circle cx="673.16" cy="427.80" r="3.6" fill="none" stroke="#ff0a0a" stroke-width="1.25"/>
<circle cx="690.85" cy="433.10" r="3.6" fill="none" stroke="#ff0a0a" stroke-width="1.25"/>
<circle cx="708.53" cy="442.60" r="3.6" fill="none" stroke="#ff0a0a" stroke-width="1.25"/>
<circle cx="726.22" cy="451.60" r="3.6" fill="none" stroke="#ff0a0a" stroke-width="1.25"/>
<circle cx="743.90" cy="457.50" r="3.6" fill="none" stroke="#ff0a0a" stroke-width="1.25"/>
<path d="M543.4 329.7 L742 385.8" stroke="#0000ff" stroke-width="2.8" stroke-dasharray="4.0 3.3" fill="none"/>
<path d="M543.4 384 L735.7 465.8" stroke="#ff0000" stroke-width="1.5" stroke-dasharray="10.6 11.3" fill="none"/>
<text x="472.05" y="343.70" font-size="26" fill="#000" textLength="24.70" lengthAdjust="spacingAndGlyphs">10</text>
<text x="496.75" y="334.10" font-size="16.5" fill="#000">0</text>
<text x="458.85" y="443.10" font-size="26" fill="#000" textLength="24.70" lengthAdjust="spacingAndGlyphs">10</text>
<rect x="484.38" y="428.21" width="11.55" height="1.00" fill="#000"/>
<text x="496.75" y="433.50" font-size="16.5" fill="#000">2</text>
<text x="498.32" y="531.80" font-size="26" fill="#000" textLength="24.70" lengthAdjust="spacingAndGlyphs">10</text>
<text x="523.02" y="522.20" font-size="16.5" fill="#000">0</text>
<text x="613.12" y="531.80" font-size="26" fill="#000" textLength="24.70" lengthAdjust="spacingAndGlyphs">10</text>
<text x="637.83" y="522.20" font-size="16.5" fill="#000">2</text>
<text x="730.73" y="531.80" font-size="26" fill="#000" textLength="24.70" lengthAdjust="spacingAndGlyphs">10</text>
<text x="755.43" y="522.20" font-size="16.5" fill="#000">4</text>
<text x="630.60" y="571.00" font-size="30" text-anchor="middle" font-style="italic" fill="#000">Bi</text>
<text transform="translate(408.5 394.1) rotate(-90)" font-size="29.5" text-anchor="middle" textLength="180" lengthAdjust="spacingAndGlyphs">Boundary-layer</text>
<text transform="translate(442.6 393.3) rotate(-90)" font-size="29.5" text-anchor="middle" textLength="75.5" lengthAdjust="spacingAndGlyphs">widths</text>
<path d="M656.70 403.30 c2.2 -3.6 5.2 -3.6 8.2 -0.6 c3.0 3.0 6.0 3.0 8.2 -0.6" fill="none" stroke="#0000ff" stroke-width="1.5"/>
<text x="675.30" y="409.50" font-size="25.5" font-style="italic" fill="#0000ff">B</text>
<rect x="692.70" y="395.40" width="10.4" height="1.05" fill="#0000ff"/>
<text x="704.50" y="400.70" font-size="17" fill="#0000ff">1/3</text>
<path d="M579.30 451.00 c2.2 -3.6 5.2 -3.6 8.2 -0.6 c3.0 3.0 6.0 3.0 8.2 -0.6" fill="none" stroke="#ff0000" stroke-width="1.5"/>
<text x="597.90" y="457.20" font-size="25.5" font-style="italic" fill="#ff0000">B</text>
<rect x="615.30" y="443.10" width="10.4" height="1.05" fill="#ff0000"/>
<text x="627.10" y="448.40" font-size="17" fill="#ff0000">1/2</text>
<text x="388.00" y="289.50" font-size="29.5" text-anchor="start" fill="#000">(<tspan font-style="italic">e</tspan>)</text>
<rect x="888.2" y="286.6" width="234.9" height="214.7" fill="none" stroke="#6a6a6a" stroke-width="0.95"/>
<path d="M897.37 501.30 v-1.30 M897.37 286.60 v1.30 M902.91 501.30 v-1.30 M902.91 286.60 v1.30 M906.83 501.30 v-1.30 M906.83 286.60 v1.30 M909.88 501.30 v-1.30 M909.88 286.60 v1.30 M912.37 501.30 v-1.30 M912.37 286.60 v1.30 M914.47 501.30 v-1.30 M914.47 286.60 v1.30 M916.29 501.30 v-1.30 M916.29 286.60 v1.30 M917.90 501.30 v-1.30 M917.90 286.60 v1.30 M928.80 501.30 v-1.30 M928.80 286.60 v1.30 M934.34 501.30 v-1.30 M934.34 286.60 v1.30 M938.26 501.30 v-1.30 M938.26 286.60 v1.30 M941.31 501.30 v-1.30 M941.31 286.60 v1.30 M943.80 501.30 v-1.30 M943.80 286.60 v1.30 M945.90 501.30 v-1.30 M945.90 286.60 v1.30 M947.72 501.30 v-1.30 M947.72 286.60 v1.30 M949.33 501.30 v-1.30 M949.33 286.60 v1.30 M960.23 501.30 v-1.30 M960.23 286.60 v1.30 M965.77 501.30 v-1.30 M965.77 286.60 v1.30 M969.69 501.30 v-1.30 M969.69 286.60 v1.30 M972.74 501.30 v-1.30 M972.74 286.60 v1.30 M975.23 501.30 v-1.30 M975.23 286.60 v1.30 M977.33 501.30 v-1.30 M977.33 286.60 v1.30 M979.15 501.30 v-1.30 M979.15 286.60 v1.30 M980.76 501.30 v-1.30 M980.76 286.60 v1.30 M991.66 501.30 v-1.30 M991.66 286.60 v1.30 M997.20 501.30 v-1.30 M997.20 286.60 v1.30 M1001.12 501.30 v-1.30 M1001.12 286.60 v1.30 M1004.17 501.30 v-1.30 M1004.17 286.60 v1.30 M1006.66 501.30 v-1.30 M1006.66 286.60 v1.30 M1008.76 501.30 v-1.30 M1008.76 286.60 v1.30 M1010.58 501.30 v-1.30 M1010.58 286.60 v1.30 M1012.19 501.30 v-1.30 M1012.19 286.60 v1.30 M1023.09 501.30 v-1.30 M1023.09 286.60 v1.30 M1028.63 501.30 v-1.30 M1028.63 286.60 v1.30 M1032.55 501.30 v-1.30 M1032.55 286.60 v1.30 M1035.60 501.30 v-1.30 M1035.60 286.60 v1.30 M1038.09 501.30 v-1.30 M1038.09 286.60 v1.30 M1040.19 501.30 v-1.30 M1040.19 286.60 v1.30 M1042.01 501.30 v-1.30 M1042.01 286.60 v1.30 M1043.62 501.30 v-1.30 M1043.62 286.60 v1.30 M1054.52 501.30 v-1.30 M1054.52 286.60 v1.30 M1060.06 501.30 v-1.30 M1060.06 286.60 v1.30 M1063.98 501.30 v-1.30 M1063.98 286.60 v1.30 M1067.03 501.30 v-1.30 M1067.03 286.60 v1.30 M1069.52 501.30 v-1.30 M1069.52 286.60 v1.30 M1071.62 501.30 v-1.30 M1071.62 286.60 v1.30 M1073.44 501.30 v-1.30 M1073.44 286.60 v1.30 M1075.05 501.30 v-1.30 M1075.05 286.60 v1.30 M1085.95 501.30 v-1.30 M1085.95 286.60 v1.30 M1091.49 501.30 v-1.30 M1091.49 286.60 v1.30 M1095.41 501.30 v-1.30 M1095.41 286.60 v1.30 M1098.46 501.30 v-1.30 M1098.46 286.60 v1.30 M1100.95 501.30 v-1.30 M1100.95 286.60 v1.30 M1103.05 501.30 v-1.30 M1103.05 286.60 v1.30 M1104.87 501.30 v-1.30 M1104.87 286.60 v1.30 M1106.48 501.30 v-1.30 M1106.48 286.60 v1.30 M1117.38 501.30 v-1.30 M1117.38 286.60 v1.30 M1122.92 501.30 v-1.30 M1122.92 286.60 v1.30 M950.77 501.30 v-1.30 M950.77 286.60 v1.30 M1013.63 501.30 v-1.30 M1013.63 286.60 v1.30 M1076.49 501.30 v-1.30 M1076.49 286.60 v1.30 " stroke="#777" stroke-width="0.7" fill="none"/>
<path d="M919.34 501.30 v-2.80 M919.34 286.60 v2.80 M982.20 501.30 v-2.80 M982.20 286.60 v2.80 M1045.06 501.30 v-2.80 M1045.06 286.60 v2.80 M1107.92 501.30 v-2.80 M1107.92 286.60 v2.80 " stroke="#777" stroke-width="0.7" fill="none"/>
<path d="M888.20 490.56 h1.30 M1123.10 490.56 h-1.30 M888.20 484.28 h1.30 M1123.10 484.28 h-1.30 M888.20 479.82 h1.30 M1123.10 479.82 h-1.30 M888.20 476.37 h1.30 M1123.10 476.37 h-1.30 M888.20 473.54 h1.30 M1123.10 473.54 h-1.30 M888.20 471.16 h1.30 M1123.10 471.16 h-1.30 M888.20 469.09 h1.30 M1123.10 469.09 h-1.30 M888.20 467.26 h1.30 M1123.10 467.26 h-1.30 M888.20 454.89 h1.30 M1123.10 454.89 h-1.30 M888.20 448.61 h1.30 M1123.10 448.61 h-1.30 M888.20 444.15 h1.30 M1123.10 444.15 h-1.30 M888.20 440.70 h1.30 M1123.10 440.70 h-1.30 M888.20 437.87 h1.30 M1123.10 437.87 h-1.30 M888.20 435.49 h1.30 M1123.10 435.49 h-1.30 M888.20 433.42 h1.30 M1123.10 433.42 h-1.30 M888.20 431.59 h1.30 M1123.10 431.59 h-1.30 M888.20 419.22 h1.30 M1123.10 419.22 h-1.30 M888.20 412.94 h1.30 M1123.10 412.94 h-1.30 M888.20 408.48 h1.30 M1123.10 408.48 h-1.30 M888.20 405.03 h1.30 M1123.10 405.03 h-1.30 M888.20 402.20 h1.30 M1123.10 402.20 h-1.30 M888.20 399.82 h1.30 M1123.10 399.82 h-1.30 M888.20 397.75 h1.30 M1123.10 397.75 h-1.30 M888.20 395.92 h1.30 M1123.10 395.92 h-1.30 M888.20 383.55 h1.30 M1123.10 383.55 h-1.30 M888.20 377.27 h1.30 M1123.10 377.27 h-1.30 M888.20 372.81 h1.30 M1123.10 372.81 h-1.30 M888.20 369.36 h1.30 M1123.10 369.36 h-1.30 M888.20 366.53 h1.30 M1123.10 366.53 h-1.30 M888.20 364.15 h1.30 M1123.10 364.15 h-1.30 M888.20 362.08 h1.30 M1123.10 362.08 h-1.30 M888.20 360.25 h1.30 M1123.10 360.25 h-1.30 M888.20 347.88 h1.30 M1123.10 347.88 h-1.30 M888.20 341.60 h1.30 M1123.10 341.60 h-1.30 M888.20 337.14 h1.30 M1123.10 337.14 h-1.30 M888.20 333.69 h1.30 M1123.10 333.69 h-1.30 M888.20 330.86 h1.30 M1123.10 330.86 h-1.30 M888.20 328.48 h1.30 M1123.10 328.48 h-1.30 M888.20 326.41 h1.30 M1123.10 326.41 h-1.30 M888.20 324.58 h1.30 M1123.10 324.58 h-1.30 M888.20 312.21 h1.30 M1123.10 312.21 h-1.30 M888.20 305.93 h1.30 M1123.10 305.93 h-1.30 M888.20 301.47 h1.30 M1123.10 301.47 h-1.30 M888.20 298.02 h1.30 M1123.10 298.02 h-1.30 M888.20 295.19 h1.30 M1123.10 295.19 h-1.30 M888.20 292.81 h1.30 M1123.10 292.81 h-1.30 M888.20 290.74 h1.30 M1123.10 290.74 h-1.30 M888.20 288.91 h1.30 M1123.10 288.91 h-1.30 M888.20 465.63 h1.30 M1123.10 465.63 h-1.30 M888.20 394.29 h1.30 M1123.10 394.29 h-1.30 M888.20 322.95 h1.30 M1123.10 322.95 h-1.30 " stroke="#777" stroke-width="0.7" fill="none"/>
<path d="M888.20 429.96 h2.80 M1123.10 429.96 h-2.80 M888.20 358.62 h2.80 M1123.10 358.62 h-2.80 " stroke="#777" stroke-width="0.7" fill="none"/>
<path d="M950.6 487.6 L1118 297.5" stroke="#ff0000" stroke-width="1.5" stroke-dasharray="10.6 11.3" fill="none"/>
<path d="M893.56 477.50 l7.00 7.00 M893.56 484.50 l7.00 -7.00 M903.02 474.40 l7.00 7.00 M903.02 481.40 l7.00 -7.00 M912.48 471.60 l7.00 7.00 M912.48 478.60 l7.00 -7.00 M921.94 468.90 l7.00 7.00 M921.94 475.90 l7.00 -7.00 M931.40 464.50 l7.00 7.00 M931.40 471.50 l7.00 -7.00 M940.86 460.10 l7.00 7.00 M940.86 467.10 l7.00 -7.00 M950.32 456.20 l7.00 7.00 M950.32 463.20 l7.00 -7.00 M959.78 451.30 l7.00 7.00 M959.78 458.30 l7.00 -7.00 M969.24 444.30 l7.00 7.00 M969.24 451.30 l7.00 -7.00 M978.70 436.40 l7.00 7.00 M978.70 443.40 l7.00 -7.00 M988.16 429.50 l7.00 7.00 M988.16 436.50 l7.00 -7.00 M997.62 421.60 l7.00 7.00 M997.62 428.60 l7.00 -7.00 M1007.08 412.10 l7.00 7.00 M1007.08 419.10 l7.00 -7.00 M1016.54 402.30 l7.00 7.00 M1016.54 409.30 l7.00 -7.00 M1026.00 393.20 l7.00 7.00 M1026.00 400.20 l7.00 -7.00 M1035.46 382.60 l7.00 7.00 M1035.46 389.60 l7.00 -7.00 M1044.92 371.90 l7.00 7.00 M1044.92 378.90 l7.00 -7.00 M1054.38 361.10 l7.00 7.00 M1054.38 368.10 l7.00 -7.00 M1063.84 350.40 l7.00 7.00 M1063.84 357.40 l7.00 -7.00 M1073.30 339.70 l7.00 7.00 M1073.30 346.70 l7.00 -7.00 M1082.76 328.90 l7.00 7.00 M1082.76 335.90 l7.00 -7.00 M1092.22 318.20 l7.00 7.00 M1092.22 325.20 l7.00 -7.00 M1101.68 307.40 l7.00 7.00 M1101.68 314.40 l7.00 -7.00 M1111.14 296.70 l7.00 7.00 M1111.14 303.70 l7.00 -7.00 " stroke="#111" stroke-width="1.1" fill="none"/>
<path d="M887.9 492.1 C905 489.5 925 485.5 940 479.5 C952 474.5 960 469.5 966.4 464.3" stroke="#0000ff" stroke-width="2.8" stroke-dasharray="3.0 2.5" fill="none"/>
<text x="846.55" y="295.60" font-size="26" fill="#000" textLength="24.70" lengthAdjust="spacingAndGlyphs">10</text>
<text x="871.25" y="286.00" font-size="16.5" fill="#000">6</text>
<text x="846.55" y="366.90" font-size="26" fill="#000" textLength="24.70" lengthAdjust="spacingAndGlyphs">10</text>
<text x="871.25" y="357.30" font-size="16.5" fill="#000">4</text>
<text x="846.55" y="438.30" font-size="26" fill="#000" textLength="24.70" lengthAdjust="spacingAndGlyphs">10</text>
<text x="871.25" y="428.70" font-size="16.5" fill="#000">2</text>
<text x="846.55" y="509.60" font-size="26" fill="#000" textLength="24.70" lengthAdjust="spacingAndGlyphs">10</text>
<text x="871.25" y="500.00" font-size="16.5" fill="#000">0</text>
<text x="895.32" y="531.80" font-size="26" fill="#000" textLength="24.70" lengthAdjust="spacingAndGlyphs">10</text>
<rect x="920.85" y="516.91" width="11.55" height="1.00" fill="#000"/>
<text x="933.23" y="522.20" font-size="16.5" fill="#000">2</text>
<text x="964.73" y="531.80" font-size="26" fill="#000" textLength="24.70" lengthAdjust="spacingAndGlyphs">10</text>
<text x="989.43" y="522.20" font-size="16.5" fill="#000">0</text>
<text x="1027.73" y="531.80" font-size="26" fill="#000" textLength="24.70" lengthAdjust="spacingAndGlyphs">10</text>
<text x="1052.43" y="522.20" font-size="16.5" fill="#000">2</text>
<text x="1090.53" y="531.80" font-size="26" fill="#000" textLength="24.70" lengthAdjust="spacingAndGlyphs">10</text>
<text x="1115.23" y="522.20" font-size="16.5" fill="#000">4</text>
<text x="996.00" y="571.00" font-size="30" text-anchor="middle" font-style="italic" fill="#000">Bi</text>
<text transform="translate(826 394.4) rotate(-90)" font-size="29.5" text-anchor="middle">|<tspan font-style="italic" dx="1">F</tspan><tspan font-style="italic" font-size="21" dy="6">x</tspan><tspan dy="-6" dx="0.8">|</tspan></text>
<text x="792.30" y="289.50" font-size="29.5" text-anchor="start" fill="#000">(</text>
<text x="808.10" y="289.50" font-size="29.5" text-anchor="start" font-style="italic" fill="#000">f</text>
<text x="820.40" y="289.50" font-size="29.5" text-anchor="start" fill="#000">)</text>
</svg>
</body></html>
